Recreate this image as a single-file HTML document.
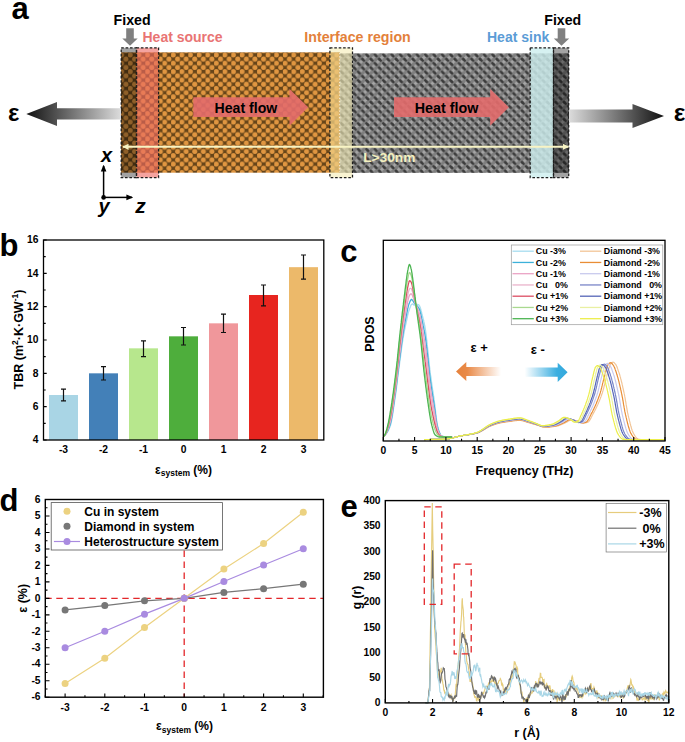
<!DOCTYPE html>
<html><head><meta charset="utf-8"><style>
html,body{margin:0;padding:0;background:#fff;}
svg{display:block;}
text{font-family:"Liberation Sans",sans-serif;}
</style></head><body>
<svg width="685" height="742" viewBox="0 0 685 742" font-family="Liberation Sans, sans-serif">
<rect width="685" height="742" fill="#fff"/>
<defs>
<pattern id="cu" x="119.5" y="52.3" width="8.6" height="8.4" patternUnits="userSpaceOnUse"><rect width="8.6" height="8.4" fill="#674519"/><g fill="#e09641"><circle cx="2.15" cy="2.6" r="2.5"/><circle cx="6.45" cy="6.8" r="2.5"/><circle cx="6.45" cy="-1.6" r="2.5"/><circle cx="-2.15" cy="6.8" r="2.5"/><circle cx="10.75" cy="6.8" r="2.5"/><circle cx="2.15" cy="11.0" r="2.5"/><circle cx="10.75" cy="-1.6" r="2.5"/><circle cx="-2.15" cy="-1.6" r="2.5"/></g></pattern>
<pattern id="dia" x="340" y="53.3" width="8.4" height="8.6" patternUnits="userSpaceOnUse"><rect width="8.4" height="8.6" fill="#7e7e7e"/><g fill="#3c3c3c"><ellipse cx="2.1" cy="2.15" rx="2.45" ry="1.45" transform="rotate(45 2.1 2.15)"/><ellipse cx="6.3" cy="6.45" rx="2.45" ry="1.45" transform="rotate(45 6.3 6.45)"/><ellipse cx="10.5" cy="2.15" rx="2.45" ry="1.45" transform="rotate(45 10.5 2.15)"/><ellipse cx="-2.1" cy="6.45" rx="2.45" ry="1.45" transform="rotate(45 -2.1 6.45)"/><ellipse cx="6.3" cy="-2.15" rx="2.45" ry="1.45" transform="rotate(45 6.3 -2.15)"/><ellipse cx="2.1" cy="10.75" rx="2.45" ry="1.45" transform="rotate(45 2.1 10.75)"/><ellipse cx="10.5" cy="10.75" rx="2.45" ry="1.45" transform="rotate(45 10.5 10.75)"/><ellipse cx="-2.1" cy="-2.15" rx="2.45" ry="1.45" transform="rotate(45 -2.1 -2.15)"/></g><g fill="#a8a8a8"><rect x="2.3000000000000003" y="-0.6" width="3.8" height="1.2"/><rect x="3.6" y="-1.9" width="1.2" height="3.8"/><circle cx="4.2" cy="0" r="1.1"/><rect x="2.3000000000000003" y="8.0" width="3.8" height="1.2"/><rect x="3.6" y="6.699999999999999" width="1.2" height="3.8"/><circle cx="4.2" cy="8.6" r="1.1"/><rect x="-1.9" y="3.6999999999999997" width="3.8" height="1.2"/><rect x="-0.6" y="2.4" width="1.2" height="3.8"/><circle cx="0" cy="4.3" r="1.1"/><rect x="6.5" y="3.6999999999999997" width="3.8" height="1.2"/><rect x="7.800000000000001" y="2.4" width="1.2" height="3.8"/><circle cx="8.4" cy="4.3" r="1.1"/></g></pattern>
<linearGradient id="gl" x1="0" x2="1" y1="0" y2="0"><stop offset="0" stop-color="#111"/><stop offset="1" stop-color="#dcdcdc"/></linearGradient>
<linearGradient id="gr" x1="0" x2="1" y1="0" y2="0"><stop offset="0" stop-color="#dcdcdc"/><stop offset="1" stop-color="#111"/></linearGradient>
<linearGradient id="go" x1="0" x2="1" y1="0" y2="0"><stop offset="0" stop-color="#e6823c"/><stop offset="0.25" stop-color="#e98a48"/><stop offset="1" stop-color="#e98a48" stop-opacity="0"/></linearGradient>
<linearGradient id="gb" x1="0" x2="1" y1="0" y2="0"><stop offset="0" stop-color="#3aaee0" stop-opacity="0"/><stop offset="0.75" stop-color="#3aaee0"/><stop offset="1" stop-color="#34a8dc"/></linearGradient>
<marker id="ya" viewBox="0 0 10 10" refX="9" refY="5" markerWidth="6.2" markerHeight="6.4" orient="auto-start-reverse" markerUnits="userSpaceOnUse"><path d="M0,0 L10,5 L0,10 z" fill="#f8f4c4"/></marker>
<marker id="ka" viewBox="0 0 10 10" refX="8" refY="5" markerWidth="7" markerHeight="7" orient="auto" markerUnits="userSpaceOnUse"><path d="M0,1 L10,5 L0,9 z" fill="#000"/></marker>
</defs>
<text x="11.5" y="18.6" font-size="31" font-weight="bold" fill="#000" text-anchor="start" >a</text>
<rect x="121" y="52.3" width="219" height="120.4" fill="url(#cu)"/>
<rect x="340" y="53.3" width="229" height="119.6" fill="url(#dia)"/>
<rect x="121.2" y="47.8" width="15.3" height="129.8" fill="#000" fill-opacity="0.36"/>
<rect x="136.5" y="47.8" width="22.1" height="129.8" fill="#ee6a64" fill-opacity="0.62"/>
<rect x="329.9" y="47.8" width="22.6" height="130" fill="#f6edb6" fill-opacity="0.62"/>
<rect x="329.9" y="52.3" width="9.8" height="120.2" fill="#e8b050" fill-opacity="0.4"/>
<line x1="339.7" y1="53" x2="339.7" y2="172" stroke="#fff" stroke-width="0.8" stroke-dasharray="1.2,2"/>
<rect x="530.2" y="47.8" width="23.3" height="129.8" fill="#cdeeee" fill-opacity="0.82"/>
<rect x="553.5" y="47.8" width="15.2" height="129.8" fill="#000" fill-opacity="0.36"/>
<rect x="121.2" y="47.8" width="15.3" height="129.8" fill="none" stroke="#1e1e1e" stroke-width="1.25" stroke-dasharray="2.6,1.8"/>
<rect x="136.5" y="47.8" width="22.1" height="129.8" fill="none" stroke="#1e1e1e" stroke-width="1.25" stroke-dasharray="2.6,1.8"/>
<rect x="329.9" y="47.8" width="22.6" height="129.8" fill="none" stroke="#1e1e1e" stroke-width="1.25" stroke-dasharray="2.6,1.8"/>
<rect x="530.2" y="47.8" width="23.3" height="129.8" fill="none" stroke="#1e1e1e" stroke-width="1.25" stroke-dasharray="2.6,1.8"/>
<rect x="553.5" y="47.8" width="15.2" height="129.8" fill="none" stroke="#1e1e1e" stroke-width="1.25" stroke-dasharray="2.6,1.8"/>
<path d="M193.3,97.3 L289.5,97.3 L289.5,88.9 L308.2,107.2 L289.5,125.7 L289.5,117 L193.3,117 Z" fill="#e36c6c" fill-opacity="0.9"/>
<path d="M394.0,97.3 L490.2,97.3 L490.2,88.9 L508.9,107.2 L490.2,125.7 L490.2,117 L394.0,117 Z" fill="#e36c6c" fill-opacity="0.9"/>
<text x="214.6" y="113.2" font-size="14.1" font-weight="bold" fill="#000" text-anchor="start" >Heat flow</text>
<text x="414.8" y="113.2" font-size="14.3" font-weight="bold" fill="#000" text-anchor="start" >Heat flow</text>
<line x1="123" y1="146.8" x2="568.5" y2="146.8" stroke="#f8f4c4" stroke-width="2.0" marker-start="url(#ya)" marker-end="url(#ya)"/>
<text x="363.2" y="162.4" font-size="13.7" font-weight="bold" fill="#f4f0bf" text-anchor="start" >L&gt;30nm</text>
<path d="M26.3,114 L57,102 L57,108.2 L121,108.2 L121,119.6 L57,119.6 L57,126 Z" fill="url(#gl)"/>
<path d="M569,109.6 L632.5,109.6 L632.5,104 L664,116 L632.5,128 L632.5,122.6 L569,122.6 Z" fill="url(#gr)"/>
<text x="8" y="121" font-size="24" font-weight="bold" fill="#000" text-anchor="start" >&#949;</text>
<text x="673.8" y="121.2" font-size="24.5" font-weight="bold" fill="#000" text-anchor="start" >&#949;</text>
<text x="113.6" y="24.8" font-size="14.2" font-weight="bold" fill="#000" text-anchor="start" >Fixed</text>
<text x="544.3" y="24.8" font-size="14.1" font-weight="bold" fill="#000" text-anchor="start" >Fixed</text>
<text x="142.5" y="41.8" font-size="14" font-weight="bold" fill="#e97474" text-anchor="start" >Heat source</text>
<text x="304.3" y="42.2" font-size="14.2" font-weight="bold" fill="#e3813b" text-anchor="start" >Interface region</text>
<text x="487" y="41.6" font-size="14" font-weight="bold" fill="#5b9cd6" text-anchor="start" >Heat sink</text>
<path d="M126.2,28.3 L133.8,28.3 L133.8,38.4 L137.7,38.4 L130.0,45.8 L122.3,38.4 L126.2,38.4 Z" fill="#808080"/>
<path d="M557.7,28.3 L565.3,28.3 L565.3,38.4 L569.2,38.4 L561.5,45.8 L553.8,38.4 L557.7,38.4 Z" fill="#808080"/>
<line x1="103.6" y1="197.4" x2="103.6" y2="166" stroke="#000" stroke-width="1.5" marker-end="url(#ka)"/>
<line x1="103.6" y1="197.4" x2="132" y2="197.4" stroke="#000" stroke-width="1.5" marker-end="url(#ka)"/>
<circle cx="103.6" cy="197.4" r="2.3" fill="#000"/>
<text x="101" y="161.8" font-size="20" font-weight="bold" fill="#000" text-anchor="start" font-style="italic">x</text>
<text x="98.5" y="213.3" font-size="20" font-weight="bold" fill="#000" text-anchor="start" font-style="italic">y</text>
<text x="135.3" y="212.8" font-size="21" font-weight="bold" fill="#000" text-anchor="start" font-style="italic">z</text>
<text x="-0.5" y="256" font-size="31" font-weight="bold" fill="#000" text-anchor="start" >b</text>
<rect x="49.00" y="395.00" width="29" height="45.00" fill="#a9d5e5"/>
<path d="M63.50,400.83 V389.17 M61.00,400.83 H66.00 M61.00,389.17 H66.00" stroke="#111" stroke-width="1.2" fill="none"/>
<text x="63.50" y="453.2" font-size="10.3" font-weight="bold" fill="#000" text-anchor="middle" >-3</text>
<rect x="89.00" y="373.33" width="29" height="66.67" fill="#4380b8"/>
<path d="M103.50,380.00 V366.67 M101.00,380.00 H106.00 M101.00,366.67 H106.00" stroke="#111" stroke-width="1.2" fill="none"/>
<text x="103.50" y="453.2" font-size="10.3" font-weight="bold" fill="#000" text-anchor="middle" >-2</text>
<rect x="129.00" y="348.33" width="29" height="91.67" fill="#b7e78d"/>
<path d="M143.50,356.67 V340.83 M141.00,356.67 H146.00 M141.00,340.83 H146.00" stroke="#111" stroke-width="1.2" fill="none"/>
<text x="143.50" y="453.2" font-size="10.3" font-weight="bold" fill="#000" text-anchor="middle" >-1</text>
<rect x="169.00" y="336.33" width="29" height="103.67" fill="#4eae3c"/>
<path d="M183.50,345.00 V327.50 M181.00,345.00 H186.00 M181.00,327.50 H186.00" stroke="#111" stroke-width="1.2" fill="none"/>
<text x="183.50" y="453.2" font-size="10.3" font-weight="bold" fill="#000" text-anchor="middle" >0</text>
<rect x="209.00" y="323.33" width="29" height="116.67" fill="#f0979b"/>
<path d="M223.50,332.50 V314.17 M221.00,332.50 H226.00 M221.00,314.17 H226.00" stroke="#111" stroke-width="1.2" fill="none"/>
<text x="223.50" y="453.2" font-size="10.3" font-weight="bold" fill="#000" text-anchor="middle" >1</text>
<rect x="249.00" y="295.00" width="29" height="145.00" fill="#e7251f"/>
<path d="M263.50,305.83 V285.00 M261.00,305.83 H266.00 M261.00,285.00 H266.00" stroke="#111" stroke-width="1.2" fill="none"/>
<text x="263.50" y="453.2" font-size="10.3" font-weight="bold" fill="#000" text-anchor="middle" >2</text>
<rect x="289.00" y="267.17" width="29" height="172.83" fill="#ecb96a"/>
<path d="M303.50,279.17 V255.00 M301.00,279.17 H306.00 M301.00,255.00 H306.00" stroke="#111" stroke-width="1.2" fill="none"/>
<text x="303.50" y="453.2" font-size="10.3" font-weight="bold" fill="#000" text-anchor="middle" >3</text>
<path d="M43.5,440.00 h3.2 M43.5,423.33 h2.2 M43.5,406.67 h3.2 M43.5,390.00 h2.2 M43.5,373.33 h3.2 M43.5,356.67 h2.2 M43.5,340.00 h3.2 M43.5,323.33 h2.2 M43.5,306.67 h3.2 M43.5,290.00 h2.2 M43.5,273.33 h3.2 M43.5,256.67 h2.2 M43.5,240.00 h3.2" stroke="#000" stroke-width="1.1"/>
<text x="38.5" y="443.30" font-size="10.3" font-weight="bold" fill="#000" text-anchor="end" >4</text>
<text x="38.5" y="409.97" font-size="10.3" font-weight="bold" fill="#000" text-anchor="end" >6</text>
<text x="38.5" y="376.63" font-size="10.3" font-weight="bold" fill="#000" text-anchor="end" >8</text>
<text x="38.5" y="343.30" font-size="10.3" font-weight="bold" fill="#000" text-anchor="end" >10</text>
<text x="38.5" y="309.97" font-size="10.3" font-weight="bold" fill="#000" text-anchor="end" >12</text>
<text x="38.5" y="276.63" font-size="10.3" font-weight="bold" fill="#000" text-anchor="end" >14</text>
<text x="38.5" y="243.30" font-size="10.3" font-weight="bold" fill="#000" text-anchor="end" >16</text>
<rect x="43.5" y="240.0" width="280.3" height="200.0" fill="none" stroke="#000" stroke-width="1.3"/>
<text x="22.6" y="339.5" font-size="12.5" font-weight="bold" text-anchor="middle" transform="rotate(-90 22.6 339.5)">TBR (m<tspan font-size="8.5" dy="-4.5">2</tspan><tspan dy="4.5">&#183;K&#183;GW</tspan><tspan font-size="8.5" dy="-4.5">-1</tspan><tspan dy="4.5">)</tspan></text>
<text x="155" y="473.5" font-size="12" font-weight="bold">&#949;<tspan font-size="8.5" dy="2.6">system</tspan><tspan dy="-2.6"> (%)</tspan></text>
<text x="340.3" y="261.6" font-size="31" font-weight="bold" fill="#000" text-anchor="start" >c</text>
<path d="M424.2,439.6 L424.4,439.6 L424.7,439.6 L424.9,439.6 L425.1,439.6 L425.4,439.5 L425.6,439.5 L425.8,439.5 L426.1,439.5 L426.3,439.5 L426.5,439.5 L426.8,439.5 L427.0,439.5 L427.2,439.5 L427.5,439.5 L427.7,439.5 L427.9,439.5 L428.2,439.5 L428.4,439.5 L428.6,439.5 L428.9,439.5 L429.1,439.5 L429.3,439.5 L429.6,439.5 L429.8,439.5 L430.1,439.5 L430.3,439.5 L430.5,439.5 L430.8,439.5 L431.0,439.4 L431.2,439.4 L431.5,439.4 L431.7,439.4 L431.9,439.4 L432.2,439.4 L432.4,439.4 L432.6,439.4 L432.9,439.4 L433.1,439.4 L433.3,439.4 L433.6,439.4 L433.8,439.4 L434.0,439.4 L434.3,439.4 L434.5,439.4 L434.8,439.4 L435.0,439.4 L435.2,439.4 L435.5,439.4 L435.7,439.4 L435.9,439.3 L436.2,439.3 L436.4,439.3 L436.6,439.3 L436.9,439.3 L437.1,439.3 L437.3,439.3 L437.6,439.3 L437.8,439.3 L438.0,439.3 L438.3,439.3 L438.5,439.3 L438.7,439.3 L439.0,439.3 L439.2,439.3 L439.5,439.3 L439.7,439.3 L439.9,439.2 L440.2,439.2 L440.4,439.2 L440.6,439.2 L440.9,439.2 L441.1,439.2 L441.3,439.2 L441.6,439.2 L441.8,439.2 L442.0,439.2 L442.3,439.2 L442.5,439.2 L442.7,439.1 L443.0,439.1 L443.2,439.1 L443.4,439.1 L443.7,439.1 L443.9,439.1 L444.2,439.1 L444.4,439.1 L444.6,439.1 L444.9,439.1 L445.1,439.0 L445.3,439.0 L445.6,439.0 L445.8,439.0 L446.0,439.0 L446.3,439.0 L446.5,439.0 L446.7,438.9 L447.0,438.9 L447.2,438.9 L447.4,438.9 L447.7,438.8 L447.9,438.8 L448.1,438.8 L448.4,438.7 L448.6,438.7 L448.8,438.7 L449.1,438.6 L449.3,438.6 L449.6,438.6 L449.8,438.5 L450.0,438.5 L450.3,438.4 L450.5,438.4 L450.7,438.3 L451.0,438.3 L451.2,438.2 L451.4,438.2 L451.7,438.1 L451.9,438.1 L452.1,438.0 L452.4,438.0 L452.6,437.9 L452.8,437.8 L453.1,437.8 L453.3,437.7 L453.5,437.7 L453.8,437.6 L454.0,437.5 L454.3,437.5 L454.5,437.4 L454.7,437.4 L455.0,437.3 L455.2,437.2 L455.4,437.2 L455.7,437.1 L455.9,437.1 L456.1,437.0 L456.4,436.9 L456.6,436.9 L456.8,436.8 L457.1,436.8 L457.3,436.7 L457.5,436.6 L457.8,436.6 L458.0,436.5 L458.2,436.5 L458.5,436.4 L458.7,436.4 L459.0,436.3 L459.2,436.3 L459.4,436.2 L459.7,436.2 L459.9,436.1 L460.1,436.1 L460.4,436.0 L460.6,436.0 L460.8,435.9 L461.1,435.9 L461.3,435.8 L461.5,435.8 L461.8,435.8 L462.0,435.7 L462.2,435.7 L462.5,435.7 L462.7,435.6 L462.9,435.6 L463.2,435.5 L463.4,435.5 L463.7,435.5 L463.9,435.4 L464.1,435.4 L464.4,435.4 L464.6,435.3 L464.8,435.3 L465.1,435.3 L465.3,435.2 L465.5,435.2 L465.8,435.1 L466.0,435.1 L466.2,435.1 L466.5,435.0 L466.7,435.0 L466.9,435.0 L467.2,434.9 L467.4,434.9 L467.6,434.9 L467.9,434.8 L468.1,434.8 L468.4,434.8 L468.6,434.7 L468.8,434.7 L469.1,434.7 L469.3,434.6 L469.5,434.6 L469.8,434.6 L470.0,434.5 L470.2,434.5 L470.5,434.4 L470.7,434.4 L470.9,434.4 L471.2,434.3 L471.4,434.3 L471.6,434.2 L471.9,434.2 L472.1,434.2 L472.3,434.1 L472.6,434.1 L472.8,434.0 L473.0,434.0 L473.3,433.9 L473.5,433.9 L473.8,433.8 L474.0,433.8 L474.2,433.8 L474.5,433.7 L474.7,433.7 L474.9,433.6 L475.2,433.5 L475.4,433.5 L475.6,433.4 L475.9,433.4 L476.1,433.3 L476.3,433.3 L476.6,433.2 L476.8,433.1 L477.0,433.1 L477.3,433.0 L477.5,432.9 L477.7,432.9 L478.0,432.8 L478.2,432.7 L478.5,432.6 L478.7,432.5 L478.9,432.4 L479.2,432.3 L479.4,432.2 L479.6,432.1 L479.9,432.0 L480.1,431.8 L480.3,431.7 L480.6,431.6 L480.8,431.5 L481.0,431.4 L481.3,431.2 L481.5,431.1 L481.7,431.0 L482.0,430.8 L482.2,430.7 L482.4,430.6 L482.7,430.4 L482.9,430.3 L483.2,430.2 L483.4,430.0 L483.6,429.9 L483.9,429.7 L484.1,429.6 L484.3,429.5 L484.6,429.3 L484.8,429.2 L485.0,429.0 L485.3,428.9 L485.5,428.7 L485.7,428.6 L486.0,428.4 L486.2,428.3 L486.4,428.1 L486.7,428.0 L486.9,427.9 L487.1,427.7 L487.4,427.6 L487.6,427.5 L487.9,427.3 L488.1,427.2 L488.3,427.1 L488.6,427.0 L488.8,426.8 L489.0,426.7 L489.3,426.6 L489.5,426.5 L489.7,426.4 L490.0,426.3 L490.2,426.2 L490.4,426.1 L490.7,426.0 L490.9,425.9 L491.1,425.8 L491.4,425.7 L491.6,425.6 L491.8,425.5 L492.1,425.5 L492.3,425.4 L492.5,425.3 L492.8,425.2 L493.0,425.1 L493.3,425.0 L493.5,424.9 L493.7,424.8 L494.0,424.8 L494.2,424.7 L494.4,424.6 L494.7,424.5 L494.9,424.4 L495.1,424.3 L495.4,424.3 L495.6,424.2 L495.8,424.1 L496.1,424.0 L496.3,424.0 L496.5,423.9 L496.8,423.8 L497.0,423.8 L497.2,423.7 L497.5,423.6 L497.7,423.6 L498.0,423.5 L498.2,423.4 L498.4,423.4 L498.7,423.3 L498.9,423.2 L499.1,423.2 L499.4,423.1 L499.6,423.1 L499.8,423.0 L500.1,423.0 L500.3,422.9 L500.5,422.9 L500.8,422.8 L501.0,422.8 L501.2,422.8 L501.5,422.7 L501.7,422.7 L501.9,422.6 L502.2,422.6 L502.4,422.5 L502.7,422.5 L502.9,422.5 L503.1,422.4 L503.4,422.4 L503.6,422.3 L503.8,422.3 L504.1,422.3 L504.3,422.2 L504.5,422.2 L504.8,422.2 L505.0,422.1 L505.2,422.1 L505.5,422.1 L505.7,422.0 L505.9,422.0 L506.2,422.0 L506.4,421.9 L506.6,421.9 L506.9,421.9 L507.1,421.8 L507.4,421.8 L507.6,421.8 L507.8,421.7 L508.1,421.7 L508.3,421.7 L508.5,421.6 L508.8,421.6 L509.0,421.6 L509.2,421.5 L509.5,421.5 L509.7,421.5 L509.9,421.5 L510.2,421.4 L510.4,421.4 L510.6,421.4 L510.9,421.3 L511.1,421.3 L511.3,421.3 L511.6,421.2 L511.8,421.2 L512.1,421.2 L512.3,421.1 L512.5,421.1 L512.8,421.0 L513.0,421.0 L513.2,421.0 L513.5,420.9 L513.7,420.9 L513.9,420.9 L514.2,420.9 L514.4,420.8 L514.6,420.8 L514.9,420.8 L515.1,420.7 L515.3,420.7 L515.6,420.7 L515.8,420.7 L516.0,420.6 L516.3,420.6 L516.5,420.6 L516.7,420.6 L517.0,420.5 L517.2,420.5 L517.5,420.5 L517.7,420.5 L517.9,420.5 L518.2,420.5 L518.4,420.4 L518.6,420.4 L518.9,420.4 L519.1,420.4 L519.3,420.4 L519.6,420.4 L519.8,420.4 L520.0,420.4 L520.3,420.4 L520.5,420.4 L520.7,420.5 L521.0,420.5 L521.2,420.5 L521.4,420.6 L521.7,420.6 L521.9,420.7 L522.2,420.7 L522.4,420.8 L522.6,420.8 L522.9,420.9 L523.1,420.9 L523.3,421.0 L523.6,421.1 L523.8,421.1 L524.0,421.2 L524.3,421.3 L524.5,421.4 L524.7,421.4 L525.0,421.5 L525.2,421.6 L525.4,421.7 L525.7,421.7 L525.9,421.8 L526.1,421.9 L526.4,422.0 L526.6,422.0 L526.9,422.1 L527.1,422.2 L527.3,422.3 L527.6,422.3 L527.8,422.4 L528.0,422.5 L528.3,422.5 L528.5,422.6 L528.7,422.7 L529.0,422.7 L529.2,422.8 L529.4,422.8 L529.7,422.9 L529.9,423.0 L530.1,423.0 L530.4,423.1 L530.6,423.2 L530.8,423.2 L531.1,423.3 L531.3,423.4 L531.6,423.4 L531.8,423.5 L532.0,423.6 L532.3,423.6 L532.5,423.7 L532.7,423.8 L533.0,423.8 L533.2,423.9 L533.4,424.0 L533.7,424.1 L533.9,424.1 L534.1,424.2 L534.4,424.3 L534.6,424.3 L534.8,424.4 L535.1,424.5 L535.3,424.5 L535.5,424.6 L535.8,424.7 L536.0,424.7 L536.2,424.8 L536.5,424.9 L536.7,424.9 L537.0,425.0 L537.2,425.1 L537.4,425.1 L537.7,425.2 L537.9,425.3 L538.1,425.4 L538.4,425.4 L538.6,425.5 L538.8,425.6 L539.1,425.7 L539.3,425.8 L539.5,425.9 L539.8,425.9 L540.0,426.0 L540.2,426.1 L540.5,426.2 L540.7,426.3 L540.9,426.4 L541.2,426.4 L541.4,426.5 L541.7,426.6 L541.9,426.7 L542.1,426.7 L542.4,426.8 L542.6,426.9 L542.8,426.9 L543.1,427.0 L543.3,427.1 L543.5,427.1 L543.8,427.1 L544.0,427.2 L544.2,427.2 L544.5,427.2 L544.7,427.3 L544.9,427.3 L545.2,427.3 L545.4,427.3 L545.6,427.3 L545.9,427.3 L546.1,427.3 L546.4,427.3 L546.6,427.3 L546.8,427.3 L547.1,427.2 L547.3,427.2 L547.5,427.2 L547.8,427.2 L548.0,427.2 L548.2,427.2 L548.5,427.2 L548.7,427.1 L548.9,427.1 L549.2,427.1 L549.4,427.1 L549.6,427.1 L549.9,427.0 L550.1,427.0 L550.3,427.0 L550.6,427.0 L550.8,426.9 L551.1,426.9 L551.3,426.9 L551.5,426.9 L551.8,426.8 L552.0,426.8 L552.2,426.8 L552.5,426.7 L552.7,426.7 L552.9,426.7 L553.2,426.6 L553.4,426.6 L553.6,426.6 L553.9,426.5 L554.1,426.5 L554.3,426.5 L554.6,426.4 L554.8,426.4 L555.0,426.4 L555.3,426.3 L555.5,426.3 L555.8,426.3 L556.0,426.2 L556.2,426.2 L556.5,426.1 L556.7,426.1 L556.9,426.1 L557.2,426.0 L557.4,425.9 L557.6,425.9 L557.9,425.8 L558.1,425.8 L558.3,425.7 L558.6,425.6 L558.8,425.5 L559.0,425.5 L559.3,425.4 L559.5,425.3 L559.7,425.2 L560.0,425.1 L560.2,425.0 L560.4,424.9 L560.7,424.8 L560.9,424.7 L561.2,424.6 L561.4,424.5 L561.6,424.4 L561.9,424.3 L562.1,424.2 L562.3,424.1 L562.6,424.0 L562.8,423.9 L563.0,423.8 L563.3,423.7 L563.5,423.6 L563.7,423.5 L564.0,423.4 L564.2,423.3 L564.4,423.2 L564.7,423.1 L564.9,423.0 L565.1,422.9 L565.4,422.8 L565.6,422.7 L565.9,422.6 L566.1,422.4 L566.3,422.3 L566.6,422.2 L566.8,422.0 L567.0,421.9 L567.3,421.7 L567.5,421.6 L567.7,421.5 L568.0,421.3 L568.2,421.2 L568.4,421.1 L568.7,420.9 L568.9,420.8 L569.1,420.7 L569.4,420.6 L569.6,420.5 L569.8,420.4 L570.1,420.3 L570.3,420.2 L570.6,420.1 L570.8,420.1 L571.0,420.0 L571.3,420.0 L571.5,420.0 L571.7,420.0 L572.0,420.0 L572.2,420.0 L572.4,420.0 L572.7,420.0 L572.9,420.1 L573.1,420.1 L573.4,420.1 L573.6,420.2 L573.8,420.2 L574.1,420.3 L574.3,420.3 L574.5,420.4 L574.8,420.4 L575.0,420.5 L575.3,420.6 L575.5,420.6 L575.7,420.7 L576.0,420.8 L576.2,420.9 L576.4,420.9 L576.7,421.0 L576.9,421.0 L577.1,421.1 L577.4,421.1 L577.6,421.2 L577.8,421.2 L578.1,421.3 L578.3,421.3 L578.5,421.3 L578.8,421.4 L579.0,421.4 L579.2,421.5 L579.5,421.5 L579.7,421.6 L579.9,421.7 L580.2,421.8 L580.4,421.9 L580.7,422.0 L580.9,422.1 L581.1,422.2 L581.4,422.4 L581.6,422.5 L581.8,422.6 L582.1,422.7 L582.3,422.8 L582.5,422.9 L582.8,423.0 L583.0,423.1 L583.2,423.1 L583.5,423.2 L583.7,423.2 L583.9,423.2 L584.2,423.1 L584.4,423.1 L584.6,423.0 L584.9,423.0 L585.1,423.0 L585.4,422.9 L585.6,422.8 L585.8,422.8 L586.1,422.7 L586.3,422.7 L586.5,422.6 L586.8,422.5 L587.0,422.4 L587.2,422.4 L587.5,422.3 L587.7,422.2 L587.9,422.1 L588.2,422.0 L588.4,421.8 L588.6,421.6 L588.9,421.4 L589.1,421.1 L589.3,420.8 L589.6,420.5 L589.8,420.1 L590.1,419.7 L590.3,419.3 L590.5,418.9 L590.8,418.4 L591.0,418.0 L591.2,417.5 L591.5,417.0 L591.7,416.5 L591.9,416.0 L592.2,415.6 L592.4,415.1 L592.6,414.7 L592.9,414.2 L593.1,413.8 L593.3,413.4 L593.6,412.9 L593.8,412.5 L594.0,412.1 L594.3,411.6 L594.5,411.2 L594.8,410.8 L595.0,410.3 L595.2,409.9 L595.5,409.4 L595.7,408.9 L595.9,408.5 L596.2,408.0 L596.4,407.5 L596.6,407.0 L596.9,406.5 L597.1,406.0 L597.3,405.5 L597.6,405.0 L597.8,404.5 L598.0,403.9 L598.3,403.4 L598.5,402.9 L598.7,402.3 L599.0,401.8 L599.2,401.2 L599.5,400.6 L599.7,400.0 L599.9,399.4 L600.2,398.8 L600.4,398.2 L600.6,397.6 L600.9,397.0 L601.1,396.4 L601.3,395.7 L601.6,395.1 L601.8,394.4 L602.0,393.7 L602.3,393.0 L602.5,392.3 L602.7,391.5 L603.0,390.7 L603.2,389.8 L603.4,389.0 L603.7,388.1 L603.9,387.2 L604.1,386.2 L604.4,385.3 L604.6,384.4 L604.9,383.4 L605.1,382.5 L605.3,381.5 L605.6,380.6 L605.8,379.6 L606.0,378.7 L606.3,377.8 L606.5,376.9 L606.7,376.1 L607.0,375.2 L607.2,374.4 L607.4,373.6 L607.7,372.8 L607.9,372.0 L608.1,371.1 L608.4,370.2 L608.6,369.4 L608.8,368.5 L609.1,367.7 L609.3,367.0 L609.6,366.3 L609.8,365.6 L610.0,365.0 L610.3,364.5 L610.5,364.1 L610.7,363.8 L611.0,363.5 L611.2,363.3 L611.4,363.0 L611.7,362.8 L611.9,362.6 L612.1,362.5 L612.4,362.4 L612.6,362.3 L612.8,362.2 L613.1,362.2 L613.3,362.2 L613.5,362.3 L613.8,362.4 L614.0,362.6 L614.3,362.8 L614.5,363.1 L614.7,363.3 L615.0,363.6 L615.2,363.9 L615.4,364.1 L615.7,364.4 L615.9,364.8 L616.1,365.2 L616.4,365.6 L616.6,366.1 L616.8,366.6 L617.1,367.2 L617.3,367.8 L617.5,368.4 L617.8,369.1 L618.0,369.8 L618.2,370.5 L618.5,371.2 L618.7,371.9 L619.0,372.6 L619.2,373.3 L619.4,374.1 L619.7,374.8 L619.9,375.6 L620.1,376.4 L620.4,377.2 L620.6,378.1 L620.8,379.0 L621.1,379.9 L621.3,380.8 L621.5,381.8 L621.8,382.7 L622.0,383.7 L622.2,384.7 L622.5,385.7 L622.7,386.8 L622.9,387.8 L623.2,388.9 L623.4,389.9 L623.6,391.0 L623.9,392.1 L624.1,393.2 L624.4,394.3 L624.6,395.5 L624.8,396.7 L625.1,398.0 L625.3,399.3 L625.5,400.7 L625.8,402.1 L626.0,403.5 L626.2,404.9 L626.5,406.3 L626.7,407.7 L626.9,409.0 L627.2,410.3 L627.4,411.6 L627.6,412.8 L627.9,413.9 L628.1,414.9 L628.3,415.9 L628.6,416.9 L628.8,417.9 L629.1,418.9 L629.3,419.9 L629.5,420.8 L629.8,421.8 L630.0,422.7 L630.2,423.7 L630.5,424.6 L630.7,425.5 L630.9,426.3 L631.2,427.1 L631.4,427.9 L631.6,428.7 L631.9,429.5 L632.1,430.2 L632.3,430.8 L632.6,431.5 L632.8,432.0 L633.0,432.6 L633.3,433.1 L633.5,433.5 L633.8,433.9 L634.0,434.3 L634.2,434.7 L634.5,435.1 L634.7,435.4 L634.9,435.8 L635.2,436.1 L635.4,436.5 L635.6,436.8 L635.9,437.1 L636.1,437.4 L636.3,437.7 L636.6,437.9 L636.8,438.2 L637.0,438.4 L637.3,438.6 L637.5,438.8 L637.7,438.9 L638.0,439.1 L638.2,439.2 L638.5,439.2 L638.7,439.3 L638.9,439.3 L639.2,439.3 L639.4,439.4 L639.6,439.4 L639.9,439.4 L640.1,439.4 L640.3,439.5 L640.6,439.5 L640.8,439.5 L641.0,439.5 L641.3,439.5 L641.5,439.6 L641.7,439.6 L642.0,439.6 L642.2,439.6 L642.4,439.6 L642.7,439.6 L642.9,439.6 L643.2,439.6 L643.4,439.6 L643.6,439.6 L643.9,439.6 L644.1,439.6 L644.3,439.6 L644.6,439.6 L644.8,439.6 L645.0,439.6 L645.3,439.6 L645.5,439.6 L645.7,439.6 L646.0,439.6 L646.2,439.6 L646.4,439.6 L646.7,439.6 L646.9,439.6 L647.1,439.6 L647.4,439.6 L647.6,439.6 L647.8,439.6 L648.1,439.6 L648.3,439.6 L648.6,439.6 L648.8,439.6 L649.0,439.6 L649.3,439.6 L649.5,439.6 L649.7,439.6 L650.0,439.6 L650.2,439.6 L650.4,439.6 L650.7,439.6 L650.9,439.6 L651.1,439.6 L651.4,439.6 L651.6,439.6 L651.8,439.6 L652.1,439.6 L652.3,439.6 L652.5,439.6 L652.8,439.6 L653.0,439.6 L653.3,439.6 L653.5,439.6 L653.7,439.6 L654.0,439.6 L654.2,439.6 L654.4,439.6 L654.7,439.6 L654.9,439.6 L655.1,439.6 L655.4,439.6 L655.6,439.6 L655.8,439.6 L656.1,439.6 L656.3,439.6 L656.5,439.6 L656.8,439.6 L657.0,439.6 L657.2,439.6 L657.5,439.6 L657.7,439.6 L658.0,439.6 L658.2,439.6 L658.4,439.6 L658.7,439.6 L658.9,439.6 L659.1,439.6 L659.4,439.6 L659.6,439.6 L659.8,439.6 L660.1,439.6 L660.3,439.6 L660.5,439.6 L660.8,439.6 L661.0,439.6 L661.2,439.6 L661.5,439.6 L661.7,439.6 L661.9,439.6 L662.2,439.6 L662.4,439.6 L662.7,439.6 L662.9,439.6 L663.1,439.6 L663.4,439.6 L663.6,439.6 L663.8,439.6 L664.1,439.6 L664.3,439.6 L664.5,439.6 L664.8,439.6 L665.0,439.6" fill="none" stroke="#f2c597" stroke-width="1.2"/>
<path d="M424.2,439.6 L424.4,439.6 L424.7,439.6 L424.9,439.6 L425.1,439.6 L425.4,439.5 L425.6,439.5 L425.8,439.5 L426.1,439.5 L426.3,439.5 L426.5,439.5 L426.8,439.5 L427.0,439.5 L427.2,439.5 L427.5,439.5 L427.7,439.5 L427.9,439.5 L428.2,439.5 L428.4,439.5 L428.6,439.5 L428.9,439.5 L429.1,439.5 L429.3,439.5 L429.6,439.5 L429.8,439.5 L430.1,439.5 L430.3,439.5 L430.5,439.5 L430.8,439.5 L431.0,439.4 L431.2,439.4 L431.5,439.4 L431.7,439.4 L431.9,439.4 L432.2,439.4 L432.4,439.4 L432.6,439.4 L432.9,439.4 L433.1,439.4 L433.3,439.4 L433.6,439.4 L433.8,439.4 L434.0,439.4 L434.3,439.4 L434.5,439.4 L434.8,439.4 L435.0,439.4 L435.2,439.4 L435.5,439.4 L435.7,439.4 L435.9,439.3 L436.2,439.3 L436.4,439.3 L436.6,439.3 L436.9,439.3 L437.1,439.3 L437.3,439.3 L437.6,439.3 L437.8,439.3 L438.0,439.3 L438.3,439.3 L438.5,439.3 L438.7,439.3 L439.0,439.3 L439.2,439.3 L439.5,439.3 L439.7,439.3 L439.9,439.2 L440.2,439.2 L440.4,439.2 L440.6,439.2 L440.9,439.2 L441.1,439.2 L441.3,439.2 L441.6,439.2 L441.8,439.2 L442.0,439.2 L442.3,439.2 L442.5,439.2 L442.7,439.1 L443.0,439.1 L443.2,439.1 L443.4,439.1 L443.7,439.1 L443.9,439.1 L444.2,439.1 L444.4,439.1 L444.6,439.1 L444.9,439.1 L445.1,439.0 L445.3,439.0 L445.6,439.0 L445.8,439.0 L446.0,439.0 L446.3,439.0 L446.5,439.0 L446.7,438.9 L447.0,438.9 L447.2,438.9 L447.4,438.9 L447.7,438.8 L447.9,438.8 L448.1,438.8 L448.4,438.7 L448.6,438.7 L448.8,438.7 L449.1,438.6 L449.3,438.6 L449.6,438.6 L449.8,438.5 L450.0,438.5 L450.3,438.4 L450.5,438.4 L450.7,438.3 L451.0,438.3 L451.2,438.2 L451.4,438.2 L451.7,438.1 L451.9,438.1 L452.1,438.0 L452.4,438.0 L452.6,437.9 L452.8,437.8 L453.1,437.8 L453.3,437.7 L453.5,437.7 L453.8,437.6 L454.0,437.5 L454.3,437.5 L454.5,437.4 L454.7,437.4 L455.0,437.3 L455.2,437.2 L455.4,437.2 L455.7,437.1 L455.9,437.1 L456.1,437.0 L456.4,436.9 L456.6,436.9 L456.8,436.8 L457.1,436.8 L457.3,436.7 L457.5,436.6 L457.8,436.6 L458.0,436.5 L458.2,436.5 L458.5,436.4 L458.7,436.4 L459.0,436.3 L459.2,436.3 L459.4,436.2 L459.7,436.2 L459.9,436.1 L460.1,436.1 L460.4,436.0 L460.6,436.0 L460.8,435.9 L461.1,435.9 L461.3,435.8 L461.5,435.8 L461.8,435.8 L462.0,435.7 L462.2,435.7 L462.5,435.6 L462.7,435.6 L462.9,435.6 L463.2,435.5 L463.4,435.5 L463.7,435.4 L463.9,435.4 L464.1,435.4 L464.4,435.3 L464.6,435.3 L464.8,435.3 L465.1,435.2 L465.3,435.2 L465.5,435.2 L465.8,435.1 L466.0,435.1 L466.2,435.1 L466.5,435.0 L466.7,435.0 L466.9,434.9 L467.2,434.9 L467.4,434.9 L467.6,434.8 L467.9,434.8 L468.1,434.8 L468.4,434.7 L468.6,434.7 L468.8,434.7 L469.1,434.6 L469.3,434.6 L469.5,434.5 L469.8,434.5 L470.0,434.5 L470.2,434.4 L470.5,434.4 L470.7,434.4 L470.9,434.3 L471.2,434.3 L471.4,434.2 L471.6,434.2 L471.9,434.1 L472.1,434.1 L472.3,434.1 L472.6,434.0 L472.8,434.0 L473.0,433.9 L473.3,433.9 L473.5,433.8 L473.8,433.8 L474.0,433.7 L474.2,433.7 L474.5,433.6 L474.7,433.6 L474.9,433.5 L475.2,433.5 L475.4,433.4 L475.6,433.3 L475.9,433.3 L476.1,433.2 L476.3,433.2 L476.6,433.1 L476.8,433.0 L477.0,433.0 L477.3,432.9 L477.5,432.8 L477.7,432.7 L478.0,432.7 L478.2,432.6 L478.5,432.5 L478.7,432.4 L478.9,432.3 L479.2,432.2 L479.4,432.0 L479.6,431.9 L479.9,431.8 L480.1,431.7 L480.3,431.6 L480.6,431.4 L480.8,431.3 L481.0,431.2 L481.3,431.1 L481.5,430.9 L481.7,430.8 L482.0,430.7 L482.2,430.5 L482.4,430.4 L482.7,430.3 L482.9,430.1 L483.2,430.0 L483.4,429.8 L483.6,429.7 L483.9,429.5 L484.1,429.4 L484.3,429.2 L484.6,429.1 L484.8,428.9 L485.0,428.8 L485.3,428.6 L485.5,428.5 L485.7,428.3 L486.0,428.2 L486.2,428.0 L486.4,427.9 L486.7,427.8 L486.9,427.6 L487.1,427.5 L487.4,427.3 L487.6,427.2 L487.9,427.1 L488.1,426.9 L488.3,426.8 L488.6,426.7 L488.8,426.6 L489.0,426.4 L489.3,426.3 L489.5,426.2 L489.7,426.1 L490.0,426.0 L490.2,425.9 L490.4,425.8 L490.7,425.7 L490.9,425.6 L491.1,425.5 L491.4,425.4 L491.6,425.3 L491.8,425.2 L492.1,425.1 L492.3,425.1 L492.5,425.0 L492.8,424.9 L493.0,424.8 L493.3,424.7 L493.5,424.6 L493.7,424.5 L494.0,424.4 L494.2,424.3 L494.4,424.3 L494.7,424.2 L494.9,424.1 L495.1,424.0 L495.4,423.9 L495.6,423.9 L495.8,423.8 L496.1,423.7 L496.3,423.6 L496.5,423.6 L496.8,423.5 L497.0,423.4 L497.2,423.3 L497.5,423.3 L497.7,423.2 L498.0,423.1 L498.2,423.1 L498.4,423.0 L498.7,423.0 L498.9,422.9 L499.1,422.8 L499.4,422.8 L499.6,422.7 L499.8,422.7 L500.1,422.6 L500.3,422.6 L500.5,422.5 L500.8,422.5 L501.0,422.4 L501.2,422.4 L501.5,422.3 L501.7,422.3 L501.9,422.2 L502.2,422.2 L502.4,422.2 L502.7,422.1 L502.9,422.1 L503.1,422.0 L503.4,422.0 L503.6,422.0 L503.8,421.9 L504.1,421.9 L504.3,421.8 L504.5,421.8 L504.8,421.8 L505.0,421.7 L505.2,421.7 L505.5,421.7 L505.7,421.6 L505.9,421.6 L506.2,421.6 L506.4,421.5 L506.6,421.5 L506.9,421.5 L507.1,421.4 L507.4,421.4 L507.6,421.4 L507.8,421.3 L508.1,421.3 L508.3,421.3 L508.5,421.2 L508.8,421.2 L509.0,421.2 L509.2,421.2 L509.5,421.1 L509.7,421.1 L509.9,421.1 L510.2,421.0 L510.4,421.0 L510.6,421.0 L510.9,420.9 L511.1,420.9 L511.3,420.9 L511.6,420.8 L511.8,420.8 L512.1,420.7 L512.3,420.7 L512.5,420.7 L512.8,420.6 L513.0,420.6 L513.2,420.6 L513.5,420.5 L513.7,420.5 L513.9,420.5 L514.2,420.4 L514.4,420.4 L514.6,420.4 L514.9,420.4 L515.1,420.3 L515.3,420.3 L515.6,420.3 L515.8,420.2 L516.0,420.2 L516.3,420.2 L516.5,420.2 L516.7,420.1 L517.0,420.1 L517.2,420.1 L517.5,420.1 L517.7,420.1 L517.9,420.1 L518.2,420.0 L518.4,420.0 L518.6,420.0 L518.9,420.0 L519.1,420.0 L519.3,420.0 L519.6,420.0 L519.8,420.0 L520.0,420.0 L520.3,420.0 L520.5,420.0 L520.7,420.1 L521.0,420.1 L521.2,420.1 L521.4,420.2 L521.7,420.2 L521.9,420.2 L522.2,420.3 L522.4,420.4 L522.6,420.4 L522.9,420.5 L523.1,420.5 L523.3,420.6 L523.6,420.7 L523.8,420.7 L524.0,420.8 L524.3,420.9 L524.5,421.0 L524.7,421.0 L525.0,421.1 L525.2,421.2 L525.4,421.3 L525.7,421.4 L525.9,421.4 L526.1,421.5 L526.4,421.6 L526.6,421.7 L526.9,421.8 L527.1,421.8 L527.3,421.9 L527.6,422.0 L527.8,422.0 L528.0,422.1 L528.3,422.2 L528.5,422.2 L528.7,422.3 L529.0,422.4 L529.2,422.4 L529.4,422.5 L529.7,422.6 L529.9,422.6 L530.1,422.7 L530.4,422.8 L530.6,422.9 L530.8,422.9 L531.1,423.0 L531.3,423.1 L531.6,423.1 L531.8,423.2 L532.0,423.3 L532.3,423.3 L532.5,423.4 L532.7,423.5 L533.0,423.6 L533.2,423.6 L533.4,423.7 L533.7,423.8 L533.9,423.9 L534.1,423.9 L534.4,424.0 L534.6,424.1 L534.8,424.1 L535.1,424.2 L535.3,424.3 L535.5,424.4 L535.8,424.4 L536.0,424.5 L536.2,424.6 L536.5,424.6 L536.7,424.7 L537.0,424.8 L537.2,424.8 L537.4,424.9 L537.7,425.0 L537.9,425.1 L538.1,425.2 L538.4,425.2 L538.6,425.3 L538.8,425.4 L539.1,425.5 L539.3,425.6 L539.5,425.7 L539.8,425.8 L540.0,425.9 L540.2,426.0 L540.5,426.0 L540.7,426.1 L540.9,426.2 L541.2,426.3 L541.4,426.4 L541.7,426.4 L541.9,426.5 L542.1,426.6 L542.4,426.7 L542.6,426.7 L542.8,426.8 L543.1,426.8 L543.3,426.9 L543.5,426.9 L543.8,426.9 L544.0,427.0 L544.2,427.0 L544.5,427.0 L544.7,427.0 L544.9,427.0 L545.2,427.0 L545.4,427.0 L545.6,427.0 L545.9,427.0 L546.1,427.0 L546.4,427.0 L546.6,427.0 L546.8,427.0 L547.1,426.9 L547.3,426.9 L547.5,426.9 L547.8,426.9 L548.0,426.9 L548.2,426.9 L548.5,426.8 L548.7,426.8 L548.9,426.8 L549.2,426.8 L549.4,426.8 L549.6,426.7 L549.9,426.7 L550.1,426.7 L550.3,426.7 L550.6,426.6 L550.8,426.6 L551.1,426.6 L551.3,426.5 L551.5,426.5 L551.8,426.5 L552.0,426.4 L552.2,426.4 L552.5,426.4 L552.7,426.3 L552.9,426.3 L553.2,426.3 L553.4,426.2 L553.6,426.2 L553.9,426.1 L554.1,426.1 L554.3,426.1 L554.6,426.0 L554.8,426.0 L555.0,426.0 L555.3,425.9 L555.5,425.9 L555.8,425.8 L556.0,425.8 L556.2,425.7 L556.5,425.7 L556.7,425.6 L556.9,425.6 L557.2,425.5 L557.4,425.4 L557.6,425.4 L557.9,425.3 L558.1,425.2 L558.3,425.1 L558.6,425.0 L558.8,424.9 L559.0,424.8 L559.3,424.7 L559.5,424.6 L559.7,424.5 L560.0,424.4 L560.2,424.3 L560.4,424.2 L560.7,424.1 L560.9,424.0 L561.2,423.9 L561.4,423.8 L561.6,423.7 L561.9,423.6 L562.1,423.5 L562.3,423.4 L562.6,423.2 L562.8,423.1 L563.0,423.0 L563.3,422.9 L563.5,422.8 L563.7,422.7 L564.0,422.6 L564.2,422.5 L564.4,422.4 L564.7,422.3 L564.9,422.1 L565.1,422.0 L565.4,421.9 L565.6,421.7 L565.9,421.6 L566.1,421.4 L566.3,421.3 L566.6,421.1 L566.8,421.0 L567.0,420.8 L567.3,420.7 L567.5,420.6 L567.7,420.4 L568.0,420.3 L568.2,420.2 L568.4,420.1 L568.7,420.0 L568.9,419.9 L569.1,419.8 L569.4,419.7 L569.6,419.7 L569.8,419.6 L570.1,419.6 L570.3,419.6 L570.6,419.5 L570.8,419.6 L571.0,419.6 L571.3,419.6 L571.5,419.6 L571.7,419.6 L572.0,419.7 L572.2,419.7 L572.4,419.8 L572.7,419.8 L572.9,419.9 L573.1,419.9 L573.4,420.0 L573.6,420.1 L573.8,420.1 L574.1,420.2 L574.3,420.3 L574.5,420.4 L574.8,420.4 L575.0,420.5 L575.3,420.6 L575.5,420.6 L575.7,420.7 L576.0,420.7 L576.2,420.8 L576.4,420.8 L576.7,420.9 L576.9,421.0 L577.1,421.0 L577.4,421.1 L577.6,421.1 L577.8,421.2 L578.1,421.2 L578.3,421.3 L578.5,421.4 L578.8,421.5 L579.0,421.6 L579.2,421.8 L579.5,421.9 L579.7,422.0 L579.9,422.2 L580.2,422.3 L580.4,422.4 L580.7,422.5 L580.9,422.7 L581.1,422.8 L581.4,422.8 L581.6,422.9 L581.8,423.0 L582.1,423.0 L582.3,423.0 L582.5,423.0 L582.8,422.9 L583.0,422.9 L583.2,422.9 L583.5,422.8 L583.7,422.8 L583.9,422.7 L584.2,422.7 L584.4,422.6 L584.6,422.5 L584.9,422.5 L585.1,422.4 L585.4,422.3 L585.6,422.3 L585.8,422.2 L586.1,422.1 L586.3,422.0 L586.5,421.9 L586.8,421.7 L587.0,421.5 L587.2,421.3 L587.5,421.0 L587.7,420.6 L587.9,420.3 L588.2,419.9 L588.4,419.5 L588.6,419.1 L588.9,418.6 L589.1,418.2 L589.3,417.7 L589.6,417.2 L589.8,416.7 L590.1,416.2 L590.3,415.7 L590.5,415.3 L590.8,414.8 L591.0,414.3 L591.2,413.9 L591.5,413.4 L591.7,413.0 L591.9,412.6 L592.2,412.1 L592.4,411.7 L592.6,411.2 L592.9,410.8 L593.1,410.3 L593.3,409.8 L593.6,409.4 L593.8,408.9 L594.0,408.4 L594.3,407.9 L594.5,407.4 L594.8,406.9 L595.0,406.4 L595.2,405.9 L595.5,405.4 L595.7,404.8 L595.9,404.3 L596.2,403.7 L596.4,403.2 L596.6,402.6 L596.9,402.1 L597.1,401.5 L597.3,400.9 L597.6,400.3 L597.8,399.7 L598.0,399.1 L598.3,398.5 L598.5,397.8 L598.7,397.2 L599.0,396.6 L599.2,395.9 L599.5,395.2 L599.7,394.5 L599.9,393.9 L600.2,393.1 L600.4,392.4 L600.6,391.5 L600.9,390.7 L601.1,389.8 L601.3,388.9 L601.6,388.0 L601.8,387.1 L602.0,386.1 L602.3,385.2 L602.5,384.2 L602.7,383.2 L603.0,382.2 L603.2,381.3 L603.4,380.3 L603.7,379.4 L603.9,378.4 L604.1,377.5 L604.4,376.6 L604.6,375.8 L604.9,374.9 L605.1,374.1 L605.3,373.3 L605.6,372.4 L605.8,371.6 L606.0,370.7 L606.3,369.8 L606.5,368.9 L606.7,368.1 L607.0,367.3 L607.2,366.6 L607.4,366.0 L607.7,365.4 L607.9,364.9 L608.1,364.5 L608.4,364.2 L608.6,364.0 L608.8,363.7 L609.1,363.5 L609.3,363.3 L609.6,363.1 L609.8,363.0 L610.0,362.8 L610.3,362.8 L610.5,362.7 L610.7,362.8 L611.0,362.8 L611.2,362.9 L611.4,363.1 L611.7,363.3 L611.9,363.5 L612.1,363.8 L612.4,364.0 L612.6,364.3 L612.8,364.6 L613.1,364.9 L613.3,365.2 L613.5,365.6 L613.8,366.0 L614.0,366.5 L614.3,367.0 L614.5,367.5 L614.7,368.1 L615.0,368.7 L615.2,369.4 L615.4,370.0 L615.7,370.7 L615.9,371.4 L616.1,372.1 L616.4,372.8 L616.6,373.6 L616.8,374.3 L617.1,375.0 L617.3,375.8 L617.5,376.6 L617.8,377.4 L618.0,378.2 L618.2,379.1 L618.5,380.0 L618.7,380.9 L619.0,381.8 L619.2,382.8 L619.4,383.8 L619.7,384.8 L619.9,385.8 L620.1,386.8 L620.4,387.8 L620.6,388.9 L620.8,389.9 L621.1,391.0 L621.3,392.1 L621.5,393.2 L621.8,394.3 L622.0,395.4 L622.2,396.6 L622.5,397.8 L622.7,399.1 L622.9,400.5 L623.2,401.9 L623.4,403.3 L623.6,404.7 L623.9,406.0 L624.1,407.4 L624.4,408.8 L624.6,410.1 L624.8,411.4 L625.1,412.6 L625.3,413.7 L625.5,414.7 L625.8,415.7 L626.0,416.7 L626.2,417.7 L626.5,418.7 L626.7,419.7 L626.9,420.6 L627.2,421.6 L627.4,422.5 L627.6,423.5 L627.9,424.4 L628.1,425.3 L628.3,426.1 L628.6,427.0 L628.8,427.8 L629.1,428.5 L629.3,429.3 L629.5,430.0 L629.8,430.7 L630.0,431.3 L630.2,431.9 L630.5,432.5 L630.7,433.0 L630.9,433.4 L631.2,433.8 L631.4,434.2 L631.6,434.6 L631.9,435.0 L632.1,435.3 L632.3,435.7 L632.6,436.0 L632.8,436.4 L633.0,436.7 L633.3,437.0 L633.5,437.3 L633.8,437.6 L634.0,437.8 L634.2,438.1 L634.5,438.3 L634.7,438.5 L634.9,438.7 L635.2,438.9 L635.4,439.0 L635.6,439.1 L635.9,439.2 L636.1,439.3 L636.3,439.3 L636.6,439.3 L636.8,439.4 L637.0,439.4 L637.3,439.4 L637.5,439.4 L637.7,439.5 L638.0,439.5 L638.2,439.5 L638.5,439.5 L638.7,439.5 L638.9,439.6 L639.2,439.6 L639.4,439.6 L639.6,439.6 L639.9,439.6 L640.1,439.6 L640.3,439.6 L640.6,439.6 L640.8,439.6 L641.0,439.6 L641.3,439.6 L641.5,439.6 L641.7,439.6 L642.0,439.6 L642.2,439.6 L642.4,439.6 L642.7,439.6 L642.9,439.6 L643.2,439.6 L643.4,439.6 L643.6,439.6 L643.9,439.6 L644.1,439.6 L644.3,439.6 L644.6,439.6 L644.8,439.6 L645.0,439.6 L645.3,439.6 L645.5,439.6 L645.7,439.6 L646.0,439.6 L646.2,439.6 L646.4,439.6 L646.7,439.6 L646.9,439.6 L647.1,439.6 L647.4,439.6 L647.6,439.6 L647.8,439.6 L648.1,439.6 L648.3,439.6 L648.6,439.6 L648.8,439.6 L649.0,439.6 L649.3,439.6 L649.5,439.6 L649.7,439.6 L650.0,439.6 L650.2,439.6 L650.4,439.6 L650.7,439.6 L650.9,439.6 L651.1,439.6 L651.4,439.6 L651.6,439.6 L651.8,439.6 L652.1,439.6 L652.3,439.6 L652.5,439.6 L652.8,439.6 L653.0,439.6 L653.3,439.6 L653.5,439.6 L653.7,439.6 L654.0,439.6 L654.2,439.6 L654.4,439.6 L654.7,439.6 L654.9,439.6 L655.1,439.6 L655.4,439.6 L655.6,439.6 L655.8,439.6 L656.1,439.6 L656.3,439.6 L656.5,439.6 L656.8,439.6 L657.0,439.6 L657.2,439.6 L657.5,439.6 L657.7,439.6 L658.0,439.6 L658.2,439.6 L658.4,439.6 L658.7,439.6 L658.9,439.6 L659.1,439.6 L659.4,439.6 L659.6,439.6 L659.8,439.6 L660.1,439.6 L660.3,439.6 L660.5,439.6 L660.8,439.6 L661.0,439.6 L661.2,439.6 L661.5,439.6 L661.7,439.6 L661.9,439.6 L662.2,439.6 L662.4,439.6 L662.7,439.6 L662.9,439.6 L663.1,439.6 L663.4,439.6 L663.6,439.6 L663.8,439.6 L664.1,439.6 L664.3,439.6 L664.5,439.6 L664.8,439.6 L665.0,439.6" fill="none" stroke="#e98d35" stroke-width="1.2"/>
<path d="M424.2,439.6 L424.4,439.6 L424.7,439.6 L424.9,439.6 L425.1,439.6 L425.4,439.5 L425.6,439.5 L425.8,439.5 L426.1,439.5 L426.3,439.5 L426.5,439.5 L426.8,439.5 L427.0,439.5 L427.2,439.5 L427.5,439.5 L427.7,439.5 L427.9,439.5 L428.2,439.5 L428.4,439.5 L428.6,439.5 L428.9,439.5 L429.1,439.5 L429.3,439.5 L429.6,439.5 L429.8,439.5 L430.1,439.5 L430.3,439.5 L430.5,439.5 L430.8,439.5 L431.0,439.4 L431.2,439.4 L431.5,439.4 L431.7,439.4 L431.9,439.4 L432.2,439.4 L432.4,439.4 L432.6,439.4 L432.9,439.4 L433.1,439.4 L433.3,439.4 L433.6,439.4 L433.8,439.4 L434.0,439.4 L434.3,439.4 L434.5,439.4 L434.8,439.4 L435.0,439.4 L435.2,439.4 L435.5,439.4 L435.7,439.4 L435.9,439.3 L436.2,439.3 L436.4,439.3 L436.6,439.3 L436.9,439.3 L437.1,439.3 L437.3,439.3 L437.6,439.3 L437.8,439.3 L438.0,439.3 L438.3,439.3 L438.5,439.3 L438.7,439.3 L439.0,439.3 L439.2,439.3 L439.5,439.3 L439.7,439.3 L439.9,439.2 L440.2,439.2 L440.4,439.2 L440.6,439.2 L440.9,439.2 L441.1,439.2 L441.3,439.2 L441.6,439.2 L441.8,439.2 L442.0,439.2 L442.3,439.2 L442.5,439.2 L442.7,439.1 L443.0,439.1 L443.2,439.1 L443.4,439.1 L443.7,439.1 L443.9,439.1 L444.2,439.1 L444.4,439.1 L444.6,439.1 L444.9,439.1 L445.1,439.0 L445.3,439.0 L445.6,439.0 L445.8,439.0 L446.0,439.0 L446.3,439.0 L446.5,439.0 L446.7,438.9 L447.0,438.9 L447.2,438.9 L447.4,438.9 L447.7,438.8 L447.9,438.8 L448.1,438.8 L448.4,438.7 L448.6,438.7 L448.8,438.7 L449.1,438.6 L449.3,438.6 L449.6,438.6 L449.8,438.5 L450.0,438.5 L450.3,438.4 L450.5,438.4 L450.7,438.3 L451.0,438.3 L451.2,438.2 L451.4,438.2 L451.7,438.1 L451.9,438.1 L452.1,438.0 L452.4,438.0 L452.6,437.9 L452.8,437.8 L453.1,437.8 L453.3,437.7 L453.5,437.7 L453.8,437.6 L454.0,437.5 L454.3,437.5 L454.5,437.4 L454.7,437.4 L455.0,437.3 L455.2,437.2 L455.4,437.2 L455.7,437.1 L455.9,437.1 L456.1,437.0 L456.4,436.9 L456.6,436.9 L456.8,436.8 L457.1,436.8 L457.3,436.7 L457.5,436.6 L457.8,436.6 L458.0,436.5 L458.2,436.5 L458.5,436.4 L458.7,436.4 L459.0,436.3 L459.2,436.3 L459.4,436.2 L459.7,436.2 L459.9,436.1 L460.1,436.1 L460.4,436.0 L460.6,436.0 L460.8,435.9 L461.1,435.9 L461.3,435.8 L461.5,435.8 L461.8,435.7 L462.0,435.7 L462.2,435.7 L462.5,435.6 L462.7,435.6 L462.9,435.5 L463.2,435.5 L463.4,435.5 L463.7,435.4 L463.9,435.4 L464.1,435.4 L464.4,435.3 L464.6,435.3 L464.8,435.2 L465.1,435.2 L465.3,435.2 L465.5,435.1 L465.8,435.1 L466.0,435.1 L466.2,435.0 L466.5,435.0 L466.7,434.9 L466.9,434.9 L467.2,434.9 L467.4,434.8 L467.6,434.8 L467.9,434.8 L468.1,434.7 L468.4,434.7 L468.6,434.6 L468.8,434.6 L469.1,434.6 L469.3,434.5 L469.5,434.5 L469.8,434.5 L470.0,434.4 L470.2,434.4 L470.5,434.3 L470.7,434.3 L470.9,434.2 L471.2,434.2 L471.4,434.2 L471.6,434.1 L471.9,434.1 L472.1,434.0 L472.3,434.0 L472.6,433.9 L472.8,433.9 L473.0,433.8 L473.3,433.8 L473.5,433.7 L473.8,433.7 L474.0,433.6 L474.2,433.6 L474.5,433.5 L474.7,433.5 L474.9,433.4 L475.2,433.4 L475.4,433.3 L475.6,433.2 L475.9,433.2 L476.1,433.1 L476.3,433.1 L476.6,433.0 L476.8,432.9 L477.0,432.8 L477.3,432.8 L477.5,432.7 L477.7,432.6 L478.0,432.5 L478.2,432.4 L478.5,432.3 L478.7,432.2 L478.9,432.1 L479.2,432.0 L479.4,431.9 L479.6,431.8 L479.9,431.6 L480.1,431.5 L480.3,431.4 L480.6,431.3 L480.8,431.1 L481.0,431.0 L481.3,430.9 L481.5,430.7 L481.7,430.6 L482.0,430.4 L482.2,430.3 L482.4,430.2 L482.7,430.0 L482.9,429.9 L483.2,429.7 L483.4,429.6 L483.6,429.4 L483.9,429.3 L484.1,429.1 L484.3,429.0 L484.6,428.8 L484.8,428.6 L485.0,428.5 L485.3,428.3 L485.5,428.2 L485.7,428.0 L486.0,427.9 L486.2,427.7 L486.4,427.6 L486.7,427.4 L486.9,427.3 L487.1,427.1 L487.4,427.0 L487.6,426.9 L487.9,426.7 L488.1,426.6 L488.3,426.5 L488.6,426.3 L488.8,426.2 L489.0,426.1 L489.3,426.0 L489.5,425.9 L489.7,425.7 L490.0,425.6 L490.2,425.5 L490.4,425.4 L490.7,425.3 L490.9,425.2 L491.1,425.1 L491.4,425.0 L491.6,425.0 L491.8,424.9 L492.1,424.8 L492.3,424.7 L492.5,424.6 L492.8,424.5 L493.0,424.4 L493.3,424.3 L493.5,424.2 L493.7,424.1 L494.0,424.0 L494.2,423.9 L494.4,423.9 L494.7,423.8 L494.9,423.7 L495.1,423.6 L495.4,423.5 L495.6,423.4 L495.8,423.4 L496.1,423.3 L496.3,423.2 L496.5,423.1 L496.8,423.0 L497.0,423.0 L497.2,422.9 L497.5,422.8 L497.7,422.8 L498.0,422.7 L498.2,422.6 L498.4,422.6 L498.7,422.5 L498.9,422.4 L499.1,422.4 L499.4,422.3 L499.6,422.3 L499.8,422.2 L500.1,422.2 L500.3,422.1 L500.5,422.1 L500.8,422.0 L501.0,422.0 L501.2,421.9 L501.5,421.9 L501.7,421.8 L501.9,421.8 L502.2,421.7 L502.4,421.7 L502.7,421.7 L502.9,421.6 L503.1,421.6 L503.4,421.5 L503.6,421.5 L503.8,421.5 L504.1,421.4 L504.3,421.4 L504.5,421.3 L504.8,421.3 L505.0,421.3 L505.2,421.2 L505.5,421.2 L505.7,421.2 L505.9,421.1 L506.2,421.1 L506.4,421.1 L506.6,421.0 L506.9,421.0 L507.1,421.0 L507.4,420.9 L507.6,420.9 L507.8,420.9 L508.1,420.8 L508.3,420.8 L508.5,420.8 L508.8,420.7 L509.0,420.7 L509.2,420.7 L509.5,420.6 L509.7,420.6 L509.9,420.6 L510.2,420.5 L510.4,420.5 L510.6,420.5 L510.9,420.4 L511.1,420.4 L511.3,420.4 L511.6,420.3 L511.8,420.3 L512.1,420.2 L512.3,420.2 L512.5,420.2 L512.8,420.1 L513.0,420.1 L513.2,420.1 L513.5,420.0 L513.7,420.0 L513.9,420.0 L514.2,419.9 L514.4,419.9 L514.6,419.9 L514.9,419.8 L515.1,419.8 L515.3,419.8 L515.6,419.8 L515.8,419.7 L516.0,419.7 L516.3,419.7 L516.5,419.6 L516.7,419.6 L517.0,419.6 L517.2,419.6 L517.5,419.6 L517.7,419.5 L517.9,419.5 L518.2,419.5 L518.4,419.5 L518.6,419.5 L518.9,419.5 L519.1,419.5 L519.3,419.5 L519.6,419.5 L519.8,419.5 L520.0,419.5 L520.3,419.5 L520.5,419.5 L520.7,419.5 L521.0,419.6 L521.2,419.6 L521.4,419.6 L521.7,419.7 L521.9,419.7 L522.2,419.8 L522.4,419.8 L522.6,419.9 L522.9,420.0 L523.1,420.0 L523.3,420.1 L523.6,420.2 L523.8,420.3 L524.0,420.3 L524.3,420.4 L524.5,420.5 L524.7,420.6 L525.0,420.7 L525.2,420.7 L525.4,420.8 L525.7,420.9 L525.9,421.0 L526.1,421.1 L526.4,421.1 L526.6,421.2 L526.9,421.3 L527.1,421.4 L527.3,421.5 L527.6,421.5 L527.8,421.6 L528.0,421.7 L528.3,421.8 L528.5,421.8 L528.7,421.9 L529.0,422.0 L529.2,422.0 L529.4,422.1 L529.7,422.2 L529.9,422.2 L530.1,422.3 L530.4,422.4 L530.6,422.5 L530.8,422.5 L531.1,422.6 L531.3,422.7 L531.6,422.8 L531.8,422.8 L532.0,422.9 L532.3,423.0 L532.5,423.1 L532.7,423.1 L533.0,423.2 L533.2,423.3 L533.4,423.4 L533.7,423.4 L533.9,423.5 L534.1,423.6 L534.4,423.7 L534.6,423.7 L534.8,423.8 L535.1,423.9 L535.3,424.0 L535.5,424.0 L535.8,424.1 L536.0,424.2 L536.2,424.3 L536.5,424.3 L536.7,424.4 L537.0,424.5 L537.2,424.6 L537.4,424.7 L537.7,424.7 L537.9,424.8 L538.1,424.9 L538.4,425.0 L538.6,425.1 L538.8,425.2 L539.1,425.3 L539.3,425.4 L539.5,425.5 L539.8,425.6 L540.0,425.7 L540.2,425.8 L540.5,425.9 L540.7,425.9 L540.9,426.0 L541.2,426.1 L541.4,426.2 L541.7,426.3 L541.9,426.3 L542.1,426.4 L542.4,426.4 L542.6,426.5 L542.8,426.5 L543.1,426.6 L543.3,426.6 L543.5,426.6 L543.8,426.7 L544.0,426.7 L544.2,426.7 L544.5,426.7 L544.7,426.7 L544.9,426.7 L545.2,426.7 L545.4,426.7 L545.6,426.6 L545.9,426.6 L546.1,426.6 L546.4,426.6 L546.6,426.6 L546.8,426.6 L547.1,426.6 L547.3,426.5 L547.5,426.5 L547.8,426.5 L548.0,426.5 L548.2,426.5 L548.5,426.4 L548.7,426.4 L548.9,426.4 L549.2,426.4 L549.4,426.3 L549.6,426.3 L549.9,426.3 L550.1,426.2 L550.3,426.2 L550.6,426.2 L550.8,426.1 L551.1,426.1 L551.3,426.1 L551.5,426.0 L551.8,426.0 L552.0,426.0 L552.2,425.9 L552.5,425.9 L552.7,425.8 L552.9,425.8 L553.2,425.8 L553.4,425.7 L553.6,425.7 L553.9,425.6 L554.1,425.6 L554.3,425.6 L554.6,425.5 L554.8,425.5 L555.0,425.4 L555.3,425.4 L555.5,425.3 L555.8,425.2 L556.0,425.2 L556.2,425.1 L556.5,425.0 L556.7,424.9 L556.9,424.9 L557.2,424.8 L557.4,424.7 L557.6,424.6 L557.9,424.5 L558.1,424.4 L558.3,424.3 L558.6,424.2 L558.8,424.1 L559.0,423.9 L559.3,423.8 L559.5,423.7 L559.7,423.6 L560.0,423.5 L560.2,423.4 L560.4,423.3 L560.7,423.1 L560.9,423.0 L561.2,422.9 L561.4,422.8 L561.6,422.7 L561.9,422.6 L562.1,422.5 L562.3,422.4 L562.6,422.2 L562.8,422.1 L563.0,422.0 L563.3,421.9 L563.5,421.7 L563.7,421.6 L564.0,421.5 L564.2,421.3 L564.4,421.1 L564.7,421.0 L564.9,420.8 L565.1,420.7 L565.4,420.5 L565.6,420.4 L565.9,420.2 L566.1,420.1 L566.3,419.9 L566.6,419.8 L566.8,419.7 L567.0,419.5 L567.3,419.4 L567.5,419.3 L567.7,419.2 L568.0,419.2 L568.2,419.1 L568.4,419.1 L568.7,419.0 L568.9,419.0 L569.1,419.0 L569.4,419.0 L569.6,419.0 L569.8,419.1 L570.1,419.1 L570.3,419.1 L570.6,419.2 L570.8,419.2 L571.0,419.3 L571.3,419.3 L571.5,419.4 L571.7,419.5 L572.0,419.5 L572.2,419.6 L572.4,419.7 L572.7,419.8 L572.9,419.8 L573.1,419.9 L573.4,420.0 L573.6,420.1 L573.8,420.1 L574.1,420.2 L574.3,420.3 L574.5,420.3 L574.8,420.4 L575.0,420.5 L575.3,420.6 L575.5,420.6 L575.7,420.7 L576.0,420.8 L576.2,420.8 L576.4,420.9 L576.7,421.0 L576.9,421.1 L577.1,421.3 L577.4,421.4 L577.6,421.5 L577.8,421.7 L578.1,421.8 L578.3,422.0 L578.5,422.1 L578.8,422.3 L579.0,422.4 L579.2,422.5 L579.5,422.6 L579.7,422.7 L579.9,422.7 L580.2,422.8 L580.4,422.8 L580.7,422.8 L580.9,422.7 L581.1,422.7 L581.4,422.7 L581.6,422.6 L581.8,422.6 L582.1,422.5 L582.3,422.5 L582.5,422.4 L582.8,422.3 L583.0,422.3 L583.2,422.2 L583.5,422.1 L583.7,422.1 L583.9,422.0 L584.2,421.9 L584.4,421.8 L584.6,421.6 L584.9,421.4 L585.1,421.1 L585.4,420.8 L585.6,420.5 L585.8,420.1 L586.1,419.8 L586.3,419.3 L586.5,418.9 L586.8,418.4 L587.0,417.9 L587.2,417.4 L587.5,416.9 L587.7,416.4 L587.9,415.9 L588.2,415.4 L588.4,415.0 L588.6,414.5 L588.9,414.0 L589.1,413.5 L589.3,413.1 L589.6,412.6 L589.8,412.2 L590.1,411.7 L590.3,411.3 L590.5,410.8 L590.8,410.3 L591.0,409.8 L591.2,409.3 L591.5,408.8 L591.7,408.3 L591.9,407.8 L592.2,407.3 L592.4,406.8 L592.6,406.3 L592.9,405.7 L593.1,405.2 L593.3,404.6 L593.6,404.1 L593.8,403.5 L594.0,402.9 L594.3,402.3 L594.5,401.7 L594.8,401.1 L595.0,400.5 L595.2,399.9 L595.5,399.3 L595.7,398.6 L595.9,398.0 L596.2,397.3 L596.4,396.6 L596.6,395.9 L596.9,395.2 L597.1,394.5 L597.3,393.8 L597.6,393.0 L597.8,392.2 L598.0,391.4 L598.3,390.5 L598.5,389.6 L598.7,388.6 L599.0,387.7 L599.2,386.7 L599.5,385.7 L599.7,384.7 L599.9,383.7 L600.2,382.7 L600.4,381.7 L600.6,380.7 L600.9,379.7 L601.1,378.8 L601.3,377.8 L601.6,376.9 L601.8,376.0 L602.0,375.2 L602.3,374.3 L602.5,373.5 L602.7,372.6 L603.0,371.7 L603.2,370.8 L603.4,369.9 L603.7,369.0 L603.9,368.2 L604.1,367.4 L604.4,366.7 L604.6,366.1 L604.9,365.6 L605.1,365.2 L605.3,364.9 L605.6,364.6 L605.8,364.4 L606.0,364.1 L606.3,363.9 L606.5,363.8 L606.7,363.6 L607.0,363.5 L607.2,363.4 L607.4,363.4 L607.7,363.5 L607.9,363.5 L608.1,363.7 L608.4,363.8 L608.6,364.0 L608.8,364.3 L609.1,364.5 L609.3,364.8 L609.6,365.1 L609.8,365.3 L610.0,365.6 L610.3,366.0 L610.5,366.3 L610.7,366.8 L611.0,367.3 L611.2,367.8 L611.4,368.3 L611.7,368.9 L611.9,369.6 L612.1,370.2 L612.4,370.9 L612.6,371.6 L612.8,372.2 L613.1,373.0 L613.3,373.7 L613.5,374.4 L613.8,375.1 L614.0,375.8 L614.3,376.6 L614.5,377.4 L614.7,378.2 L615.0,379.1 L615.2,379.9 L615.4,380.8 L615.7,381.7 L615.9,382.7 L616.1,383.6 L616.4,384.6 L616.6,385.6 L616.8,386.6 L617.1,387.6 L617.3,388.6 L617.5,389.6 L617.8,390.7 L618.0,391.8 L618.2,392.8 L618.5,393.9 L618.7,395.0 L619.0,396.1 L619.2,397.4 L619.4,398.6 L619.7,399.9 L619.9,401.3 L620.1,402.6 L620.4,404.0 L620.6,405.4 L620.8,406.8 L621.1,408.1 L621.3,409.5 L621.5,410.8 L621.8,412.0 L622.0,413.2 L622.2,414.3 L622.5,415.3 L622.7,416.3 L622.9,417.2 L623.2,418.2 L623.4,419.2 L623.6,420.2 L623.9,421.1 L624.1,422.1 L624.4,423.0 L624.6,423.9 L624.8,424.8 L625.1,425.7 L625.3,426.5 L625.5,427.3 L625.8,428.1 L626.0,428.9 L626.2,429.6 L626.5,430.3 L626.7,431.0 L626.9,431.6 L627.2,432.2 L627.4,432.7 L627.6,433.2 L627.9,433.6 L628.1,434.0 L628.3,434.4 L628.6,434.8 L628.8,435.1 L629.1,435.5 L629.3,435.8 L629.5,436.2 L629.8,436.5 L630.0,436.8 L630.2,437.1 L630.5,437.4 L630.7,437.7 L630.9,437.9 L631.2,438.2 L631.4,438.4 L631.6,438.6 L631.9,438.8 L632.1,438.9 L632.3,439.1 L632.6,439.2 L632.8,439.2 L633.0,439.3 L633.3,439.3 L633.5,439.3 L633.8,439.4 L634.0,439.4 L634.2,439.4 L634.5,439.4 L634.7,439.5 L634.9,439.5 L635.2,439.5 L635.4,439.5 L635.6,439.5 L635.9,439.6 L636.1,439.6 L636.3,439.6 L636.6,439.6 L636.8,439.6 L637.0,439.6 L637.3,439.6 L637.5,439.6 L637.7,439.6 L638.0,439.6 L638.2,439.6 L638.5,439.6 L638.7,439.6 L638.9,439.6 L639.2,439.6 L639.4,439.6 L639.6,439.6 L639.9,439.6 L640.1,439.6 L640.3,439.6 L640.6,439.6 L640.8,439.6 L641.0,439.6 L641.3,439.6 L641.5,439.6 L641.7,439.6 L642.0,439.6 L642.2,439.6 L642.4,439.6 L642.7,439.6 L642.9,439.6 L643.2,439.6 L643.4,439.6 L643.6,439.6 L643.9,439.6 L644.1,439.6 L644.3,439.6 L644.6,439.6 L644.8,439.6 L645.0,439.6 L645.3,439.6 L645.5,439.6 L645.7,439.6 L646.0,439.6 L646.2,439.6 L646.4,439.6 L646.7,439.6 L646.9,439.6 L647.1,439.6 L647.4,439.6 L647.6,439.6 L647.8,439.6 L648.1,439.6 L648.3,439.6 L648.6,439.6 L648.8,439.6 L649.0,439.6 L649.3,439.6 L649.5,439.6 L649.7,439.6 L650.0,439.6 L650.2,439.6 L650.4,439.6 L650.7,439.6 L650.9,439.6 L651.1,439.6 L651.4,439.6 L651.6,439.6 L651.8,439.6 L652.1,439.6 L652.3,439.6 L652.5,439.6 L652.8,439.6 L653.0,439.6 L653.3,439.6 L653.5,439.6 L653.7,439.6 L654.0,439.6 L654.2,439.6 L654.4,439.6 L654.7,439.6 L654.9,439.6 L655.1,439.6 L655.4,439.6 L655.6,439.6 L655.8,439.6 L656.1,439.6 L656.3,439.6 L656.5,439.6 L656.8,439.6 L657.0,439.6 L657.2,439.6 L657.5,439.6 L657.7,439.6 L658.0,439.6 L658.2,439.6 L658.4,439.6 L658.7,439.6 L658.9,439.6 L659.1,439.6 L659.4,439.6 L659.6,439.6 L659.8,439.6 L660.1,439.6 L660.3,439.6 L660.5,439.6 L660.8,439.6 L661.0,439.6 L661.2,439.6 L661.5,439.6 L661.7,439.6 L661.9,439.6 L662.2,439.6 L662.4,439.6 L662.7,439.6 L662.9,439.6 L663.1,439.6 L663.4,439.6 L663.6,439.6 L663.8,439.6 L664.1,439.6 L664.3,439.6 L664.5,439.6 L664.8,439.6 L665.0,439.6" fill="none" stroke="#c9caee" stroke-width="1.2"/>
<path d="M424.2,439.6 L424.4,439.6 L424.7,439.6 L424.9,439.6 L425.1,439.6 L425.4,439.5 L425.6,439.5 L425.8,439.5 L426.1,439.5 L426.3,439.5 L426.5,439.5 L426.8,439.5 L427.0,439.5 L427.2,439.5 L427.5,439.5 L427.7,439.5 L427.9,439.5 L428.2,439.5 L428.4,439.5 L428.6,439.5 L428.9,439.5 L429.1,439.5 L429.3,439.5 L429.6,439.5 L429.8,439.5 L430.1,439.5 L430.3,439.5 L430.5,439.5 L430.8,439.5 L431.0,439.4 L431.2,439.4 L431.5,439.4 L431.7,439.4 L431.9,439.4 L432.2,439.4 L432.4,439.4 L432.6,439.4 L432.9,439.4 L433.1,439.4 L433.3,439.4 L433.6,439.4 L433.8,439.4 L434.0,439.4 L434.3,439.4 L434.5,439.4 L434.8,439.4 L435.0,439.4 L435.2,439.4 L435.5,439.4 L435.7,439.4 L435.9,439.3 L436.2,439.3 L436.4,439.3 L436.6,439.3 L436.9,439.3 L437.1,439.3 L437.3,439.3 L437.6,439.3 L437.8,439.3 L438.0,439.3 L438.3,439.3 L438.5,439.3 L438.7,439.3 L439.0,439.3 L439.2,439.3 L439.5,439.3 L439.7,439.3 L439.9,439.2 L440.2,439.2 L440.4,439.2 L440.6,439.2 L440.9,439.2 L441.1,439.2 L441.3,439.2 L441.6,439.2 L441.8,439.2 L442.0,439.2 L442.3,439.2 L442.5,439.2 L442.7,439.1 L443.0,439.1 L443.2,439.1 L443.4,439.1 L443.7,439.1 L443.9,439.1 L444.2,439.1 L444.4,439.1 L444.6,439.1 L444.9,439.1 L445.1,439.0 L445.3,439.0 L445.6,439.0 L445.8,439.0 L446.0,439.0 L446.3,439.0 L446.5,439.0 L446.7,438.9 L447.0,438.9 L447.2,438.9 L447.4,438.9 L447.7,438.8 L447.9,438.8 L448.1,438.8 L448.4,438.7 L448.6,438.7 L448.8,438.7 L449.1,438.6 L449.3,438.6 L449.6,438.6 L449.8,438.5 L450.0,438.5 L450.3,438.4 L450.5,438.4 L450.7,438.3 L451.0,438.3 L451.2,438.2 L451.4,438.2 L451.7,438.1 L451.9,438.1 L452.1,438.0 L452.4,438.0 L452.6,437.9 L452.8,437.8 L453.1,437.8 L453.3,437.7 L453.5,437.7 L453.8,437.6 L454.0,437.5 L454.3,437.5 L454.5,437.4 L454.7,437.4 L455.0,437.3 L455.2,437.2 L455.4,437.2 L455.7,437.1 L455.9,437.1 L456.1,437.0 L456.4,436.9 L456.6,436.9 L456.8,436.8 L457.1,436.8 L457.3,436.7 L457.5,436.6 L457.8,436.6 L458.0,436.5 L458.2,436.5 L458.5,436.4 L458.7,436.4 L459.0,436.3 L459.2,436.2 L459.4,436.2 L459.7,436.1 L459.9,436.1 L460.1,436.0 L460.4,436.0 L460.6,436.0 L460.8,435.9 L461.1,435.9 L461.3,435.8 L461.5,435.8 L461.8,435.7 L462.0,435.7 L462.2,435.6 L462.5,435.6 L462.7,435.6 L462.9,435.5 L463.2,435.5 L463.4,435.4 L463.7,435.4 L463.9,435.4 L464.1,435.3 L464.4,435.3 L464.6,435.2 L464.8,435.2 L465.1,435.2 L465.3,435.1 L465.5,435.1 L465.8,435.1 L466.0,435.0 L466.2,435.0 L466.5,434.9 L466.7,434.9 L466.9,434.9 L467.2,434.8 L467.4,434.8 L467.6,434.8 L467.9,434.7 L468.1,434.7 L468.4,434.6 L468.6,434.6 L468.8,434.6 L469.1,434.5 L469.3,434.5 L469.5,434.4 L469.8,434.4 L470.0,434.4 L470.2,434.3 L470.5,434.3 L470.7,434.2 L470.9,434.2 L471.2,434.1 L471.4,434.1 L471.6,434.0 L471.9,434.0 L472.1,433.9 L472.3,433.9 L472.6,433.9 L472.8,433.8 L473.0,433.8 L473.3,433.7 L473.5,433.6 L473.8,433.6 L474.0,433.5 L474.2,433.5 L474.5,433.4 L474.7,433.4 L474.9,433.3 L475.2,433.3 L475.4,433.2 L475.6,433.1 L475.9,433.1 L476.1,433.0 L476.3,432.9 L476.6,432.9 L476.8,432.8 L477.0,432.7 L477.3,432.6 L477.5,432.6 L477.7,432.5 L478.0,432.4 L478.2,432.3 L478.5,432.2 L478.7,432.1 L478.9,431.9 L479.2,431.8 L479.4,431.7 L479.6,431.6 L479.9,431.5 L480.1,431.3 L480.3,431.2 L480.6,431.1 L480.8,430.9 L481.0,430.8 L481.3,430.7 L481.5,430.5 L481.7,430.4 L482.0,430.2 L482.2,430.1 L482.4,429.9 L482.7,429.8 L482.9,429.6 L483.2,429.5 L483.4,429.3 L483.6,429.2 L483.9,429.0 L484.1,428.8 L484.3,428.7 L484.6,428.5 L484.8,428.4 L485.0,428.2 L485.3,428.0 L485.5,427.9 L485.7,427.7 L486.0,427.6 L486.2,427.4 L486.4,427.3 L486.7,427.1 L486.9,427.0 L487.1,426.8 L487.4,426.7 L487.6,426.5 L487.9,426.4 L488.1,426.3 L488.3,426.1 L488.6,426.0 L488.8,425.9 L489.0,425.7 L489.3,425.6 L489.5,425.5 L489.7,425.4 L490.0,425.3 L490.2,425.2 L490.4,425.1 L490.7,425.0 L490.9,424.9 L491.1,424.8 L491.4,424.7 L491.6,424.6 L491.8,424.5 L492.1,424.4 L492.3,424.3 L492.5,424.2 L492.8,424.1 L493.0,424.0 L493.3,423.9 L493.5,423.8 L493.7,423.7 L494.0,423.6 L494.2,423.5 L494.4,423.4 L494.7,423.4 L494.9,423.3 L495.1,423.2 L495.4,423.1 L495.6,423.0 L495.8,422.9 L496.1,422.9 L496.3,422.8 L496.5,422.7 L496.8,422.6 L497.0,422.5 L497.2,422.5 L497.5,422.4 L497.7,422.3 L498.0,422.3 L498.2,422.2 L498.4,422.1 L498.7,422.1 L498.9,422.0 L499.1,421.9 L499.4,421.9 L499.6,421.8 L499.8,421.8 L500.1,421.7 L500.3,421.7 L500.5,421.6 L500.8,421.6 L501.0,421.5 L501.2,421.5 L501.5,421.4 L501.7,421.4 L501.9,421.3 L502.2,421.3 L502.4,421.2 L502.7,421.2 L502.9,421.1 L503.1,421.1 L503.4,421.1 L503.6,421.0 L503.8,421.0 L504.1,420.9 L504.3,420.9 L504.5,420.9 L504.8,420.8 L505.0,420.8 L505.2,420.7 L505.5,420.7 L505.7,420.7 L505.9,420.6 L506.2,420.6 L506.4,420.6 L506.6,420.5 L506.9,420.5 L507.1,420.5 L507.4,420.4 L507.6,420.4 L507.8,420.4 L508.1,420.3 L508.3,420.3 L508.5,420.3 L508.8,420.2 L509.0,420.2 L509.2,420.2 L509.5,420.1 L509.7,420.1 L509.9,420.1 L510.2,420.0 L510.4,420.0 L510.6,420.0 L510.9,419.9 L511.1,419.9 L511.3,419.9 L511.6,419.8 L511.8,419.8 L512.1,419.7 L512.3,419.7 L512.5,419.7 L512.8,419.6 L513.0,419.6 L513.2,419.6 L513.5,419.5 L513.7,419.5 L513.9,419.5 L514.2,419.4 L514.4,419.4 L514.6,419.4 L514.9,419.3 L515.1,419.3 L515.3,419.3 L515.6,419.2 L515.8,419.2 L516.0,419.2 L516.3,419.2 L516.5,419.1 L516.7,419.1 L517.0,419.1 L517.2,419.1 L517.5,419.0 L517.7,419.0 L517.9,419.0 L518.2,419.0 L518.4,419.0 L518.6,419.0 L518.9,419.0 L519.1,419.0 L519.3,419.0 L519.6,419.0 L519.8,419.0 L520.0,419.0 L520.3,419.0 L520.5,419.0 L520.7,419.0 L521.0,419.0 L521.2,419.1 L521.4,419.1 L521.7,419.2 L521.9,419.2 L522.2,419.3 L522.4,419.3 L522.6,419.4 L522.9,419.5 L523.1,419.5 L523.3,419.6 L523.6,419.7 L523.8,419.8 L524.0,419.8 L524.3,419.9 L524.5,420.0 L524.7,420.1 L525.0,420.2 L525.2,420.3 L525.4,420.4 L525.7,420.4 L525.9,420.5 L526.1,420.6 L526.4,420.7 L526.6,420.8 L526.9,420.9 L527.1,421.0 L527.3,421.0 L527.6,421.1 L527.8,421.2 L528.0,421.3 L528.3,421.3 L528.5,421.4 L528.7,421.5 L529.0,421.6 L529.2,421.6 L529.4,421.7 L529.7,421.8 L529.9,421.9 L530.1,421.9 L530.4,422.0 L530.6,422.1 L530.8,422.2 L531.1,422.2 L531.3,422.3 L531.6,422.4 L531.8,422.5 L532.0,422.6 L532.3,422.6 L532.5,422.7 L532.7,422.8 L533.0,422.9 L533.2,423.0 L533.4,423.0 L533.7,423.1 L533.9,423.2 L534.1,423.3 L534.4,423.4 L534.6,423.4 L534.8,423.5 L535.1,423.6 L535.3,423.7 L535.5,423.8 L535.8,423.8 L536.0,423.9 L536.2,424.0 L536.5,424.1 L536.7,424.1 L537.0,424.2 L537.2,424.3 L537.4,424.4 L537.7,424.5 L537.9,424.6 L538.1,424.7 L538.4,424.8 L538.6,424.9 L538.8,425.0 L539.1,425.1 L539.3,425.2 L539.5,425.3 L539.8,425.4 L540.0,425.5 L540.2,425.6 L540.5,425.7 L540.7,425.8 L540.9,425.8 L541.2,425.9 L541.4,426.0 L541.7,426.1 L541.9,426.1 L542.1,426.2 L542.4,426.2 L542.6,426.3 L542.8,426.3 L543.1,426.3 L543.3,426.3 L543.5,426.3 L543.8,426.3 L544.0,426.3 L544.2,426.3 L544.5,426.3 L544.7,426.3 L544.9,426.3 L545.2,426.3 L545.4,426.3 L545.6,426.3 L545.9,426.3 L546.1,426.2 L546.4,426.2 L546.6,426.2 L546.8,426.2 L547.1,426.2 L547.3,426.1 L547.5,426.1 L547.8,426.1 L548.0,426.1 L548.2,426.0 L548.5,426.0 L548.7,426.0 L548.9,425.9 L549.2,425.9 L549.4,425.9 L549.6,425.8 L549.9,425.8 L550.1,425.8 L550.3,425.7 L550.6,425.7 L550.8,425.7 L551.1,425.6 L551.3,425.6 L551.5,425.5 L551.8,425.5 L552.0,425.4 L552.2,425.4 L552.5,425.4 L552.7,425.3 L552.9,425.3 L553.2,425.2 L553.4,425.2 L553.6,425.1 L553.9,425.1 L554.1,425.0 L554.3,425.0 L554.6,424.9 L554.8,424.9 L555.0,424.8 L555.3,424.7 L555.5,424.6 L555.8,424.5 L556.0,424.4 L556.2,424.3 L556.5,424.2 L556.7,424.1 L556.9,424.0 L557.2,423.9 L557.4,423.8 L557.6,423.7 L557.9,423.6 L558.1,423.5 L558.3,423.3 L558.6,423.2 L558.8,423.1 L559.0,423.0 L559.3,422.8 L559.5,422.7 L559.7,422.6 L560.0,422.5 L560.2,422.3 L560.4,422.2 L560.7,422.1 L560.9,422.0 L561.2,421.9 L561.4,421.8 L561.6,421.6 L561.9,421.5 L562.1,421.4 L562.3,421.2 L562.6,421.1 L562.8,420.9 L563.0,420.7 L563.3,420.6 L563.5,420.4 L563.7,420.2 L564.0,420.1 L564.2,419.9 L564.4,419.7 L564.7,419.6 L564.9,419.4 L565.1,419.3 L565.4,419.1 L565.6,419.0 L565.9,418.9 L566.1,418.8 L566.3,418.7 L566.6,418.6 L566.8,418.6 L567.0,418.5 L567.3,418.5 L567.5,418.5 L567.7,418.5 L568.0,418.5 L568.2,418.5 L568.4,418.5 L568.7,418.6 L568.9,418.6 L569.1,418.7 L569.4,418.7 L569.6,418.8 L569.8,418.8 L570.1,418.9 L570.3,419.0 L570.6,419.1 L570.8,419.2 L571.0,419.2 L571.3,419.3 L571.5,419.4 L571.7,419.5 L572.0,419.6 L572.2,419.7 L572.4,419.7 L572.7,419.8 L572.9,419.9 L573.1,420.0 L573.4,420.1 L573.6,420.2 L573.8,420.3 L574.1,420.3 L574.3,420.4 L574.5,420.5 L574.8,420.6 L575.0,420.7 L575.3,420.9 L575.5,421.0 L575.7,421.2 L576.0,421.4 L576.2,421.5 L576.4,421.7 L576.7,421.9 L576.9,422.0 L577.1,422.1 L577.4,422.3 L577.6,422.4 L577.8,422.5 L578.1,422.5 L578.3,422.6 L578.5,422.6 L578.8,422.5 L579.0,422.5 L579.2,422.5 L579.5,422.5 L579.7,422.4 L579.9,422.4 L580.2,422.3 L580.4,422.3 L580.7,422.2 L580.9,422.2 L581.1,422.1 L581.4,422.0 L581.6,422.0 L581.8,421.9 L582.1,421.8 L582.3,421.7 L582.5,421.5 L582.8,421.3 L583.0,421.0 L583.2,420.7 L583.5,420.4 L583.7,420.0 L583.9,419.6 L584.2,419.1 L584.4,418.7 L584.6,418.2 L584.9,417.7 L585.1,417.2 L585.4,416.7 L585.6,416.1 L585.8,415.6 L586.1,415.1 L586.3,414.6 L586.5,414.1 L586.8,413.7 L587.0,413.2 L587.2,412.7 L587.5,412.3 L587.7,411.8 L587.9,411.3 L588.2,410.8 L588.4,410.3 L588.6,409.8 L588.9,409.3 L589.1,408.8 L589.3,408.2 L589.6,407.7 L589.8,407.2 L590.1,406.6 L590.3,406.1 L590.5,405.5 L590.8,405.0 L591.0,404.4 L591.2,403.8 L591.5,403.2 L591.7,402.6 L591.9,402.0 L592.2,401.3 L592.4,400.7 L592.6,400.1 L592.9,399.4 L593.1,398.7 L593.3,398.1 L593.6,397.4 L593.8,396.7 L594.0,396.0 L594.3,395.3 L594.5,394.5 L594.8,393.8 L595.0,392.9 L595.2,392.1 L595.5,391.2 L595.7,390.2 L595.9,389.3 L596.2,388.3 L596.4,387.3 L596.6,386.3 L596.9,385.2 L597.1,384.2 L597.3,383.1 L597.6,382.1 L597.8,381.1 L598.0,380.1 L598.3,379.1 L598.5,378.1 L598.7,377.2 L599.0,376.3 L599.2,375.4 L599.5,374.5 L599.7,373.6 L599.9,372.7 L600.2,371.8 L600.4,370.8 L600.6,369.9 L600.9,369.1 L601.1,368.3 L601.3,367.5 L601.6,366.9 L601.8,366.3 L602.0,365.9 L602.3,365.6 L602.5,365.3 L602.7,365.0 L603.0,364.8 L603.2,364.6 L603.4,364.4 L603.7,364.3 L603.9,364.2 L604.1,364.1 L604.4,364.1 L604.6,364.2 L604.9,364.3 L605.1,364.4 L605.3,364.6 L605.6,364.8 L605.8,365.0 L606.0,365.3 L606.3,365.5 L606.5,365.8 L606.7,366.1 L607.0,366.4 L607.2,366.7 L607.4,367.1 L607.7,367.6 L607.9,368.1 L608.1,368.6 L608.4,369.2 L608.6,369.8 L608.8,370.4 L609.1,371.0 L609.3,371.7 L609.6,372.4 L609.8,373.1 L610.0,373.8 L610.3,374.5 L610.5,375.2 L610.7,375.9 L611.0,376.6 L611.2,377.4 L611.4,378.2 L611.7,379.0 L611.9,379.9 L612.1,380.7 L612.4,381.6 L612.6,382.5 L612.8,383.5 L613.1,384.4 L613.3,385.4 L613.5,386.4 L613.8,387.4 L614.0,388.4 L614.3,389.4 L614.5,390.4 L614.7,391.5 L615.0,392.5 L615.2,393.6 L615.4,394.7 L615.7,395.8 L615.9,396.9 L616.1,398.1 L616.4,399.4 L616.6,400.7 L616.8,402.0 L617.1,403.4 L617.3,404.8 L617.5,406.2 L617.8,407.5 L618.0,408.9 L618.2,410.2 L618.5,411.4 L618.7,412.6 L619.0,413.8 L619.2,414.8 L619.4,415.8 L619.7,416.8 L619.9,417.8 L620.1,418.7 L620.4,419.7 L620.6,420.6 L620.8,421.6 L621.1,422.5 L621.3,423.4 L621.5,424.3 L621.8,425.2 L622.0,426.1 L622.2,426.9 L622.5,427.7 L622.7,428.5 L622.9,429.2 L623.2,429.9 L623.4,430.6 L623.6,431.2 L623.9,431.8 L624.1,432.4 L624.4,432.9 L624.6,433.4 L624.8,433.8 L625.1,434.2 L625.3,434.6 L625.5,434.9 L625.8,435.3 L626.0,435.6 L626.2,436.0 L626.5,436.3 L626.7,436.6 L626.9,436.9 L627.2,437.2 L627.4,437.5 L627.6,437.8 L627.9,438.0 L628.1,438.3 L628.3,438.5 L628.6,438.7 L628.8,438.8 L629.1,439.0 L629.3,439.1 L629.5,439.2 L629.8,439.3 L630.0,439.3 L630.2,439.3 L630.5,439.4 L630.7,439.4 L630.9,439.4 L631.2,439.4 L631.4,439.5 L631.6,439.5 L631.9,439.5 L632.1,439.5 L632.3,439.5 L632.6,439.5 L632.8,439.6 L633.0,439.6 L633.3,439.6 L633.5,439.6 L633.8,439.6 L634.0,439.6 L634.2,439.6 L634.5,439.6 L634.7,439.6 L634.9,439.6 L635.2,439.6 L635.4,439.6 L635.6,439.6 L635.9,439.6 L636.1,439.6 L636.3,439.6 L636.6,439.6 L636.8,439.6 L637.0,439.6 L637.3,439.6 L637.5,439.6 L637.7,439.6 L638.0,439.6 L638.2,439.6 L638.5,439.6 L638.7,439.6 L638.9,439.6 L639.2,439.6 L639.4,439.6 L639.6,439.6 L639.9,439.6 L640.1,439.6 L640.3,439.6 L640.6,439.6 L640.8,439.6 L641.0,439.6 L641.3,439.6 L641.5,439.6 L641.7,439.6 L642.0,439.6 L642.2,439.6 L642.4,439.6 L642.7,439.6 L642.9,439.6 L643.2,439.6 L643.4,439.6 L643.6,439.6 L643.9,439.6 L644.1,439.6 L644.3,439.6 L644.6,439.6 L644.8,439.6 L645.0,439.6 L645.3,439.6 L645.5,439.6 L645.7,439.6 L646.0,439.6 L646.2,439.6 L646.4,439.6 L646.7,439.6 L646.9,439.6 L647.1,439.6 L647.4,439.6 L647.6,439.6 L647.8,439.6 L648.1,439.6 L648.3,439.6 L648.6,439.6 L648.8,439.6 L649.0,439.6 L649.3,439.6 L649.5,439.6 L649.7,439.6 L650.0,439.6 L650.2,439.6 L650.4,439.6 L650.7,439.6 L650.9,439.6 L651.1,439.6 L651.4,439.6 L651.6,439.6 L651.8,439.6 L652.1,439.6 L652.3,439.6 L652.5,439.6 L652.8,439.6 L653.0,439.6 L653.3,439.6 L653.5,439.6 L653.7,439.6 L654.0,439.6 L654.2,439.6 L654.4,439.6 L654.7,439.6 L654.9,439.6 L655.1,439.6 L655.4,439.6 L655.6,439.6 L655.8,439.6 L656.1,439.6 L656.3,439.6 L656.5,439.6 L656.8,439.6 L657.0,439.6 L657.2,439.6 L657.5,439.6 L657.7,439.6 L658.0,439.6 L658.2,439.6 L658.4,439.6 L658.7,439.6 L658.9,439.6 L659.1,439.6 L659.4,439.6 L659.6,439.6 L659.8,439.6 L660.1,439.6 L660.3,439.6 L660.5,439.6 L660.8,439.6 L661.0,439.6 L661.2,439.6 L661.5,439.6 L661.7,439.6 L661.9,439.6 L662.2,439.6 L662.4,439.6 L662.7,439.6 L662.9,439.6 L663.1,439.6 L663.4,439.6 L663.6,439.6 L663.8,439.6 L664.1,439.6 L664.3,439.6 L664.5,439.6 L664.8,439.6 L665.0,439.6" fill="none" stroke="#7a86c8" stroke-width="1.2"/>
<path d="M424.2,439.6 L424.4,439.6 L424.7,439.6 L424.9,439.6 L425.1,439.6 L425.4,439.5 L425.6,439.5 L425.8,439.5 L426.1,439.5 L426.3,439.5 L426.5,439.5 L426.8,439.5 L427.0,439.5 L427.2,439.5 L427.5,439.5 L427.7,439.5 L427.9,439.5 L428.2,439.5 L428.4,439.5 L428.6,439.5 L428.9,439.5 L429.1,439.5 L429.3,439.5 L429.6,439.5 L429.8,439.5 L430.1,439.5 L430.3,439.5 L430.5,439.5 L430.8,439.5 L431.0,439.4 L431.2,439.4 L431.5,439.4 L431.7,439.4 L431.9,439.4 L432.2,439.4 L432.4,439.4 L432.6,439.4 L432.9,439.4 L433.1,439.4 L433.3,439.4 L433.6,439.4 L433.8,439.4 L434.0,439.4 L434.3,439.4 L434.5,439.4 L434.8,439.4 L435.0,439.4 L435.2,439.4 L435.5,439.4 L435.7,439.4 L435.9,439.3 L436.2,439.3 L436.4,439.3 L436.6,439.3 L436.9,439.3 L437.1,439.3 L437.3,439.3 L437.6,439.3 L437.8,439.3 L438.0,439.3 L438.3,439.3 L438.5,439.3 L438.7,439.3 L439.0,439.3 L439.2,439.3 L439.5,439.3 L439.7,439.3 L439.9,439.2 L440.2,439.2 L440.4,439.2 L440.6,439.2 L440.9,439.2 L441.1,439.2 L441.3,439.2 L441.6,439.2 L441.8,439.2 L442.0,439.2 L442.3,439.2 L442.5,439.2 L442.7,439.1 L443.0,439.1 L443.2,439.1 L443.4,439.1 L443.7,439.1 L443.9,439.1 L444.2,439.1 L444.4,439.1 L444.6,439.1 L444.9,439.1 L445.1,439.0 L445.3,439.0 L445.6,439.0 L445.8,439.0 L446.0,439.0 L446.3,439.0 L446.5,439.0 L446.7,438.9 L447.0,438.9 L447.2,438.9 L447.4,438.9 L447.7,438.8 L447.9,438.8 L448.1,438.8 L448.4,438.7 L448.6,438.7 L448.8,438.7 L449.1,438.6 L449.3,438.6 L449.6,438.6 L449.8,438.5 L450.0,438.5 L450.3,438.4 L450.5,438.4 L450.7,438.3 L451.0,438.3 L451.2,438.2 L451.4,438.2 L451.7,438.1 L451.9,438.1 L452.1,438.0 L452.4,438.0 L452.6,437.9 L452.8,437.8 L453.1,437.8 L453.3,437.7 L453.5,437.7 L453.8,437.6 L454.0,437.5 L454.3,437.5 L454.5,437.4 L454.7,437.4 L455.0,437.3 L455.2,437.2 L455.4,437.2 L455.7,437.1 L455.9,437.1 L456.1,437.0 L456.4,436.9 L456.6,436.9 L456.8,436.8 L457.1,436.8 L457.3,436.7 L457.5,436.6 L457.8,436.6 L458.0,436.5 L458.2,436.5 L458.5,436.4 L458.7,436.4 L459.0,436.3 L459.2,436.2 L459.4,436.2 L459.7,436.1 L459.9,436.1 L460.1,436.0 L460.4,436.0 L460.6,436.0 L460.8,435.9 L461.1,435.9 L461.3,435.8 L461.5,435.8 L461.8,435.7 L462.0,435.7 L462.2,435.6 L462.5,435.6 L462.7,435.6 L462.9,435.5 L463.2,435.5 L463.4,435.4 L463.7,435.4 L463.9,435.4 L464.1,435.3 L464.4,435.3 L464.6,435.2 L464.8,435.2 L465.1,435.2 L465.3,435.1 L465.5,435.1 L465.8,435.0 L466.0,435.0 L466.2,435.0 L466.5,434.9 L466.7,434.9 L466.9,434.8 L467.2,434.8 L467.4,434.8 L467.6,434.7 L467.9,434.7 L468.1,434.6 L468.4,434.6 L468.6,434.6 L468.8,434.5 L469.1,434.5 L469.3,434.4 L469.5,434.4 L469.8,434.4 L470.0,434.3 L470.2,434.3 L470.5,434.2 L470.7,434.2 L470.9,434.1 L471.2,434.1 L471.4,434.0 L471.6,434.0 L471.9,434.0 L472.1,433.9 L472.3,433.9 L472.6,433.8 L472.8,433.8 L473.0,433.7 L473.3,433.6 L473.5,433.6 L473.8,433.5 L474.0,433.5 L474.2,433.4 L474.5,433.4 L474.7,433.3 L474.9,433.2 L475.2,433.2 L475.4,433.1 L475.6,433.1 L475.9,433.0 L476.1,432.9 L476.3,432.9 L476.6,432.8 L476.8,432.7 L477.0,432.6 L477.3,432.6 L477.5,432.5 L477.7,432.4 L478.0,432.3 L478.2,432.2 L478.5,432.1 L478.7,432.0 L478.9,431.9 L479.2,431.7 L479.4,431.6 L479.6,431.5 L479.9,431.4 L480.1,431.2 L480.3,431.1 L480.6,431.0 L480.8,430.8 L481.0,430.7 L481.3,430.5 L481.5,430.4 L481.7,430.2 L482.0,430.1 L482.2,429.9 L482.4,429.8 L482.7,429.6 L482.9,429.5 L483.2,429.3 L483.4,429.2 L483.6,429.0 L483.9,428.8 L484.1,428.7 L484.3,428.5 L484.6,428.4 L484.8,428.2 L485.0,428.0 L485.3,427.9 L485.5,427.7 L485.7,427.6 L486.0,427.4 L486.2,427.2 L486.4,427.1 L486.7,426.9 L486.9,426.8 L487.1,426.6 L487.4,426.5 L487.6,426.3 L487.9,426.2 L488.1,426.1 L488.3,425.9 L488.6,425.8 L488.8,425.7 L489.0,425.5 L489.3,425.4 L489.5,425.3 L489.7,425.2 L490.0,425.1 L490.2,425.0 L490.4,424.8 L490.7,424.7 L490.9,424.6 L491.1,424.5 L491.4,424.4 L491.6,424.3 L491.8,424.2 L492.1,424.1 L492.3,424.0 L492.5,423.9 L492.8,423.9 L493.0,423.8 L493.3,423.7 L493.5,423.6 L493.7,423.5 L494.0,423.4 L494.2,423.3 L494.4,423.2 L494.7,423.1 L494.9,423.0 L495.1,422.9 L495.4,422.8 L495.6,422.8 L495.8,422.7 L496.1,422.6 L496.3,422.5 L496.5,422.4 L496.8,422.4 L497.0,422.3 L497.2,422.2 L497.5,422.1 L497.7,422.1 L498.0,422.0 L498.2,421.9 L498.4,421.9 L498.7,421.8 L498.9,421.7 L499.1,421.7 L499.4,421.6 L499.6,421.6 L499.8,421.5 L500.1,421.4 L500.3,421.4 L500.5,421.3 L500.8,421.3 L501.0,421.2 L501.2,421.2 L501.5,421.1 L501.7,421.1 L501.9,421.0 L502.2,421.0 L502.4,421.0 L502.7,420.9 L502.9,420.9 L503.1,420.8 L503.4,420.8 L503.6,420.7 L503.8,420.7 L504.1,420.7 L504.3,420.6 L504.5,420.6 L504.8,420.5 L505.0,420.5 L505.2,420.5 L505.5,420.4 L505.7,420.4 L505.9,420.4 L506.2,420.3 L506.4,420.3 L506.6,420.2 L506.9,420.2 L507.1,420.2 L507.4,420.1 L507.6,420.1 L507.8,420.1 L508.1,420.0 L508.3,420.0 L508.5,420.0 L508.8,419.9 L509.0,419.9 L509.2,419.9 L509.5,419.8 L509.7,419.8 L509.9,419.8 L510.2,419.7 L510.4,419.7 L510.6,419.7 L510.9,419.6 L511.1,419.6 L511.3,419.6 L511.6,419.5 L511.8,419.5 L512.1,419.4 L512.3,419.4 L512.5,419.4 L512.8,419.3 L513.0,419.3 L513.2,419.3 L513.5,419.2 L513.7,419.2 L513.9,419.1 L514.2,419.1 L514.4,419.1 L514.6,419.0 L514.9,419.0 L515.1,419.0 L515.3,419.0 L515.6,418.9 L515.8,418.9 L516.0,418.9 L516.3,418.8 L516.5,418.8 L516.7,418.8 L517.0,418.8 L517.2,418.8 L517.5,418.7 L517.7,418.7 L517.9,418.7 L518.2,418.7 L518.4,418.7 L518.6,418.7 L518.9,418.7 L519.1,418.6 L519.3,418.6 L519.6,418.6 L519.8,418.6 L520.0,418.6 L520.3,418.7 L520.5,418.7 L520.7,418.7 L521.0,418.7 L521.2,418.8 L521.4,418.8 L521.7,418.9 L521.9,418.9 L522.2,419.0 L522.4,419.0 L522.6,419.1 L522.9,419.2 L523.1,419.2 L523.3,419.3 L523.6,419.4 L523.8,419.5 L524.0,419.6 L524.3,419.6 L524.5,419.7 L524.7,419.8 L525.0,419.9 L525.2,420.0 L525.4,420.1 L525.7,420.2 L525.9,420.3 L526.1,420.3 L526.4,420.4 L526.6,420.5 L526.9,420.6 L527.1,420.7 L527.3,420.8 L527.6,420.9 L527.8,420.9 L528.0,421.0 L528.3,421.1 L528.5,421.2 L528.7,421.2 L529.0,421.3 L529.2,421.4 L529.4,421.5 L529.7,421.5 L529.9,421.6 L530.1,421.7 L530.4,421.8 L530.6,421.9 L530.8,421.9 L531.1,422.0 L531.3,422.1 L531.6,422.2 L531.8,422.3 L532.0,422.4 L532.3,422.4 L532.5,422.5 L532.7,422.6 L533.0,422.7 L533.2,422.8 L533.4,422.8 L533.7,422.9 L533.9,423.0 L534.1,423.1 L534.4,423.2 L534.6,423.3 L534.8,423.3 L535.1,423.4 L535.3,423.5 L535.5,423.6 L535.8,423.7 L536.0,423.7 L536.2,423.8 L536.5,423.9 L536.7,424.0 L537.0,424.1 L537.2,424.2 L537.4,424.3 L537.7,424.4 L537.9,424.5 L538.1,424.6 L538.4,424.7 L538.6,424.8 L538.8,424.9 L539.1,425.0 L539.3,425.1 L539.5,425.2 L539.8,425.3 L540.0,425.4 L540.2,425.5 L540.5,425.6 L540.7,425.7 L540.9,425.7 L541.2,425.8 L541.4,425.9 L541.7,425.9 L541.9,426.0 L542.1,426.0 L542.4,426.1 L542.6,426.1 L542.8,426.1 L543.1,426.1 L543.3,426.1 L543.5,426.1 L543.8,426.1 L544.0,426.1 L544.2,426.1 L544.5,426.1 L544.7,426.1 L544.9,426.1 L545.2,426.1 L545.4,426.1 L545.6,426.0 L545.9,426.0 L546.1,426.0 L546.4,426.0 L546.6,426.0 L546.8,425.9 L547.1,425.9 L547.3,425.9 L547.5,425.9 L547.8,425.8 L548.0,425.8 L548.2,425.8 L548.5,425.7 L548.7,425.7 L548.9,425.7 L549.2,425.6 L549.4,425.6 L549.6,425.6 L549.9,425.5 L550.1,425.5 L550.3,425.4 L550.6,425.4 L550.8,425.4 L551.1,425.3 L551.3,425.3 L551.5,425.2 L551.8,425.2 L552.0,425.1 L552.2,425.1 L552.5,425.0 L552.7,425.0 L552.9,424.9 L553.2,424.9 L553.4,424.8 L553.6,424.8 L553.9,424.7 L554.1,424.7 L554.3,424.6 L554.6,424.5 L554.8,424.4 L555.0,424.3 L555.3,424.2 L555.5,424.1 L555.8,424.0 L556.0,423.9 L556.2,423.8 L556.5,423.7 L556.7,423.6 L556.9,423.5 L557.2,423.3 L557.4,423.2 L557.6,423.1 L557.9,423.0 L558.1,422.8 L558.3,422.7 L558.6,422.6 L558.8,422.5 L559.0,422.3 L559.3,422.2 L559.5,422.1 L559.7,422.0 L560.0,421.8 L560.2,421.7 L560.4,421.6 L560.7,421.5 L560.9,421.3 L561.2,421.2 L561.4,421.0 L561.6,420.9 L561.9,420.7 L562.1,420.6 L562.3,420.4 L562.6,420.2 L562.8,420.0 L563.0,419.9 L563.3,419.7 L563.5,419.5 L563.7,419.4 L564.0,419.2 L564.2,419.0 L564.4,418.9 L564.7,418.8 L564.9,418.6 L565.1,418.5 L565.4,418.4 L565.6,418.3 L565.9,418.3 L566.1,418.2 L566.3,418.2 L566.6,418.2 L566.8,418.2 L567.0,418.2 L567.3,418.2 L567.5,418.2 L567.7,418.3 L568.0,418.3 L568.2,418.3 L568.4,418.4 L568.7,418.5 L568.9,418.5 L569.1,418.6 L569.4,418.7 L569.6,418.8 L569.8,418.9 L570.1,418.9 L570.3,419.0 L570.6,419.1 L570.8,419.2 L571.0,419.3 L571.3,419.4 L571.5,419.5 L571.7,419.6 L572.0,419.7 L572.2,419.8 L572.4,419.9 L572.7,420.0 L572.9,420.1 L573.1,420.1 L573.4,420.2 L573.6,420.3 L573.8,420.5 L574.1,420.6 L574.3,420.8 L574.5,420.9 L574.8,421.1 L575.0,421.3 L575.3,421.5 L575.5,421.6 L575.7,421.8 L576.0,422.0 L576.2,422.1 L576.4,422.2 L576.7,422.3 L576.9,422.4 L577.1,422.4 L577.4,422.4 L577.6,422.4 L577.8,422.4 L578.1,422.4 L578.3,422.3 L578.5,422.3 L578.8,422.3 L579.0,422.2 L579.2,422.2 L579.5,422.1 L579.7,422.1 L579.9,422.0 L580.2,421.9 L580.4,421.9 L580.7,421.8 L580.9,421.7 L581.1,421.6 L581.4,421.4 L581.6,421.1 L581.8,420.8 L582.1,420.5 L582.3,420.1 L582.5,419.7 L582.8,419.3 L583.0,418.8 L583.2,418.3 L583.5,417.8 L583.7,417.3 L583.9,416.8 L584.2,416.3 L584.4,415.7 L584.6,415.2 L584.9,414.7 L585.1,414.2 L585.4,413.7 L585.6,413.2 L585.8,412.8 L586.1,412.3 L586.3,411.8 L586.5,411.3 L586.8,410.8 L587.0,410.3 L587.2,409.8 L587.5,409.3 L587.7,408.7 L587.9,408.2 L588.2,407.6 L588.4,407.1 L588.6,406.5 L588.9,406.0 L589.1,405.4 L589.3,404.8 L589.6,404.2 L589.8,403.6 L590.1,403.0 L590.3,402.4 L590.5,401.7 L590.8,401.1 L591.0,400.4 L591.2,399.8 L591.5,399.1 L591.7,398.4 L591.9,397.7 L592.2,397.0 L592.4,396.3 L592.6,395.6 L592.9,394.8 L593.1,394.0 L593.3,393.2 L593.6,392.3 L593.8,391.4 L594.0,390.5 L594.3,389.5 L594.5,388.5 L594.8,387.4 L595.0,386.4 L595.2,385.3 L595.5,384.3 L595.7,383.2 L595.9,382.1 L596.2,381.1 L596.4,380.1 L596.6,379.1 L596.9,378.1 L597.1,377.1 L597.3,376.2 L597.6,375.4 L597.8,374.5 L598.0,373.5 L598.3,372.6 L598.5,371.6 L598.7,370.7 L599.0,369.8 L599.2,368.9 L599.5,368.1 L599.7,367.4 L599.9,366.9 L600.2,366.4 L600.4,366.0 L600.6,365.8 L600.9,365.5 L601.1,365.2 L601.3,365.0 L601.6,364.8 L601.8,364.7 L602.0,364.6 L602.3,364.5 L602.5,364.5 L602.7,364.6 L603.0,364.7 L603.2,364.8 L603.4,365.0 L603.7,365.2 L603.9,365.4 L604.1,365.7 L604.4,365.9 L604.6,366.2 L604.9,366.5 L605.1,366.8 L605.3,367.1 L605.6,367.5 L605.8,368.0 L606.0,368.5 L606.3,369.0 L606.5,369.5 L606.7,370.1 L607.0,370.8 L607.2,371.4 L607.4,372.1 L607.7,372.7 L607.9,373.4 L608.1,374.1 L608.4,374.8 L608.6,375.5 L608.8,376.2 L609.1,377.0 L609.3,377.7 L609.6,378.5 L609.8,379.3 L610.0,380.2 L610.3,381.0 L610.5,381.9 L610.7,382.8 L611.0,383.8 L611.2,384.7 L611.4,385.7 L611.7,386.6 L611.9,387.6 L612.1,388.6 L612.4,389.7 L612.6,390.7 L612.8,391.7 L613.1,392.8 L613.3,393.8 L613.5,394.9 L613.8,396.0 L614.0,397.1 L614.3,398.3 L614.5,399.6 L614.7,400.9 L615.0,402.2 L615.2,403.6 L615.4,405.0 L615.7,406.3 L615.9,407.7 L616.1,409.0 L616.4,410.3 L616.6,411.6 L616.8,412.8 L617.1,413.9 L617.3,415.0 L617.5,415.9 L617.8,416.9 L618.0,417.9 L618.2,418.8 L618.5,419.8 L618.7,420.7 L619.0,421.7 L619.2,422.6 L619.4,423.5 L619.7,424.4 L619.9,425.3 L620.1,426.1 L620.4,426.9 L620.6,427.7 L620.8,428.5 L621.1,429.3 L621.3,430.0 L621.5,430.6 L621.8,431.3 L622.0,431.9 L622.2,432.4 L622.5,432.9 L622.7,433.4 L622.9,433.8 L623.2,434.2 L623.4,434.6 L623.6,434.9 L623.9,435.3 L624.1,435.6 L624.4,436.0 L624.6,436.3 L624.8,436.6 L625.1,437.0 L625.3,437.2 L625.5,437.5 L625.8,437.8 L626.0,438.0 L626.2,438.3 L626.5,438.5 L626.7,438.7 L626.9,438.8 L627.2,439.0 L627.4,439.1 L627.6,439.2 L627.9,439.3 L628.1,439.3 L628.3,439.3 L628.6,439.4 L628.8,439.4 L629.1,439.4 L629.3,439.4 L629.5,439.5 L629.8,439.5 L630.0,439.5 L630.2,439.5 L630.5,439.5 L630.7,439.5 L630.9,439.6 L631.2,439.6 L631.4,439.6 L631.6,439.6 L631.9,439.6 L632.1,439.6 L632.3,439.6 L632.6,439.6 L632.8,439.6 L633.0,439.6 L633.3,439.6 L633.5,439.6 L633.8,439.6 L634.0,439.6 L634.2,439.6 L634.5,439.6 L634.7,439.6 L634.9,439.6 L635.2,439.6 L635.4,439.6 L635.6,439.6 L635.9,439.6 L636.1,439.6 L636.3,439.6 L636.6,439.6 L636.8,439.6 L637.0,439.6 L637.3,439.6 L637.5,439.6 L637.7,439.6 L638.0,439.6 L638.2,439.6 L638.5,439.6 L638.7,439.6 L638.9,439.6 L639.2,439.6 L639.4,439.6 L639.6,439.6 L639.9,439.6 L640.1,439.6 L640.3,439.6 L640.6,439.6 L640.8,439.6 L641.0,439.6 L641.3,439.6 L641.5,439.6 L641.7,439.6 L642.0,439.6 L642.2,439.6 L642.4,439.6 L642.7,439.6 L642.9,439.6 L643.2,439.6 L643.4,439.6 L643.6,439.6 L643.9,439.6 L644.1,439.6 L644.3,439.6 L644.6,439.6 L644.8,439.6 L645.0,439.6 L645.3,439.6 L645.5,439.6 L645.7,439.6 L646.0,439.6 L646.2,439.6 L646.4,439.6 L646.7,439.6 L646.9,439.6 L647.1,439.6 L647.4,439.6 L647.6,439.6 L647.8,439.6 L648.1,439.6 L648.3,439.6 L648.6,439.6 L648.8,439.6 L649.0,439.6 L649.3,439.6 L649.5,439.6 L649.7,439.6 L650.0,439.6 L650.2,439.6 L650.4,439.6 L650.7,439.6 L650.9,439.6 L651.1,439.6 L651.4,439.6 L651.6,439.6 L651.8,439.6 L652.1,439.6 L652.3,439.6 L652.5,439.6 L652.8,439.6 L653.0,439.6 L653.3,439.6 L653.5,439.6 L653.7,439.6 L654.0,439.6 L654.2,439.6 L654.4,439.6 L654.7,439.6 L654.9,439.6 L655.1,439.6 L655.4,439.6 L655.6,439.6 L655.8,439.6 L656.1,439.6 L656.3,439.6 L656.5,439.6 L656.8,439.6 L657.0,439.6 L657.2,439.6 L657.5,439.6 L657.7,439.6 L658.0,439.6 L658.2,439.6 L658.4,439.6 L658.7,439.6 L658.9,439.6 L659.1,439.6 L659.4,439.6 L659.6,439.6 L659.8,439.6 L660.1,439.6 L660.3,439.6 L660.5,439.6 L660.8,439.6 L661.0,439.6 L661.2,439.6 L661.5,439.6 L661.7,439.6 L661.9,439.6 L662.2,439.6 L662.4,439.6 L662.7,439.6 L662.9,439.6 L663.1,439.6 L663.4,439.6 L663.6,439.6 L663.8,439.6 L664.1,439.6 L664.3,439.6 L664.5,439.6 L664.8,439.6 L665.0,439.6" fill="none" stroke="#5565b8" stroke-width="1.2"/>
<path d="M424.2,439.6 L424.4,439.6 L424.7,439.6 L424.9,439.6 L425.1,439.6 L425.4,439.5 L425.6,439.5 L425.8,439.5 L426.1,439.5 L426.3,439.5 L426.5,439.5 L426.8,439.5 L427.0,439.5 L427.2,439.5 L427.5,439.5 L427.7,439.5 L427.9,439.5 L428.2,439.5 L428.4,439.5 L428.6,439.5 L428.9,439.5 L429.1,439.5 L429.3,439.5 L429.6,439.5 L429.8,439.5 L430.1,439.5 L430.3,439.5 L430.5,439.5 L430.8,439.5 L431.0,439.4 L431.2,439.4 L431.5,439.4 L431.7,439.4 L431.9,439.4 L432.2,439.4 L432.4,439.4 L432.6,439.4 L432.9,439.4 L433.1,439.4 L433.3,439.4 L433.6,439.4 L433.8,439.4 L434.0,439.4 L434.3,439.4 L434.5,439.4 L434.8,439.4 L435.0,439.4 L435.2,439.4 L435.5,439.4 L435.7,439.4 L435.9,439.3 L436.2,439.3 L436.4,439.3 L436.6,439.3 L436.9,439.3 L437.1,439.3 L437.3,439.3 L437.6,439.3 L437.8,439.3 L438.0,439.3 L438.3,439.3 L438.5,439.3 L438.7,439.3 L439.0,439.3 L439.2,439.3 L439.5,439.3 L439.7,439.3 L439.9,439.2 L440.2,439.2 L440.4,439.2 L440.6,439.2 L440.9,439.2 L441.1,439.2 L441.3,439.2 L441.6,439.2 L441.8,439.2 L442.0,439.2 L442.3,439.2 L442.5,439.2 L442.7,439.1 L443.0,439.1 L443.2,439.1 L443.4,439.1 L443.7,439.1 L443.9,439.1 L444.2,439.1 L444.4,439.1 L444.6,439.1 L444.9,439.1 L445.1,439.0 L445.3,439.0 L445.6,439.0 L445.8,439.0 L446.0,439.0 L446.3,439.0 L446.5,439.0 L446.7,438.9 L447.0,438.9 L447.2,438.9 L447.4,438.9 L447.7,438.8 L447.9,438.8 L448.1,438.8 L448.4,438.7 L448.6,438.7 L448.8,438.7 L449.1,438.6 L449.3,438.6 L449.6,438.6 L449.8,438.5 L450.0,438.5 L450.3,438.4 L450.5,438.4 L450.7,438.3 L451.0,438.3 L451.2,438.2 L451.4,438.2 L451.7,438.1 L451.9,438.1 L452.1,438.0 L452.4,438.0 L452.6,437.9 L452.8,437.8 L453.1,437.8 L453.3,437.7 L453.5,437.7 L453.8,437.6 L454.0,437.5 L454.3,437.5 L454.5,437.4 L454.7,437.4 L455.0,437.3 L455.2,437.2 L455.4,437.2 L455.7,437.1 L455.9,437.1 L456.1,437.0 L456.4,436.9 L456.6,436.9 L456.8,436.8 L457.1,436.8 L457.3,436.7 L457.5,436.6 L457.8,436.6 L458.0,436.5 L458.2,436.5 L458.5,436.4 L458.7,436.4 L459.0,436.3 L459.2,436.2 L459.4,436.2 L459.7,436.1 L459.9,436.1 L460.1,436.0 L460.4,436.0 L460.6,435.9 L460.8,435.9 L461.1,435.9 L461.3,435.8 L461.5,435.8 L461.8,435.7 L462.0,435.7 L462.2,435.6 L462.5,435.6 L462.7,435.5 L462.9,435.5 L463.2,435.5 L463.4,435.4 L463.7,435.4 L463.9,435.3 L464.1,435.3 L464.4,435.3 L464.6,435.2 L464.8,435.2 L465.1,435.1 L465.3,435.1 L465.5,435.1 L465.8,435.0 L466.0,435.0 L466.2,434.9 L466.5,434.9 L466.7,434.9 L466.9,434.8 L467.2,434.8 L467.4,434.7 L467.6,434.7 L467.9,434.7 L468.1,434.6 L468.4,434.6 L468.6,434.5 L468.8,434.5 L469.1,434.4 L469.3,434.4 L469.5,434.4 L469.8,434.3 L470.0,434.3 L470.2,434.2 L470.5,434.2 L470.7,434.1 L470.9,434.1 L471.2,434.0 L471.4,434.0 L471.6,433.9 L471.9,433.9 L472.1,433.8 L472.3,433.8 L472.6,433.7 L472.8,433.7 L473.0,433.6 L473.3,433.6 L473.5,433.5 L473.8,433.5 L474.0,433.4 L474.2,433.3 L474.5,433.3 L474.7,433.2 L474.9,433.2 L475.2,433.1 L475.4,433.0 L475.6,433.0 L475.9,432.9 L476.1,432.8 L476.3,432.8 L476.6,432.7 L476.8,432.6 L477.0,432.5 L477.3,432.5 L477.5,432.4 L477.7,432.3 L478.0,432.2 L478.2,432.1 L478.5,432.0 L478.7,431.8 L478.9,431.7 L479.2,431.6 L479.4,431.5 L479.6,431.4 L479.9,431.2 L480.1,431.1 L480.3,430.9 L480.6,430.8 L480.8,430.7 L481.0,430.5 L481.3,430.4 L481.5,430.2 L481.7,430.1 L482.0,429.9 L482.2,429.7 L482.4,429.6 L482.7,429.4 L482.9,429.3 L483.2,429.1 L483.4,428.9 L483.6,428.8 L483.9,428.6 L484.1,428.5 L484.3,428.3 L484.6,428.1 L484.8,428.0 L485.0,427.8 L485.3,427.6 L485.5,427.5 L485.7,427.3 L486.0,427.2 L486.2,427.0 L486.4,426.8 L486.7,426.7 L486.9,426.5 L487.1,426.4 L487.4,426.2 L487.6,426.1 L487.9,425.9 L488.1,425.8 L488.3,425.6 L488.6,425.5 L488.8,425.4 L489.0,425.2 L489.3,425.1 L489.5,425.0 L489.7,424.9 L490.0,424.8 L490.2,424.7 L490.4,424.6 L490.7,424.4 L490.9,424.3 L491.1,424.2 L491.4,424.1 L491.6,424.0 L491.8,423.9 L492.1,423.8 L492.3,423.7 L492.5,423.6 L492.8,423.5 L493.0,423.4 L493.3,423.3 L493.5,423.2 L493.7,423.1 L494.0,423.1 L494.2,423.0 L494.4,422.9 L494.7,422.8 L494.9,422.7 L495.1,422.6 L495.4,422.5 L495.6,422.4 L495.8,422.3 L496.1,422.3 L496.3,422.2 L496.5,422.1 L496.8,422.0 L497.0,421.9 L497.2,421.9 L497.5,421.8 L497.7,421.7 L498.0,421.6 L498.2,421.6 L498.4,421.5 L498.7,421.4 L498.9,421.4 L499.1,421.3 L499.4,421.3 L499.6,421.2 L499.8,421.1 L500.1,421.1 L500.3,421.0 L500.5,421.0 L500.8,420.9 L501.0,420.9 L501.2,420.8 L501.5,420.8 L501.7,420.7 L501.9,420.7 L502.2,420.6 L502.4,420.6 L502.7,420.5 L502.9,420.5 L503.1,420.4 L503.4,420.4 L503.6,420.4 L503.8,420.3 L504.1,420.3 L504.3,420.2 L504.5,420.2 L504.8,420.2 L505.0,420.1 L505.2,420.1 L505.5,420.0 L505.7,420.0 L505.9,420.0 L506.2,419.9 L506.4,419.9 L506.6,419.9 L506.9,419.8 L507.1,419.8 L507.4,419.8 L507.6,419.7 L507.8,419.7 L508.1,419.6 L508.3,419.6 L508.5,419.6 L508.8,419.5 L509.0,419.5 L509.2,419.5 L509.5,419.4 L509.7,419.4 L509.9,419.4 L510.2,419.3 L510.4,419.3 L510.6,419.3 L510.9,419.2 L511.1,419.2 L511.3,419.2 L511.6,419.1 L511.8,419.1 L512.1,419.0 L512.3,419.0 L512.5,419.0 L512.8,418.9 L513.0,418.9 L513.2,418.8 L513.5,418.8 L513.7,418.8 L513.9,418.7 L514.2,418.7 L514.4,418.7 L514.6,418.6 L514.9,418.6 L515.1,418.6 L515.3,418.5 L515.6,418.5 L515.8,418.5 L516.0,418.5 L516.3,418.4 L516.5,418.4 L516.7,418.4 L517.0,418.4 L517.2,418.3 L517.5,418.3 L517.7,418.3 L517.9,418.3 L518.2,418.3 L518.4,418.3 L518.6,418.2 L518.9,418.2 L519.1,418.2 L519.3,418.2 L519.6,418.2 L519.8,418.2 L520.0,418.2 L520.3,418.2 L520.5,418.3 L520.7,418.3 L521.0,418.3 L521.2,418.4 L521.4,418.4 L521.7,418.4 L521.9,418.5 L522.2,418.6 L522.4,418.6 L522.6,418.7 L522.9,418.8 L523.1,418.8 L523.3,418.9 L523.6,419.0 L523.8,419.1 L524.0,419.2 L524.3,419.3 L524.5,419.3 L524.7,419.4 L525.0,419.5 L525.2,419.6 L525.4,419.7 L525.7,419.8 L525.9,419.9 L526.1,420.0 L526.4,420.1 L526.6,420.2 L526.9,420.3 L527.1,420.3 L527.3,420.4 L527.6,420.5 L527.8,420.6 L528.0,420.7 L528.3,420.8 L528.5,420.8 L528.7,420.9 L529.0,421.0 L529.2,421.1 L529.4,421.1 L529.7,421.2 L529.9,421.3 L530.1,421.4 L530.4,421.5 L530.6,421.6 L530.8,421.6 L531.1,421.7 L531.3,421.8 L531.6,421.9 L531.8,422.0 L532.0,422.1 L532.3,422.2 L532.5,422.2 L532.7,422.3 L533.0,422.4 L533.2,422.5 L533.4,422.6 L533.7,422.7 L533.9,422.8 L534.1,422.9 L534.4,422.9 L534.6,423.0 L534.8,423.1 L535.1,423.2 L535.3,423.3 L535.5,423.4 L535.8,423.4 L536.0,423.5 L536.2,423.6 L536.5,423.7 L536.7,423.8 L537.0,423.9 L537.2,424.0 L537.4,424.1 L537.7,424.2 L537.9,424.3 L538.1,424.5 L538.4,424.6 L538.6,424.7 L538.8,424.8 L539.1,424.9 L539.3,425.0 L539.5,425.1 L539.8,425.2 L540.0,425.3 L540.2,425.4 L540.5,425.4 L540.7,425.5 L540.9,425.6 L541.2,425.6 L541.4,425.7 L541.7,425.8 L541.9,425.8 L542.1,425.8 L542.4,425.9 L542.6,425.9 L542.8,425.9 L543.1,425.9 L543.3,425.9 L543.5,425.9 L543.8,425.9 L544.0,425.8 L544.2,425.8 L544.5,425.8 L544.7,425.8 L544.9,425.8 L545.2,425.8 L545.4,425.7 L545.6,425.7 L545.9,425.7 L546.1,425.7 L546.4,425.7 L546.6,425.6 L546.8,425.6 L547.1,425.6 L547.3,425.5 L547.5,425.5 L547.8,425.5 L548.0,425.4 L548.2,425.4 L548.5,425.4 L548.7,425.3 L548.9,425.3 L549.2,425.2 L549.4,425.2 L549.6,425.2 L549.9,425.1 L550.1,425.1 L550.3,425.0 L550.6,425.0 L550.8,424.9 L551.1,424.9 L551.3,424.8 L551.5,424.8 L551.8,424.7 L552.0,424.7 L552.2,424.6 L552.5,424.6 L552.7,424.5 L552.9,424.5 L553.2,424.4 L553.4,424.3 L553.6,424.3 L553.9,424.2 L554.1,424.1 L554.3,424.0 L554.6,423.9 L554.8,423.8 L555.0,423.7 L555.3,423.5 L555.5,423.4 L555.8,423.3 L556.0,423.2 L556.2,423.1 L556.5,422.9 L556.7,422.8 L556.9,422.7 L557.2,422.5 L557.4,422.4 L557.6,422.3 L557.9,422.1 L558.1,422.0 L558.3,421.8 L558.6,421.7 L558.8,421.6 L559.0,421.5 L559.3,421.3 L559.5,421.2 L559.7,421.1 L560.0,420.9 L560.2,420.8 L560.4,420.6 L560.7,420.4 L560.9,420.3 L561.2,420.1 L561.4,419.9 L561.6,419.7 L561.9,419.5 L562.1,419.4 L562.3,419.2 L562.6,419.0 L562.8,418.8 L563.0,418.7 L563.3,418.5 L563.5,418.4 L563.7,418.2 L564.0,418.1 L564.2,418.0 L564.4,417.9 L564.7,417.8 L564.9,417.8 L565.1,417.7 L565.4,417.7 L565.6,417.7 L565.9,417.7 L566.1,417.8 L566.3,417.8 L566.6,417.8 L566.8,417.9 L567.0,417.9 L567.3,418.0 L567.5,418.1 L567.7,418.1 L568.0,418.2 L568.2,418.3 L568.4,418.4 L568.7,418.5 L568.9,418.6 L569.1,418.7 L569.4,418.8 L569.6,418.9 L569.8,419.0 L570.1,419.1 L570.3,419.2 L570.6,419.3 L570.8,419.4 L571.0,419.5 L571.3,419.6 L571.5,419.7 L571.7,419.8 L572.0,419.9 L572.2,420.1 L572.4,420.2 L572.7,420.4 L572.9,420.5 L573.1,420.7 L573.4,420.9 L573.6,421.1 L573.8,421.3 L574.1,421.5 L574.3,421.7 L574.5,421.8 L574.8,422.0 L575.0,422.1 L575.3,422.2 L575.5,422.2 L575.7,422.3 L576.0,422.3 L576.2,422.2 L576.4,422.2 L576.7,422.2 L576.9,422.2 L577.1,422.1 L577.4,422.1 L577.6,422.1 L577.8,422.0 L578.1,421.9 L578.3,421.9 L578.5,421.8 L578.8,421.8 L579.0,421.7 L579.2,421.6 L579.5,421.5 L579.7,421.2 L579.9,421.0 L580.2,420.7 L580.4,420.3 L580.7,419.9 L580.9,419.5 L581.1,419.0 L581.4,418.6 L581.6,418.1 L581.8,417.5 L582.1,417.0 L582.3,416.5 L582.5,415.9 L582.8,415.4 L583.0,414.8 L583.2,414.3 L583.5,413.8 L583.7,413.3 L583.9,412.8 L584.2,412.3 L584.4,411.8 L584.6,411.3 L584.9,410.8 L585.1,410.3 L585.4,409.7 L585.6,409.2 L585.8,408.7 L586.1,408.1 L586.3,407.5 L586.5,407.0 L586.8,406.4 L587.0,405.8 L587.2,405.2 L587.5,404.6 L587.7,404.0 L587.9,403.3 L588.2,402.7 L588.4,402.1 L588.6,401.4 L588.9,400.7 L589.1,400.0 L589.3,399.4 L589.6,398.6 L589.8,397.9 L590.1,397.2 L590.3,396.5 L590.5,395.7 L590.8,394.9 L591.0,394.1 L591.2,393.3 L591.5,392.4 L591.7,391.4 L591.9,390.4 L592.2,389.4 L592.4,388.3 L592.6,387.3 L592.9,386.2 L593.1,385.1 L593.3,384.0 L593.6,382.9 L593.8,381.8 L594.0,380.8 L594.3,379.7 L594.5,378.7 L594.8,377.7 L595.0,376.8 L595.2,375.9 L595.5,374.9 L595.7,374.0 L595.9,373.0 L596.2,372.0 L596.4,371.1 L596.6,370.1 L596.9,369.3 L597.1,368.5 L597.3,367.8 L597.6,367.2 L597.8,366.8 L598.0,366.5 L598.3,366.2 L598.5,365.9 L598.7,365.7 L599.0,365.5 L599.2,365.3 L599.5,365.2 L599.7,365.1 L599.9,365.1 L600.2,365.1 L600.4,365.2 L600.6,365.3 L600.9,365.5 L601.1,365.6 L601.3,365.9 L601.6,366.1 L601.8,366.4 L602.0,366.6 L602.3,366.9 L602.5,367.2 L602.7,367.5 L603.0,367.9 L603.2,368.3 L603.4,368.8 L603.7,369.3 L603.9,369.9 L604.1,370.4 L604.4,371.0 L604.6,371.7 L604.9,372.3 L605.1,373.0 L605.3,373.7 L605.6,374.4 L605.8,375.1 L606.0,375.8 L606.3,376.5 L606.5,377.2 L606.7,377.9 L607.0,378.7 L607.2,379.5 L607.4,380.3 L607.7,381.2 L607.9,382.0 L608.1,382.9 L608.4,383.9 L608.6,384.8 L608.8,385.7 L609.1,386.7 L609.3,387.7 L609.6,388.7 L609.8,389.7 L610.0,390.7 L610.3,391.7 L610.5,392.8 L610.7,393.8 L611.0,394.9 L611.2,395.9 L611.4,397.0 L611.7,398.2 L611.9,399.5 L612.1,400.7 L612.4,402.1 L612.6,403.4 L612.8,404.7 L613.1,406.1 L613.3,407.5 L613.5,408.8 L613.8,410.1 L614.0,411.3 L614.3,412.6 L614.5,413.7 L614.7,414.8 L615.0,415.8 L615.2,416.7 L615.4,417.7 L615.7,418.7 L615.9,419.6 L616.1,420.6 L616.4,421.5 L616.6,422.4 L616.8,423.3 L617.1,424.2 L617.3,425.1 L617.5,425.9 L617.8,426.8 L618.0,427.6 L618.2,428.3 L618.5,429.1 L618.7,429.8 L619.0,430.5 L619.2,431.1 L619.4,431.7 L619.7,432.3 L619.9,432.8 L620.1,433.3 L620.4,433.7 L620.6,434.1 L620.8,434.5 L621.1,434.9 L621.3,435.2 L621.5,435.6 L621.8,435.9 L622.0,436.2 L622.2,436.6 L622.5,436.9 L622.7,437.2 L622.9,437.5 L623.2,437.7 L623.4,438.0 L623.6,438.2 L623.9,438.4 L624.1,438.6 L624.4,438.8 L624.6,438.9 L624.8,439.1 L625.1,439.2 L625.3,439.2 L625.5,439.3 L625.8,439.3 L626.0,439.4 L626.2,439.4 L626.5,439.4 L626.7,439.4 L626.9,439.5 L627.2,439.5 L627.4,439.5 L627.6,439.5 L627.9,439.5 L628.1,439.5 L628.3,439.6 L628.6,439.6 L628.8,439.6 L629.1,439.6 L629.3,439.6 L629.5,439.6 L629.8,439.6 L630.0,439.6 L630.2,439.6 L630.5,439.6 L630.7,439.6 L630.9,439.6 L631.2,439.6 L631.4,439.6 L631.6,439.6 L631.9,439.6 L632.1,439.6 L632.3,439.6 L632.6,439.6 L632.8,439.6 L633.0,439.6 L633.3,439.6 L633.5,439.6 L633.8,439.6 L634.0,439.6 L634.2,439.6 L634.5,439.6 L634.7,439.6 L634.9,439.6 L635.2,439.6 L635.4,439.6 L635.6,439.6 L635.9,439.6 L636.1,439.6 L636.3,439.6 L636.6,439.6 L636.8,439.6 L637.0,439.6 L637.3,439.6 L637.5,439.6 L637.7,439.6 L638.0,439.6 L638.2,439.6 L638.5,439.6 L638.7,439.6 L638.9,439.6 L639.2,439.6 L639.4,439.6 L639.6,439.6 L639.9,439.6 L640.1,439.6 L640.3,439.6 L640.6,439.6 L640.8,439.6 L641.0,439.6 L641.3,439.6 L641.5,439.6 L641.7,439.6 L642.0,439.6 L642.2,439.6 L642.4,439.6 L642.7,439.6 L642.9,439.6 L643.2,439.6 L643.4,439.6 L643.6,439.6 L643.9,439.6 L644.1,439.6 L644.3,439.6 L644.6,439.6 L644.8,439.6 L645.0,439.6 L645.3,439.6 L645.5,439.6 L645.7,439.6 L646.0,439.6 L646.2,439.6 L646.4,439.6 L646.7,439.6 L646.9,439.6 L647.1,439.6 L647.4,439.6 L647.6,439.6 L647.8,439.6 L648.1,439.6 L648.3,439.6 L648.6,439.6 L648.8,439.6 L649.0,439.6 L649.3,439.6 L649.5,439.6 L649.7,439.6 L650.0,439.6 L650.2,439.6 L650.4,439.6 L650.7,439.6 L650.9,439.6 L651.1,439.6 L651.4,439.6 L651.6,439.6 L651.8,439.6 L652.1,439.6 L652.3,439.6 L652.5,439.6 L652.8,439.6 L653.0,439.6 L653.3,439.6 L653.5,439.6 L653.7,439.6 L654.0,439.6 L654.2,439.6 L654.4,439.6 L654.7,439.6 L654.9,439.6 L655.1,439.6 L655.4,439.6 L655.6,439.6 L655.8,439.6 L656.1,439.6 L656.3,439.6 L656.5,439.6 L656.8,439.6 L657.0,439.6 L657.2,439.6 L657.5,439.6 L657.7,439.6 L658.0,439.6 L658.2,439.6 L658.4,439.6 L658.7,439.6 L658.9,439.6 L659.1,439.6 L659.4,439.6 L659.6,439.6 L659.8,439.6 L660.1,439.6 L660.3,439.6 L660.5,439.6 L660.8,439.6 L661.0,439.6 L661.2,439.6 L661.5,439.6 L661.7,439.6 L661.9,439.6 L662.2,439.6 L662.4,439.6 L662.7,439.6 L662.9,439.6 L663.1,439.6 L663.4,439.6 L663.6,439.6 L663.8,439.6 L664.1,439.6 L664.3,439.6 L664.5,439.6 L664.8,439.6 L665.0,439.6" fill="none" stroke="#e9f0a2" stroke-width="1.2"/>
<path d="M424.2,439.6 L424.4,439.6 L424.7,439.6 L424.9,439.6 L425.1,439.6 L425.4,439.5 L425.6,439.5 L425.8,439.5 L426.1,439.5 L426.3,439.5 L426.5,439.5 L426.8,439.5 L427.0,439.5 L427.2,439.5 L427.5,439.5 L427.7,439.5 L427.9,439.5 L428.2,439.5 L428.4,439.5 L428.6,439.5 L428.9,439.5 L429.1,439.5 L429.3,439.5 L429.6,439.5 L429.8,439.5 L430.1,439.5 L430.3,439.5 L430.5,439.5 L430.8,439.5 L431.0,439.4 L431.2,439.4 L431.5,439.4 L431.7,439.4 L431.9,439.4 L432.2,439.4 L432.4,439.4 L432.6,439.4 L432.9,439.4 L433.1,439.4 L433.3,439.4 L433.6,439.4 L433.8,439.4 L434.0,439.4 L434.3,439.4 L434.5,439.4 L434.8,439.4 L435.0,439.4 L435.2,439.4 L435.5,439.4 L435.7,439.4 L435.9,439.3 L436.2,439.3 L436.4,439.3 L436.6,439.3 L436.9,439.3 L437.1,439.3 L437.3,439.3 L437.6,439.3 L437.8,439.3 L438.0,439.3 L438.3,439.3 L438.5,439.3 L438.7,439.3 L439.0,439.3 L439.2,439.3 L439.5,439.3 L439.7,439.3 L439.9,439.2 L440.2,439.2 L440.4,439.2 L440.6,439.2 L440.9,439.2 L441.1,439.2 L441.3,439.2 L441.6,439.2 L441.8,439.2 L442.0,439.2 L442.3,439.2 L442.5,439.2 L442.7,439.1 L443.0,439.1 L443.2,439.1 L443.4,439.1 L443.7,439.1 L443.9,439.1 L444.2,439.1 L444.4,439.1 L444.6,439.1 L444.9,439.1 L445.1,439.0 L445.3,439.0 L445.6,439.0 L445.8,439.0 L446.0,439.0 L446.3,439.0 L446.5,439.0 L446.7,438.9 L447.0,438.9 L447.2,438.9 L447.4,438.9 L447.7,438.8 L447.9,438.8 L448.1,438.8 L448.4,438.7 L448.6,438.7 L448.8,438.7 L449.1,438.6 L449.3,438.6 L449.6,438.6 L449.8,438.5 L450.0,438.5 L450.3,438.4 L450.5,438.4 L450.7,438.3 L451.0,438.3 L451.2,438.2 L451.4,438.2 L451.7,438.1 L451.9,438.1 L452.1,438.0 L452.4,438.0 L452.6,437.9 L452.8,437.8 L453.1,437.8 L453.3,437.7 L453.5,437.7 L453.8,437.6 L454.0,437.5 L454.3,437.5 L454.5,437.4 L454.7,437.4 L455.0,437.3 L455.2,437.2 L455.4,437.2 L455.7,437.1 L455.9,437.1 L456.1,437.0 L456.4,436.9 L456.6,436.9 L456.8,436.8 L457.1,436.8 L457.3,436.7 L457.5,436.6 L457.8,436.6 L458.0,436.5 L458.2,436.5 L458.5,436.4 L458.7,436.4 L459.0,436.3 L459.2,436.2 L459.4,436.2 L459.7,436.1 L459.9,436.1 L460.1,436.0 L460.4,436.0 L460.6,435.9 L460.8,435.9 L461.1,435.8 L461.3,435.8 L461.5,435.8 L461.8,435.7 L462.0,435.7 L462.2,435.6 L462.5,435.6 L462.7,435.5 L462.9,435.5 L463.2,435.4 L463.4,435.4 L463.7,435.4 L463.9,435.3 L464.1,435.3 L464.4,435.2 L464.6,435.2 L464.8,435.2 L465.1,435.1 L465.3,435.1 L465.5,435.0 L465.8,435.0 L466.0,434.9 L466.2,434.9 L466.5,434.9 L466.7,434.8 L466.9,434.8 L467.2,434.7 L467.4,434.7 L467.6,434.7 L467.9,434.6 L468.1,434.6 L468.4,434.5 L468.6,434.5 L468.8,434.4 L469.1,434.4 L469.3,434.4 L469.5,434.3 L469.8,434.3 L470.0,434.2 L470.2,434.2 L470.5,434.1 L470.7,434.1 L470.9,434.0 L471.2,434.0 L471.4,433.9 L471.6,433.9 L471.9,433.8 L472.1,433.8 L472.3,433.7 L472.6,433.7 L472.8,433.6 L473.0,433.6 L473.3,433.5 L473.5,433.5 L473.8,433.4 L474.0,433.3 L474.2,433.3 L474.5,433.2 L474.7,433.1 L474.9,433.1 L475.2,433.0 L475.4,433.0 L475.6,432.9 L475.9,432.8 L476.1,432.7 L476.3,432.7 L476.6,432.6 L476.8,432.5 L477.0,432.4 L477.3,432.4 L477.5,432.3 L477.7,432.2 L478.0,432.1 L478.2,432.0 L478.5,431.8 L478.7,431.7 L478.9,431.6 L479.2,431.5 L479.4,431.3 L479.6,431.2 L479.9,431.1 L480.1,430.9 L480.3,430.8 L480.6,430.7 L480.8,430.5 L481.0,430.4 L481.3,430.2 L481.5,430.0 L481.7,429.9 L482.0,429.7 L482.2,429.6 L482.4,429.4 L482.7,429.2 L482.9,429.1 L483.2,428.9 L483.4,428.7 L483.6,428.6 L483.9,428.4 L484.1,428.2 L484.3,428.1 L484.6,427.9 L484.8,427.7 L485.0,427.6 L485.3,427.4 L485.5,427.2 L485.7,427.1 L486.0,426.9 L486.2,426.7 L486.4,426.6 L486.7,426.4 L486.9,426.3 L487.1,426.1 L487.4,426.0 L487.6,425.8 L487.9,425.7 L488.1,425.5 L488.3,425.4 L488.6,425.2 L488.8,425.1 L489.0,425.0 L489.3,424.8 L489.5,424.7 L489.7,424.6 L490.0,424.5 L490.2,424.4 L490.4,424.3 L490.7,424.2 L490.9,424.0 L491.1,423.9 L491.4,423.8 L491.6,423.7 L491.8,423.6 L492.1,423.5 L492.3,423.4 L492.5,423.3 L492.8,423.2 L493.0,423.1 L493.3,423.0 L493.5,422.9 L493.7,422.8 L494.0,422.7 L494.2,422.6 L494.4,422.5 L494.7,422.4 L494.9,422.4 L495.1,422.3 L495.4,422.2 L495.6,422.1 L495.8,422.0 L496.1,421.9 L496.3,421.8 L496.5,421.8 L496.8,421.7 L497.0,421.6 L497.2,421.5 L497.5,421.4 L497.7,421.4 L498.0,421.3 L498.2,421.2 L498.4,421.2 L498.7,421.1 L498.9,421.0 L499.1,421.0 L499.4,420.9 L499.6,420.8 L499.8,420.8 L500.1,420.7 L500.3,420.7 L500.5,420.6 L500.8,420.6 L501.0,420.5 L501.2,420.5 L501.5,420.4 L501.7,420.4 L501.9,420.3 L502.2,420.3 L502.4,420.2 L502.7,420.2 L502.9,420.1 L503.1,420.1 L503.4,420.0 L503.6,420.0 L503.8,419.9 L504.1,419.9 L504.3,419.9 L504.5,419.8 L504.8,419.8 L505.0,419.7 L505.2,419.7 L505.5,419.7 L505.7,419.6 L505.9,419.6 L506.2,419.5 L506.4,419.5 L506.6,419.5 L506.9,419.4 L507.1,419.4 L507.4,419.4 L507.6,419.3 L507.8,419.3 L508.1,419.3 L508.3,419.2 L508.5,419.2 L508.8,419.2 L509.0,419.1 L509.2,419.1 L509.5,419.0 L509.7,419.0 L509.9,419.0 L510.2,418.9 L510.4,418.9 L510.6,418.9 L510.9,418.8 L511.1,418.8 L511.3,418.8 L511.6,418.7 L511.8,418.7 L512.1,418.6 L512.3,418.6 L512.5,418.6 L512.8,418.5 L513.0,418.5 L513.2,418.4 L513.5,418.4 L513.7,418.4 L513.9,418.3 L514.2,418.3 L514.4,418.3 L514.6,418.2 L514.9,418.2 L515.1,418.2 L515.3,418.1 L515.6,418.1 L515.8,418.1 L516.0,418.0 L516.3,418.0 L516.5,418.0 L516.7,418.0 L517.0,417.9 L517.2,417.9 L517.5,417.9 L517.7,417.9 L517.9,417.9 L518.2,417.8 L518.4,417.8 L518.6,417.8 L518.9,417.8 L519.1,417.8 L519.3,417.8 L519.6,417.8 L519.8,417.8 L520.0,417.8 L520.3,417.8 L520.5,417.8 L520.7,417.9 L521.0,417.9 L521.2,417.9 L521.4,418.0 L521.7,418.0 L521.9,418.1 L522.2,418.2 L522.4,418.2 L522.6,418.3 L522.9,418.4 L523.1,418.4 L523.3,418.5 L523.6,418.6 L523.8,418.7 L524.0,418.8 L524.3,418.9 L524.5,419.0 L524.7,419.1 L525.0,419.2 L525.2,419.3 L525.4,419.3 L525.7,419.4 L525.9,419.5 L526.1,419.6 L526.4,419.7 L526.6,419.8 L526.9,419.9 L527.1,420.0 L527.3,420.1 L527.6,420.2 L527.8,420.3 L528.0,420.3 L528.3,420.4 L528.5,420.5 L528.7,420.6 L529.0,420.7 L529.2,420.8 L529.4,420.8 L529.7,420.9 L529.9,421.0 L530.1,421.1 L530.4,421.2 L530.6,421.3 L530.8,421.4 L531.1,421.4 L531.3,421.5 L531.6,421.6 L531.8,421.7 L532.0,421.8 L532.3,421.9 L532.5,422.0 L532.7,422.1 L533.0,422.2 L533.2,422.3 L533.4,422.4 L533.7,422.4 L533.9,422.5 L534.1,422.6 L534.4,422.7 L534.6,422.8 L534.8,422.9 L535.1,423.0 L535.3,423.1 L535.5,423.1 L535.8,423.2 L536.0,423.3 L536.2,423.4 L536.5,423.5 L536.7,423.6 L537.0,423.8 L537.2,423.9 L537.4,424.0 L537.7,424.1 L537.9,424.2 L538.1,424.3 L538.4,424.4 L538.6,424.5 L538.8,424.7 L539.1,424.8 L539.3,424.9 L539.5,425.0 L539.8,425.1 L540.0,425.1 L540.2,425.2 L540.5,425.3 L540.7,425.4 L540.9,425.4 L541.2,425.5 L541.4,425.5 L541.7,425.6 L541.9,425.6 L542.1,425.6 L542.4,425.6 L542.6,425.6 L542.8,425.6 L543.1,425.6 L543.3,425.6 L543.5,425.6 L543.8,425.6 L544.0,425.5 L544.2,425.5 L544.5,425.5 L544.7,425.5 L544.9,425.5 L545.2,425.4 L545.4,425.4 L545.6,425.4 L545.9,425.4 L546.1,425.3 L546.4,425.3 L546.6,425.3 L546.8,425.2 L547.1,425.2 L547.3,425.2 L547.5,425.1 L547.8,425.1 L548.0,425.1 L548.2,425.0 L548.5,425.0 L548.7,424.9 L548.9,424.9 L549.2,424.8 L549.4,424.8 L549.6,424.7 L549.9,424.7 L550.1,424.6 L550.3,424.6 L550.6,424.5 L550.8,424.5 L551.1,424.4 L551.3,424.4 L551.5,424.3 L551.8,424.3 L552.0,424.2 L552.2,424.2 L552.5,424.1 L552.7,424.0 L552.9,423.9 L553.2,423.8 L553.4,423.7 L553.6,423.6 L553.9,423.5 L554.1,423.4 L554.3,423.3 L554.6,423.1 L554.8,423.0 L555.0,422.9 L555.3,422.8 L555.5,422.6 L555.8,422.5 L556.0,422.3 L556.2,422.2 L556.5,422.1 L556.7,421.9 L556.9,421.8 L557.2,421.6 L557.4,421.5 L557.6,421.4 L557.9,421.2 L558.1,421.1 L558.3,420.9 L558.6,420.8 L558.8,420.7 L559.0,420.5 L559.3,420.4 L559.5,420.2 L559.7,420.0 L560.0,419.8 L560.2,419.6 L560.4,419.4 L560.7,419.2 L560.9,419.0 L561.2,418.8 L561.4,418.7 L561.6,418.5 L561.9,418.3 L562.1,418.1 L562.3,418.0 L562.6,417.8 L562.8,417.7 L563.0,417.6 L563.3,417.5 L563.5,417.4 L563.7,417.3 L564.0,417.3 L564.2,417.3 L564.4,417.3 L564.7,417.3 L564.9,417.3 L565.1,417.4 L565.4,417.4 L565.6,417.5 L565.9,417.5 L566.1,417.6 L566.3,417.7 L566.6,417.8 L566.8,417.8 L567.0,417.9 L567.3,418.0 L567.5,418.1 L567.7,418.2 L568.0,418.4 L568.2,418.5 L568.4,418.6 L568.7,418.7 L568.9,418.8 L569.1,418.9 L569.4,419.1 L569.6,419.2 L569.8,419.3 L570.1,419.4 L570.3,419.5 L570.6,419.6 L570.8,419.8 L571.0,419.9 L571.3,420.1 L571.5,420.3 L571.7,420.5 L572.0,420.7 L572.2,420.9 L572.4,421.1 L572.7,421.3 L572.9,421.5 L573.1,421.7 L573.4,421.8 L573.6,422.0 L573.8,422.0 L574.1,422.1 L574.3,422.1 L574.5,422.1 L574.8,422.1 L575.0,422.1 L575.3,422.0 L575.5,422.0 L575.7,422.0 L576.0,421.9 L576.2,421.9 L576.4,421.8 L576.7,421.8 L576.9,421.7 L577.1,421.7 L577.4,421.6 L577.6,421.5 L577.8,421.3 L578.1,421.1 L578.3,420.8 L578.5,420.5 L578.8,420.1 L579.0,419.7 L579.2,419.3 L579.5,418.8 L579.7,418.3 L579.9,417.7 L580.2,417.2 L580.4,416.6 L580.7,416.1 L580.9,415.5 L581.1,415.0 L581.4,414.4 L581.6,413.9 L581.8,413.4 L582.1,412.9 L582.3,412.4 L582.5,411.9 L582.8,411.3 L583.0,410.8 L583.2,410.3 L583.5,409.7 L583.7,409.1 L583.9,408.6 L584.2,408.0 L584.4,407.4 L584.6,406.8 L584.9,406.2 L585.1,405.6 L585.4,405.0 L585.6,404.4 L585.8,403.7 L586.1,403.1 L586.3,402.4 L586.5,401.7 L586.8,401.0 L587.0,400.3 L587.2,399.6 L587.5,398.9 L587.7,398.1 L587.9,397.4 L588.2,396.6 L588.4,395.8 L588.6,395.1 L588.9,394.2 L589.1,393.3 L589.3,392.4 L589.6,391.4 L589.8,390.3 L590.1,389.3 L590.3,388.2 L590.5,387.1 L590.8,385.9 L591.0,384.8 L591.2,383.7 L591.5,382.6 L591.7,381.5 L591.9,380.4 L592.2,379.3 L592.4,378.3 L592.6,377.3 L592.9,376.4 L593.1,375.5 L593.3,374.5 L593.6,373.5 L593.8,372.4 L594.0,371.5 L594.3,370.5 L594.5,369.6 L594.8,368.8 L595.0,368.2 L595.2,367.6 L595.5,367.2 L595.7,366.9 L595.9,366.6 L596.2,366.3 L596.4,366.1 L596.6,365.9 L596.9,365.8 L597.1,365.6 L597.3,365.6 L597.6,365.6 L597.8,365.7 L598.0,365.8 L598.3,365.9 L598.5,366.1 L598.7,366.3 L599.0,366.6 L599.2,366.8 L599.5,367.1 L599.7,367.4 L599.9,367.6 L600.2,367.9 L600.4,368.3 L600.6,368.7 L600.9,369.2 L601.1,369.6 L601.3,370.2 L601.6,370.7 L601.8,371.3 L602.0,372.0 L602.3,372.6 L602.5,373.3 L602.7,373.9 L603.0,374.6 L603.2,375.3 L603.4,376.0 L603.7,376.7 L603.9,377.4 L604.1,378.1 L604.4,378.9 L604.6,379.7 L604.9,380.5 L605.1,381.3 L605.3,382.2 L605.6,383.0 L605.8,383.9 L606.0,384.9 L606.3,385.8 L606.5,386.8 L606.7,387.7 L607.0,388.7 L607.2,389.7 L607.4,390.7 L607.7,391.7 L607.9,392.8 L608.1,393.8 L608.4,394.8 L608.6,395.9 L608.8,397.0 L609.1,398.1 L609.3,399.3 L609.6,400.6 L609.8,401.9 L610.0,403.2 L610.3,404.5 L610.5,405.9 L610.7,407.2 L611.0,408.6 L611.2,409.9 L611.4,411.1 L611.7,412.3 L611.9,413.5 L612.1,414.6 L612.4,415.6 L612.6,416.6 L612.8,417.5 L613.1,418.5 L613.3,419.4 L613.5,420.4 L613.8,421.3 L614.0,422.2 L614.3,423.1 L614.5,424.0 L614.7,424.9 L615.0,425.7 L615.2,426.6 L615.4,427.4 L615.7,428.2 L615.9,428.9 L616.1,429.6 L616.4,430.3 L616.6,431.0 L616.8,431.6 L617.1,432.2 L617.3,432.7 L617.5,433.2 L617.8,433.6 L618.0,434.0 L618.2,434.4 L618.5,434.8 L618.7,435.1 L619.0,435.5 L619.2,435.8 L619.4,436.1 L619.7,436.5 L619.9,436.8 L620.1,437.1 L620.4,437.4 L620.6,437.6 L620.8,437.9 L621.1,438.1 L621.3,438.4 L621.5,438.6 L621.8,438.7 L622.0,438.9 L622.2,439.0 L622.5,439.1 L622.7,439.2 L622.9,439.3 L623.2,439.3 L623.4,439.3 L623.6,439.4 L623.9,439.4 L624.1,439.4 L624.4,439.4 L624.6,439.5 L624.8,439.5 L625.1,439.5 L625.3,439.5 L625.5,439.5 L625.8,439.6 L626.0,439.6 L626.2,439.6 L626.5,439.6 L626.7,439.6 L626.9,439.6 L627.2,439.6 L627.4,439.6 L627.6,439.6 L627.9,439.6 L628.1,439.6 L628.3,439.6 L628.6,439.6 L628.8,439.6 L629.1,439.6 L629.3,439.6 L629.5,439.6 L629.8,439.6 L630.0,439.6 L630.2,439.6 L630.5,439.6 L630.7,439.6 L630.9,439.6 L631.2,439.6 L631.4,439.6 L631.6,439.6 L631.9,439.6 L632.1,439.6 L632.3,439.6 L632.6,439.6 L632.8,439.6 L633.0,439.6 L633.3,439.6 L633.5,439.6 L633.8,439.6 L634.0,439.6 L634.2,439.6 L634.5,439.6 L634.7,439.6 L634.9,439.6 L635.2,439.6 L635.4,439.6 L635.6,439.6 L635.9,439.6 L636.1,439.6 L636.3,439.6 L636.6,439.6 L636.8,439.6 L637.0,439.6 L637.3,439.6 L637.5,439.6 L637.7,439.6 L638.0,439.6 L638.2,439.6 L638.5,439.6 L638.7,439.6 L638.9,439.6 L639.2,439.6 L639.4,439.6 L639.6,439.6 L639.9,439.6 L640.1,439.6 L640.3,439.6 L640.6,439.6 L640.8,439.6 L641.0,439.6 L641.3,439.6 L641.5,439.6 L641.7,439.6 L642.0,439.6 L642.2,439.6 L642.4,439.6 L642.7,439.6 L642.9,439.6 L643.2,439.6 L643.4,439.6 L643.6,439.6 L643.9,439.6 L644.1,439.6 L644.3,439.6 L644.6,439.6 L644.8,439.6 L645.0,439.6 L645.3,439.6 L645.5,439.6 L645.7,439.6 L646.0,439.6 L646.2,439.6 L646.4,439.6 L646.7,439.6 L646.9,439.6 L647.1,439.6 L647.4,439.6 L647.6,439.6 L647.8,439.6 L648.1,439.6 L648.3,439.6 L648.6,439.6 L648.8,439.6 L649.0,439.6 L649.3,439.6 L649.5,439.6 L649.7,439.6 L650.0,439.6 L650.2,439.6 L650.4,439.6 L650.7,439.6 L650.9,439.6 L651.1,439.6 L651.4,439.6 L651.6,439.6 L651.8,439.6 L652.1,439.6 L652.3,439.6 L652.5,439.6 L652.8,439.6 L653.0,439.6 L653.3,439.6 L653.5,439.6 L653.7,439.6 L654.0,439.6 L654.2,439.6 L654.4,439.6 L654.7,439.6 L654.9,439.6 L655.1,439.6 L655.4,439.6 L655.6,439.6 L655.8,439.6 L656.1,439.6 L656.3,439.6 L656.5,439.6 L656.8,439.6 L657.0,439.6 L657.2,439.6 L657.5,439.6 L657.7,439.6 L658.0,439.6 L658.2,439.6 L658.4,439.6 L658.7,439.6 L658.9,439.6 L659.1,439.6 L659.4,439.6 L659.6,439.6 L659.8,439.6 L660.1,439.6 L660.3,439.6 L660.5,439.6 L660.8,439.6 L661.0,439.6 L661.2,439.6 L661.5,439.6 L661.7,439.6 L661.9,439.6 L662.2,439.6 L662.4,439.6 L662.7,439.6 L662.9,439.6 L663.1,439.6 L663.4,439.6 L663.6,439.6 L663.8,439.6 L664.1,439.6 L664.3,439.6 L664.5,439.6 L664.8,439.6 L665.0,439.6" fill="none" stroke="#ecee4a" stroke-width="1.2"/>
<path d="M383.3,436.7 L383.5,436.5 L383.8,436.4 L384.0,436.2 L384.2,436.0 L384.5,435.7 L384.7,435.5 L384.9,435.2 L385.2,435.0 L385.4,434.7 L385.6,434.4 L385.9,434.2 L386.1,433.9 L386.4,433.6 L386.6,433.3 L386.8,433.0 L387.1,432.6 L387.3,432.3 L387.5,431.9 L387.8,431.5 L388.0,431.1 L388.2,430.7 L388.5,430.2 L388.7,429.8 L388.9,429.3 L389.2,428.7 L389.4,428.2 L389.6,427.6 L389.9,427.1 L390.1,426.4 L390.3,425.8 L390.6,425.0 L390.8,424.1 L391.1,423.2 L391.3,422.1 L391.5,420.9 L391.8,419.7 L392.0,418.4 L392.2,417.1 L392.5,415.6 L392.7,414.2 L392.9,412.6 L393.2,411.1 L393.4,409.5 L393.6,407.9 L393.9,406.3 L394.1,404.7 L394.3,403.0 L394.6,401.4 L394.8,399.8 L395.0,398.2 L395.3,396.6 L395.5,395.0 L395.8,393.3 L396.0,391.6 L396.2,389.8 L396.5,387.9 L396.7,386.0 L396.9,384.1 L397.2,382.2 L397.4,380.3 L397.6,378.4 L397.9,376.5 L398.1,374.6 L398.3,372.7 L398.6,370.9 L398.8,369.1 L399.0,367.4 L399.3,365.7 L399.5,363.9 L399.7,362.1 L400.0,360.3 L400.2,358.5 L400.5,356.7 L400.7,354.9 L400.9,353.1 L401.2,351.4 L401.4,349.6 L401.6,347.9 L401.9,346.2 L402.1,344.6 L402.3,343.0 L402.6,341.4 L402.8,339.9 L403.0,338.5 L403.3,337.1 L403.5,335.8 L403.7,334.4 L404.0,333.1 L404.2,331.9 L404.4,330.6 L404.7,329.4 L404.9,328.3 L405.1,327.1 L405.4,326.0 L405.6,324.9 L405.9,323.8 L406.1,322.8 L406.3,321.7 L406.6,320.7 L406.8,319.6 L407.0,318.5 L407.3,317.3 L407.5,316.2 L407.7,315.1 L408.0,314.0 L408.2,313.0 L408.4,312.2 L408.7,311.4 L408.9,310.7 L409.1,310.2 L409.4,309.5 L409.6,308.8 L409.8,308.1 L410.1,307.4 L410.3,306.8 L410.6,306.2 L410.8,305.6 L411.0,305.1 L411.3,304.7 L411.5,304.4 L411.7,304.2 L412.0,304.1 L412.2,304.0 L412.4,304.0 L412.7,304.1 L412.9,304.3 L413.1,304.4 L413.4,304.6 L413.6,304.8 L413.8,305.0 L414.1,305.1 L414.3,305.2 L414.5,305.2 L414.8,305.2 L415.0,305.2 L415.3,305.1 L415.5,305.0 L415.7,305.0 L416.0,304.9 L416.2,304.8 L416.4,304.7 L416.7,304.7 L416.9,304.6 L417.1,304.6 L417.4,304.5 L417.6,304.5 L417.8,304.6 L418.1,304.6 L418.3,304.7 L418.5,304.8 L418.8,305.0 L419.0,305.1 L419.2,305.4 L419.5,305.8 L419.7,306.3 L420.0,306.8 L420.2,307.5 L420.4,308.2 L420.7,309.0 L420.9,309.8 L421.1,310.7 L421.4,311.6 L421.6,312.5 L421.8,313.5 L422.1,314.4 L422.3,315.4 L422.5,316.3 L422.8,317.3 L423.0,318.2 L423.2,319.1 L423.5,320.0 L423.7,321.0 L423.9,322.0 L424.2,323.1 L424.4,324.3 L424.7,325.5 L424.9,326.8 L425.1,328.1 L425.4,329.6 L425.6,331.1 L425.8,332.8 L426.1,334.7 L426.3,336.6 L426.5,338.6 L426.8,340.7 L427.0,342.8 L427.2,344.9 L427.5,347.0 L427.7,349.2 L427.9,351.3 L428.2,353.5 L428.4,355.9 L428.6,358.2 L428.9,360.6 L429.1,362.9 L429.3,365.2 L429.6,367.4 L429.8,369.4 L430.1,371.3 L430.3,373.2 L430.5,375.0 L430.8,376.7 L431.0,378.4 L431.2,380.1 L431.5,381.8 L431.7,383.4 L431.9,385.0 L432.2,386.6 L432.4,388.2 L432.6,389.7 L432.9,391.3 L433.1,392.9 L433.3,394.5 L433.6,396.1 L433.8,397.7 L434.0,399.4 L434.3,401.2 L434.5,403.0 L434.8,404.9 L435.0,406.9 L435.2,408.9 L435.5,410.9 L435.7,412.9 L435.9,414.9 L436.2,416.8 L436.4,418.6 L436.6,420.3 L436.9,421.9 L437.1,423.4 L437.3,424.7 L437.6,425.8 L437.8,426.7 L438.0,427.6 L438.3,428.4 L438.5,429.2 L438.7,430.0 L439.0,430.7 L439.2,431.5 L439.5,432.2 L439.7,432.8 L439.9,433.4 L440.2,433.9 L440.4,434.4 L440.6,434.8 L440.9,435.2 L441.1,435.5 L441.3,435.7 L441.6,435.9 L441.8,436.0 L442.0,436.1 L442.3,436.2 L442.5,436.3 L442.7,436.4 L443.0,436.5 L443.2,436.5 L443.4,436.6 L443.7,436.7 L443.9,436.7 L444.2,436.8 L444.4,436.8 L444.6,436.9 L444.9,436.9 L445.1,437.0 L445.3,437.0 L445.6,437.0 L445.8,437.0 L446.0,437.0 L446.3,437.0 L446.5,437.0 L446.7,437.0 L447.0,437.0 L447.2,437.0 L447.4,437.0 L447.7,437.0 L447.9,437.0 L448.1,437.0 L448.4,437.0 L448.6,437.0 L448.8,437.0 L449.1,437.0 L449.3,437.0 L449.6,437.0 L449.8,437.0 L450.0,437.0 L450.3,437.0 L450.5,437.0 L450.7,437.0 L451.0,437.0 L451.2,437.0 L451.4,437.0 L451.7,437.0 L451.9,437.0 L452.1,437.0" fill="none" stroke="#a6dcef" stroke-width="1.3"/>
<path d="M383.3,436.7 L383.5,436.5 L383.8,436.3 L384.0,436.1 L384.2,435.9 L384.5,435.7 L384.7,435.4 L384.9,435.1 L385.2,434.8 L385.4,434.5 L385.6,434.2 L385.9,433.9 L386.1,433.5 L386.4,433.2 L386.6,432.8 L386.8,432.4 L387.1,432.0 L387.3,431.6 L387.5,431.1 L387.8,430.6 L388.0,430.1 L388.2,429.6 L388.5,429.1 L388.7,428.5 L388.9,427.9 L389.2,427.3 L389.4,426.6 L389.6,426.0 L389.9,425.3 L390.1,424.5 L390.3,423.8 L390.6,422.9 L390.8,421.9 L391.1,420.9 L391.3,419.7 L391.5,418.5 L391.8,417.3 L392.0,415.9 L392.2,414.5 L392.5,413.1 L392.7,411.6 L392.9,410.1 L393.2,408.5 L393.4,406.9 L393.6,405.3 L393.9,403.6 L394.1,402.0 L394.3,400.3 L394.6,398.7 L394.8,397.0 L395.0,395.4 L395.3,393.8 L395.5,392.1 L395.8,390.4 L396.0,388.6 L396.2,386.8 L396.5,384.9 L396.7,383.0 L396.9,381.1 L397.2,379.1 L397.4,377.1 L397.6,375.2 L397.9,373.2 L398.1,371.3 L398.3,369.4 L398.6,367.5 L398.8,365.6 L399.0,363.8 L399.3,362.0 L399.5,360.1 L399.7,358.3 L400.0,356.4 L400.2,354.6 L400.5,352.7 L400.7,350.9 L400.9,349.0 L401.2,347.2 L401.4,345.4 L401.6,343.7 L401.9,341.9 L402.1,340.2 L402.3,338.6 L402.6,337.0 L402.8,335.4 L403.0,333.9 L403.3,332.4 L403.5,331.0 L403.7,329.6 L404.0,328.2 L404.2,326.8 L404.4,325.5 L404.7,324.2 L404.9,322.9 L405.1,321.7 L405.4,320.4 L405.6,319.2 L405.9,318.0 L406.1,316.8 L406.3,315.7 L406.6,314.5 L406.8,313.3 L407.0,312.2 L407.3,311.0 L407.5,309.8 L407.7,308.7 L408.0,307.6 L408.2,306.6 L408.4,305.6 L408.7,304.8 L408.9,304.1 L409.1,303.6 L409.4,303.0 L409.6,302.4 L409.8,301.9 L410.1,301.3 L410.3,300.9 L410.6,300.4 L410.8,300.1 L411.0,299.8 L411.3,299.6 L411.5,299.5 L411.7,299.5 L412.0,299.6 L412.2,299.8 L412.4,300.1 L412.7,300.4 L412.9,300.7 L413.1,301.1 L413.4,301.5 L413.6,301.9 L413.8,302.4 L414.1,302.7 L414.3,303.1 L414.5,303.4 L414.8,303.7 L415.0,304.0 L415.3,304.2 L415.5,304.4 L415.7,304.7 L416.0,304.9 L416.2,305.1 L416.4,305.3 L416.7,305.5 L416.9,305.7 L417.1,305.9 L417.4,306.2 L417.6,306.4 L417.8,306.7 L418.1,307.0 L418.3,307.3 L418.5,307.6 L418.8,308.0 L419.0,308.4 L419.2,308.8 L419.5,309.4 L419.7,310.1 L420.0,310.8 L420.2,311.7 L420.4,312.5 L420.7,313.5 L420.9,314.5 L421.1,315.6 L421.4,316.6 L421.6,317.8 L421.8,318.9 L422.1,320.0 L422.3,321.2 L422.5,322.3 L422.8,323.5 L423.0,324.6 L423.2,325.7 L423.5,326.8 L423.7,328.0 L423.9,329.2 L424.2,330.4 L424.4,331.7 L424.7,333.0 L424.9,334.4 L425.1,335.8 L425.4,337.3 L425.6,338.9 L425.8,340.7 L426.1,342.5 L426.3,344.4 L426.5,346.4 L426.8,348.4 L427.0,350.5 L427.2,352.5 L427.5,354.6 L427.7,356.6 L427.9,358.7 L428.2,360.9 L428.4,363.1 L428.6,365.3 L428.9,367.6 L429.1,369.8 L429.3,372.0 L429.6,374.1 L429.8,376.1 L430.1,377.9 L430.3,379.7 L430.5,381.4 L430.8,383.1 L431.0,384.7 L431.2,386.3 L431.5,387.9 L431.7,389.4 L431.9,390.9 L432.2,392.4 L432.4,393.9 L432.6,395.4 L432.9,396.8 L433.1,398.3 L433.3,399.8 L433.6,401.3 L433.8,402.8 L434.0,404.3 L434.3,405.9 L434.5,407.5 L434.8,409.2 L435.0,410.9 L435.2,412.7 L435.5,414.4 L435.7,416.2 L435.9,417.9 L436.2,419.5 L436.4,421.1 L436.6,422.6 L436.9,424.0 L437.1,425.2 L437.3,426.4 L437.6,427.3 L437.8,428.1 L438.0,428.9 L438.3,429.6 L438.5,430.3 L438.7,431.0 L439.0,431.6 L439.2,432.3 L439.5,432.9 L439.7,433.4 L439.9,433.9 L440.2,434.4 L440.4,434.8 L440.6,435.2 L440.9,435.5 L441.1,435.7 L441.3,435.9 L441.6,436.0 L441.8,436.1 L442.0,436.2 L442.3,436.3 L442.5,436.4 L442.7,436.5 L443.0,436.5 L443.2,436.6 L443.4,436.7 L443.7,436.7 L443.9,436.8 L444.2,436.8 L444.4,436.9 L444.6,436.9 L444.9,436.9 L445.1,437.0 L445.3,437.0 L445.6,437.0 L445.8,437.0 L446.0,437.0 L446.3,437.0 L446.5,437.0 L446.7,437.0 L447.0,437.0 L447.2,437.0 L447.4,437.0 L447.7,437.0 L447.9,437.0 L448.1,437.0 L448.4,437.0 L448.6,437.0 L448.8,437.0 L449.1,437.0 L449.3,437.0 L449.6,437.0 L449.8,437.0 L450.0,437.0 L450.3,437.0 L450.5,437.0 L450.7,437.0 L451.0,437.0 L451.2,437.0 L451.4,437.0 L451.7,437.0 L451.9,437.0 L452.1,437.0" fill="none" stroke="#3cb1da" stroke-width="1.3"/>
<path d="M383.3,436.7 L383.5,436.5 L383.8,436.3 L384.0,436.1 L384.2,435.9 L384.5,435.6 L384.7,435.3 L384.9,435.0 L385.2,434.7 L385.4,434.3 L385.6,434.0 L385.9,433.6 L386.1,433.2 L386.4,432.7 L386.6,432.3 L386.8,431.8 L387.1,431.3 L387.3,430.7 L387.5,430.2 L387.8,429.6 L388.0,429.0 L388.2,428.4 L388.5,427.7 L388.7,427.1 L388.9,426.4 L389.2,425.6 L389.4,424.9 L389.6,424.1 L389.9,423.3 L390.1,422.4 L390.3,421.5 L390.6,420.5 L390.8,419.5 L391.1,418.3 L391.3,417.1 L391.5,415.9 L391.8,414.5 L392.0,413.2 L392.2,411.7 L392.5,410.2 L392.7,408.7 L392.9,407.2 L393.2,405.6 L393.4,404.0 L393.6,402.4 L393.9,400.7 L394.1,399.0 L394.3,397.3 L394.6,395.7 L394.8,394.0 L395.0,392.3 L395.3,390.6 L395.5,388.9 L395.8,387.1 L396.0,385.3 L396.2,383.4 L396.5,381.5 L396.7,379.6 L396.9,377.6 L397.2,375.6 L397.4,373.6 L397.6,371.6 L397.9,369.6 L398.1,367.6 L398.3,365.6 L398.6,363.6 L398.8,361.7 L399.0,359.8 L399.3,357.8 L399.5,355.9 L399.7,354.0 L400.0,352.1 L400.2,350.1 L400.5,348.2 L400.7,346.3 L400.9,344.5 L401.2,342.6 L401.4,340.8 L401.6,338.9 L401.9,337.1 L402.1,335.4 L402.3,333.7 L402.6,332.0 L402.8,330.3 L403.0,328.7 L403.3,327.2 L403.5,325.7 L403.7,324.2 L404.0,322.7 L404.2,321.2 L404.4,319.8 L404.7,318.4 L404.9,317.0 L405.1,315.6 L405.4,314.2 L405.6,312.8 L405.9,311.5 L406.1,310.2 L406.3,308.9 L406.6,307.6 L406.8,306.4 L407.0,305.1 L407.3,303.8 L407.5,302.6 L407.7,301.5 L408.0,300.4 L408.2,299.3 L408.4,298.4 L408.7,297.5 L408.9,296.8 L409.1,296.2 L409.4,295.7 L409.6,295.2 L409.8,294.8 L410.1,294.5 L410.3,294.3 L410.6,294.1 L410.8,293.9 L411.0,293.9 L411.3,293.9 L411.5,294.0 L411.7,294.3 L412.0,294.6 L412.2,295.1 L412.4,295.6 L412.7,296.2 L412.9,296.8 L413.1,297.4 L413.4,298.1 L413.6,298.8 L413.8,299.4 L414.1,300.1 L414.3,300.8 L414.5,301.4 L414.8,302.0 L415.0,302.6 L415.3,303.2 L415.5,303.8 L415.7,304.3 L416.0,304.9 L416.2,305.4 L416.4,305.9 L416.7,306.4 L416.9,306.9 L417.1,307.5 L417.4,308.0 L417.6,308.5 L417.8,309.0 L418.1,309.6 L418.3,310.1 L418.5,310.7 L418.8,311.3 L419.0,311.9 L419.2,312.7 L419.5,313.4 L419.7,314.3 L420.0,315.3 L420.2,316.3 L420.4,317.4 L420.7,318.5 L420.9,319.7 L421.1,321.0 L421.4,322.3 L421.6,323.6 L421.8,325.0 L422.1,326.3 L422.3,327.7 L422.5,329.1 L422.8,330.4 L423.0,331.7 L423.2,333.1 L423.5,334.4 L423.7,335.8 L423.9,337.1 L424.2,338.5 L424.4,340.0 L424.7,341.4 L424.9,342.9 L425.1,344.4 L425.4,346.0 L425.6,347.7 L425.8,349.4 L426.1,351.3 L426.3,353.2 L426.5,355.1 L426.8,357.1 L427.0,359.1 L427.2,361.1 L427.5,363.0 L427.7,365.0 L427.9,367.0 L428.2,369.1 L428.4,371.2 L428.6,373.3 L428.9,375.4 L429.1,377.5 L429.3,379.6 L429.6,381.6 L429.8,383.5 L430.1,385.3 L430.3,387.0 L430.5,388.6 L430.8,390.2 L431.0,391.8 L431.2,393.3 L431.5,394.7 L431.7,396.1 L431.9,397.5 L432.2,398.9 L432.4,400.3 L432.6,401.6 L432.9,403.0 L433.1,404.3 L433.3,405.7 L433.6,407.0 L433.8,408.4 L434.0,409.7 L434.3,411.1 L434.5,412.5 L434.8,414.0 L435.0,415.5 L435.2,416.9 L435.5,418.4 L435.7,419.8 L435.9,421.2 L436.2,422.6 L436.4,423.9 L436.6,425.1 L436.9,426.3 L437.1,427.3 L437.3,428.3 L437.6,429.1 L437.8,429.8 L438.0,430.4 L438.3,431.0 L438.5,431.6 L438.7,432.1 L439.0,432.7 L439.2,433.2 L439.5,433.6 L439.7,434.1 L439.9,434.5 L440.2,434.9 L440.4,435.2 L440.6,435.5 L440.9,435.8 L441.1,436.0 L441.3,436.1 L441.6,436.2 L441.8,436.3 L442.0,436.4 L442.3,436.4 L442.5,436.5 L442.7,436.6 L443.0,436.6 L443.2,436.7 L443.4,436.7 L443.7,436.8 L443.9,436.8 L444.2,436.9 L444.4,436.9 L444.6,436.9 L444.9,436.9 L445.1,437.0 L445.3,437.0 L445.6,437.0 L445.8,437.0 L446.0,437.0 L446.3,437.0 L446.5,437.0 L446.7,437.0 L447.0,437.0 L447.2,437.0 L447.4,437.0 L447.7,437.0 L447.9,437.0 L448.1,437.0 L448.4,437.0 L448.6,437.0 L448.8,437.0 L449.1,437.0 L449.3,437.0 L449.6,437.0 L449.8,437.0 L450.0,437.0 L450.3,437.0 L450.5,437.0 L450.7,437.0 L451.0,437.0 L451.2,437.0 L451.4,437.0 L451.7,437.0 L451.9,437.0 L452.1,437.0" fill="none" stroke="#eaa3c5" stroke-width="1.3"/>
<path d="M383.3,436.7 L383.5,436.5 L383.8,436.3 L384.0,436.1 L384.2,435.8 L384.5,435.5 L384.7,435.2 L384.9,434.9 L385.2,434.5 L385.4,434.2 L385.6,433.7 L385.9,433.3 L386.1,432.8 L386.4,432.3 L386.6,431.8 L386.8,431.2 L387.1,430.6 L387.3,430.0 L387.5,429.4 L387.8,428.7 L388.0,428.0 L388.2,427.3 L388.5,426.6 L388.7,425.8 L388.9,425.0 L389.2,424.2 L389.4,423.3 L389.6,422.4 L389.9,421.5 L390.1,420.5 L390.3,419.5 L390.6,418.4 L390.8,417.3 L391.1,416.1 L391.3,414.8 L391.5,413.5 L391.8,412.1 L392.0,410.7 L392.2,409.2 L392.5,407.7 L392.7,406.2 L392.9,404.6 L393.2,403.0 L393.4,401.4 L393.6,399.7 L393.9,398.1 L394.1,396.4 L394.3,394.7 L394.6,392.9 L394.8,391.2 L395.0,389.5 L395.3,387.8 L395.5,386.0 L395.8,384.2 L396.0,382.3 L396.2,380.4 L396.5,378.5 L396.7,376.5 L396.9,374.6 L397.2,372.6 L397.4,370.5 L397.6,368.5 L397.9,366.4 L398.1,364.3 L398.3,362.3 L398.6,360.2 L398.8,358.2 L399.0,356.2 L399.3,354.2 L399.5,352.1 L399.7,350.1 L400.0,348.2 L400.2,346.2 L400.5,344.2 L400.7,342.3 L400.9,340.4 L401.2,338.5 L401.4,336.6 L401.6,334.7 L401.9,332.9 L402.1,331.0 L402.3,329.3 L402.6,327.5 L402.8,325.8 L403.0,324.1 L403.3,322.5 L403.5,320.9 L403.7,319.3 L404.0,317.7 L404.2,316.2 L404.4,314.7 L404.7,313.1 L404.9,311.6 L405.1,310.1 L405.4,308.6 L405.6,307.1 L405.9,305.7 L406.1,304.3 L406.3,302.8 L406.6,301.5 L406.8,300.1 L407.0,298.8 L407.3,297.5 L407.5,296.2 L407.7,295.0 L408.0,293.9 L408.2,292.9 L408.4,291.9 L408.7,291.0 L408.9,290.2 L409.1,289.6 L409.4,289.1 L409.6,288.8 L409.8,288.6 L410.1,288.4 L410.3,288.3 L410.6,288.3 L410.8,288.4 L411.0,288.5 L411.3,288.7 L411.5,289.1 L411.7,289.5 L412.0,290.1 L412.2,290.8 L412.4,291.6 L412.7,292.4 L412.9,293.2 L413.1,294.1 L413.4,295.0 L413.6,295.9 L413.8,296.8 L414.1,297.8 L414.3,298.7 L414.5,299.6 L414.8,300.5 L415.0,301.4 L415.3,302.3 L415.5,303.2 L415.7,304.0 L416.0,304.9 L416.2,305.7 L416.4,306.5 L416.7,307.3 L416.9,308.1 L417.1,308.8 L417.4,309.6 L417.6,310.3 L417.8,311.1 L418.1,311.9 L418.3,312.7 L418.5,313.5 L418.8,314.3 L419.0,315.2 L419.2,316.1 L419.5,317.1 L419.7,318.1 L420.0,319.3 L420.2,320.5 L420.4,321.7 L420.7,323.0 L420.9,324.4 L421.1,325.9 L421.4,327.3 L421.6,328.9 L421.8,330.4 L422.1,331.9 L422.3,333.5 L422.5,335.1 L422.8,336.6 L423.0,338.1 L423.2,339.7 L423.5,341.2 L423.7,342.7 L423.9,344.3 L424.2,345.8 L424.4,347.4 L424.7,348.9 L424.9,350.5 L425.1,352.1 L425.4,353.8 L425.6,355.5 L425.8,357.3 L426.1,359.1 L426.3,361.0 L426.5,362.9 L426.8,364.8 L427.0,366.8 L427.2,368.7 L427.5,370.6 L427.7,372.5 L427.9,374.4 L428.2,376.4 L428.4,378.4 L428.6,380.4 L428.9,382.4 L429.1,384.5 L429.3,386.4 L429.6,388.3 L429.8,390.1 L430.1,391.8 L430.3,393.5 L430.5,395.1 L430.8,396.6 L431.0,398.1 L431.2,399.5 L431.5,400.8 L431.7,402.1 L431.9,403.4 L432.2,404.7 L432.4,406.0 L432.6,407.3 L432.9,408.5 L433.1,409.7 L433.3,411.0 L433.6,412.2 L433.8,413.4 L434.0,414.6 L434.3,415.8 L434.5,417.0 L434.8,418.3 L435.0,419.5 L435.2,420.7 L435.5,421.9 L435.7,423.1 L435.9,424.2 L436.2,425.3 L436.4,426.4 L436.6,427.4 L436.9,428.3 L437.1,429.2 L437.3,430.0 L437.6,430.6 L437.8,431.2 L438.0,431.7 L438.3,432.2 L438.5,432.7 L438.7,433.1 L439.0,433.6 L439.2,434.0 L439.5,434.3 L439.7,434.7 L439.9,435.0 L440.2,435.3 L440.4,435.6 L440.6,435.8 L440.9,436.0 L441.1,436.2 L441.3,436.3 L441.6,436.4 L441.8,436.4 L442.0,436.5 L442.3,436.5 L442.5,436.6 L442.7,436.7 L443.0,436.7 L443.2,436.7 L443.4,436.8 L443.7,436.8 L443.9,436.9 L444.2,436.9 L444.4,436.9 L444.6,436.9 L444.9,437.0 L445.1,437.0 L445.3,437.0 L445.6,437.0 L445.8,437.0 L446.0,437.0 L446.3,437.0 L446.5,437.0 L446.7,437.0 L447.0,437.0 L447.2,437.0 L447.4,437.0 L447.7,437.0 L447.9,437.0 L448.1,437.0 L448.4,437.0 L448.6,437.0 L448.8,437.0 L449.1,437.0 L449.3,437.0 L449.6,437.0 L449.8,437.0 L450.0,437.0 L450.3,437.0 L450.5,437.0 L450.7,437.0 L451.0,437.0 L451.2,437.0 L451.4,437.0 L451.7,437.0 L451.9,437.0 L452.1,437.0" fill="none" stroke="#eab3cb" stroke-width="1.3"/>
<path d="M383.3,436.7 L383.5,436.5 L383.8,436.3 L384.0,436.1 L384.2,435.8 L384.5,435.5 L384.7,435.1 L384.9,434.7 L385.2,434.4 L385.4,433.9 L385.6,433.5 L385.9,433.0 L386.1,432.4 L386.4,431.8 L386.6,431.2 L386.8,430.5 L387.1,429.8 L387.3,429.1 L387.5,428.3 L387.8,427.6 L388.0,426.8 L388.2,426.0 L388.5,425.1 L388.7,424.2 L388.9,423.3 L389.2,422.3 L389.4,421.3 L389.6,420.3 L389.9,419.2 L390.1,418.1 L390.3,417.0 L390.6,415.8 L390.8,414.6 L391.1,413.2 L391.3,411.9 L391.5,410.5 L391.8,409.1 L392.0,407.6 L392.2,406.1 L392.5,404.5 L392.7,403.0 L392.9,401.4 L393.2,399.8 L393.4,398.2 L393.6,396.5 L393.9,394.8 L394.1,393.1 L394.3,391.4 L394.6,389.6 L394.8,387.8 L395.0,386.0 L395.3,384.2 L395.5,382.4 L395.8,380.5 L396.0,378.6 L396.2,376.7 L396.5,374.8 L396.7,372.8 L396.9,370.8 L397.2,368.7 L397.4,366.6 L397.6,364.5 L397.9,362.4 L398.1,360.3 L398.3,358.1 L398.6,356.0 L398.8,353.8 L399.0,351.7 L399.3,349.6 L399.5,347.5 L399.7,345.4 L400.0,343.3 L400.2,341.3 L400.5,339.3 L400.7,337.3 L400.9,335.3 L401.2,333.3 L401.4,331.4 L401.6,329.5 L401.9,327.6 L402.1,325.7 L402.3,323.8 L402.6,322.0 L402.8,320.2 L403.0,318.4 L403.3,316.7 L403.5,315.0 L403.7,313.3 L404.0,311.6 L404.2,310.0 L404.4,308.3 L404.7,306.7 L404.9,305.0 L405.1,303.4 L405.4,301.7 L405.6,300.1 L405.9,298.5 L406.1,296.9 L406.3,295.4 L406.6,293.9 L406.8,292.4 L407.0,291.0 L407.3,289.6 L407.5,288.3 L407.7,287.1 L408.0,286.0 L408.2,284.9 L408.4,283.8 L408.7,282.9 L408.9,282.1 L409.1,281.4 L409.4,281.0 L409.6,280.9 L409.8,280.8 L410.1,280.9 L410.3,281.0 L410.6,281.3 L410.8,281.6 L411.0,282.0 L411.3,282.4 L411.5,283.0 L411.7,283.7 L412.0,284.6 L412.2,285.6 L412.4,286.7 L412.7,287.8 L412.9,288.9 L413.1,290.0 L413.4,291.2 L413.6,292.4 L413.8,293.6 L414.1,294.9 L414.3,296.2 L414.5,297.4 L414.8,298.7 L415.0,299.9 L415.3,301.2 L415.5,302.4 L415.7,303.6 L416.0,304.9 L416.2,306.0 L416.4,307.2 L416.7,308.3 L416.9,309.4 L417.1,310.5 L417.4,311.6 L417.6,312.6 L417.8,313.7 L418.1,314.8 L418.3,315.8 L418.5,316.9 L418.8,318.0 L419.0,319.1 L419.2,320.3 L419.5,321.5 L419.7,322.8 L420.0,324.2 L420.2,325.6 L420.4,327.1 L420.7,328.6 L420.9,330.2 L421.1,331.9 L421.4,333.6 L421.6,335.3 L421.8,337.1 L422.1,338.9 L422.3,340.7 L422.5,342.5 L422.8,344.3 L423.0,346.1 L423.2,347.8 L423.5,349.6 L423.7,351.3 L423.9,353.1 L424.2,354.8 L424.4,356.5 L424.7,358.2 L424.9,360.0 L425.1,361.7 L425.4,363.4 L425.6,365.2 L425.8,367.0 L426.1,368.8 L426.3,370.7 L426.5,372.5 L426.8,374.4 L427.0,376.3 L427.2,378.1 L427.5,380.0 L427.7,381.8 L427.9,383.6 L428.2,385.4 L428.4,387.3 L428.6,389.2 L428.9,391.1 L429.1,393.0 L429.3,394.8 L429.6,396.6 L429.8,398.3 L430.1,399.9 L430.3,401.5 L430.5,403.0 L430.8,404.5 L431.0,405.8 L431.2,407.1 L431.5,408.4 L431.7,409.6 L431.9,410.7 L432.2,411.9 L432.4,413.1 L432.6,414.2 L432.9,415.3 L433.1,416.4 L433.3,417.5 L433.6,418.6 L433.8,419.6 L434.0,420.6 L434.3,421.6 L434.5,422.6 L434.8,423.6 L435.0,424.5 L435.2,425.4 L435.5,426.3 L435.7,427.1 L435.9,427.9 L436.2,428.7 L436.4,429.5 L436.6,430.2 L436.9,430.9 L437.1,431.5 L437.3,432.1 L437.6,432.6 L437.8,433.0 L438.0,433.3 L438.3,433.7 L438.5,434.0 L438.7,434.4 L439.0,434.7 L439.2,435.0 L439.5,435.2 L439.7,435.5 L439.9,435.7 L440.2,435.9 L440.4,436.1 L440.6,436.2 L440.9,436.3 L441.1,436.4 L441.3,436.5 L441.6,436.6 L441.8,436.6 L442.0,436.7 L442.3,436.7 L442.5,436.7 L442.7,436.8 L443.0,436.8 L443.2,436.8 L443.4,436.9 L443.7,436.9 L443.9,436.9 L444.2,436.9 L444.4,436.9 L444.6,437.0 L444.9,437.0 L445.1,437.0 L445.3,437.0 L445.6,437.0 L445.8,437.0 L446.0,437.0 L446.3,437.0 L446.5,437.0 L446.7,437.0 L447.0,437.0 L447.2,437.0 L447.4,437.0 L447.7,437.0 L447.9,437.0 L448.1,437.0 L448.4,437.0 L448.6,437.0 L448.8,437.0 L449.1,437.0 L449.3,437.0 L449.6,437.0 L449.8,437.0 L450.0,437.0 L450.3,437.0 L450.5,437.0 L450.7,437.0 L451.0,437.0 L451.2,437.0 L451.4,437.0 L451.7,437.0 L451.9,437.0 L452.1,437.0" fill="none" stroke="#dc4d63" stroke-width="1.3"/>
<path d="M383.3,436.7 L383.5,436.5 L383.8,436.3 L384.0,436.0 L384.2,435.7 L384.5,435.4 L384.7,435.0 L384.9,434.6 L385.2,434.2 L385.4,433.7 L385.6,433.2 L385.9,432.6 L386.1,432.0 L386.4,431.3 L386.6,430.5 L386.8,429.8 L387.1,429.0 L387.3,428.1 L387.5,427.3 L387.8,426.4 L388.0,425.5 L388.2,424.6 L388.5,423.6 L388.7,422.6 L388.9,421.5 L389.2,420.4 L389.4,419.3 L389.6,418.1 L389.9,416.9 L390.1,415.7 L390.3,414.4 L390.6,413.1 L390.8,411.7 L391.1,410.3 L391.3,408.9 L391.5,407.4 L391.8,405.9 L392.0,404.4 L392.2,402.8 L392.5,401.2 L392.7,399.7 L392.9,398.1 L393.2,396.5 L393.4,394.8 L393.6,393.1 L393.9,391.4 L394.1,389.7 L394.3,387.9 L394.6,386.1 L394.8,384.3 L395.0,382.4 L395.3,380.6 L395.5,378.7 L395.8,376.8 L396.0,374.8 L396.2,372.8 L396.5,370.8 L396.7,368.8 L396.9,366.8 L397.2,364.7 L397.4,362.6 L397.6,360.4 L397.9,358.2 L398.1,356.0 L398.3,353.8 L398.6,351.5 L398.8,349.3 L399.0,347.0 L399.3,344.8 L399.5,342.6 L399.7,340.4 L400.0,338.3 L400.2,336.2 L400.5,334.1 L400.7,332.0 L400.9,330.0 L401.2,328.0 L401.4,326.0 L401.6,324.0 L401.9,322.0 L402.1,320.1 L402.3,318.1 L402.6,316.2 L402.8,314.3 L403.0,312.5 L403.3,310.6 L403.5,308.8 L403.7,307.0 L404.0,305.2 L404.2,303.5 L404.4,301.7 L404.7,299.9 L404.9,298.1 L405.1,296.3 L405.4,294.5 L405.6,292.7 L405.9,291.0 L406.1,289.2 L406.3,287.5 L406.6,285.9 L406.8,284.3 L407.0,282.8 L407.3,281.4 L407.5,280.0 L407.7,278.8 L408.0,277.6 L408.2,276.5 L408.4,275.4 L408.7,274.4 L408.9,273.5 L409.1,272.9 L409.4,272.6 L409.6,272.5 L409.8,272.7 L410.1,273.0 L410.3,273.4 L410.6,273.9 L410.8,274.5 L411.0,275.1 L411.3,275.7 L411.5,276.6 L411.7,277.6 L412.0,278.8 L412.2,280.1 L412.4,281.5 L412.7,282.9 L412.9,284.3 L413.1,285.7 L413.4,287.2 L413.6,288.7 L413.8,290.3 L414.1,291.9 L414.3,293.5 L414.5,295.1 L414.8,296.7 L415.0,298.4 L415.3,300.0 L415.5,301.6 L415.7,303.3 L416.0,304.8 L416.2,306.4 L416.4,307.9 L416.7,309.4 L416.9,310.9 L417.1,312.3 L417.4,313.7 L417.6,315.0 L417.8,316.4 L418.1,317.8 L418.3,319.1 L418.5,320.5 L418.8,321.9 L419.0,323.3 L419.2,324.7 L419.5,326.2 L419.7,327.7 L420.0,329.3 L420.2,331.0 L420.4,332.7 L420.7,334.5 L420.9,336.3 L421.1,338.2 L421.4,340.1 L421.6,342.1 L421.8,344.1 L422.1,346.1 L422.3,348.2 L422.5,350.2 L422.8,352.3 L423.0,354.3 L423.2,356.4 L423.5,358.4 L423.7,360.4 L423.9,362.3 L424.2,364.2 L424.4,366.1 L424.7,368.0 L424.9,369.8 L425.1,371.6 L425.4,373.5 L425.6,375.3 L425.8,377.1 L426.1,379.0 L426.3,380.8 L426.5,382.6 L426.8,384.4 L427.0,386.2 L427.2,388.0 L427.5,389.7 L427.7,391.5 L427.9,393.2 L428.2,394.9 L428.4,396.7 L428.6,398.4 L428.9,400.2 L429.1,401.9 L429.3,403.6 L429.6,405.3 L429.8,406.9 L430.1,408.4 L430.3,409.9 L430.5,411.3 L430.8,412.7 L431.0,414.0 L431.2,415.2 L431.5,416.3 L431.7,417.4 L431.9,418.4 L432.2,419.4 L432.4,420.5 L432.6,421.5 L432.9,422.5 L433.1,423.4 L433.3,424.3 L433.6,425.2 L433.8,426.1 L434.0,426.9 L434.3,427.7 L434.5,428.4 L434.8,429.1 L435.0,429.7 L435.2,430.3 L435.5,430.8 L435.7,431.3 L435.9,431.8 L436.2,432.3 L436.4,432.7 L436.6,433.2 L436.9,433.6 L437.1,433.9 L437.3,434.3 L437.6,434.6 L437.8,434.8 L438.0,435.1 L438.3,435.3 L438.5,435.5 L438.7,435.7 L439.0,435.8 L439.2,436.0 L439.5,436.1 L439.7,436.2 L439.9,436.4 L440.2,436.5 L440.4,436.5 L440.6,436.6 L440.9,436.7 L441.1,436.7 L441.3,436.8 L441.6,436.8 L441.8,436.8 L442.0,436.8 L442.3,436.9 L442.5,436.9 L442.7,436.9 L443.0,436.9 L443.2,436.9 L443.4,436.9 L443.7,436.9 L443.9,437.0 L444.2,437.0 L444.4,437.0 L444.6,437.0 L444.9,437.0 L445.1,437.0 L445.3,437.0 L445.6,437.0 L445.8,437.0 L446.0,437.0 L446.3,437.0 L446.5,437.0 L446.7,437.0 L447.0,437.0 L447.2,437.0 L447.4,437.0 L447.7,437.0 L447.9,437.0 L448.1,437.0 L448.4,437.0 L448.6,437.0 L448.8,437.0 L449.1,437.0 L449.3,437.0 L449.6,437.0 L449.8,437.0 L450.0,437.0 L450.3,437.0 L450.5,437.0 L450.7,437.0 L451.0,437.0 L451.2,437.0 L451.4,437.0 L451.7,437.0 L451.9,437.0 L452.1,437.0" fill="none" stroke="#a9d98f" stroke-width="1.3"/>
<path d="M383.3,436.7 L383.5,436.5 L383.8,436.3 L384.0,436.0 L384.2,435.7 L384.5,435.3 L384.7,434.9 L384.9,434.5 L385.2,434.0 L385.4,433.5 L385.6,432.9 L385.9,432.3 L386.1,431.5 L386.4,430.8 L386.6,429.9 L386.8,429.1 L387.1,428.2 L387.3,427.2 L387.5,426.3 L387.8,425.3 L388.0,424.3 L388.2,423.3 L388.5,422.2 L388.7,421.0 L388.9,419.9 L389.2,418.6 L389.4,417.4 L389.6,416.1 L389.9,414.7 L390.1,413.3 L390.3,411.9 L390.6,410.5 L390.8,409.0 L391.1,407.5 L391.3,406.0 L391.5,404.4 L391.8,402.9 L392.0,401.3 L392.2,399.7 L392.5,398.1 L392.7,396.5 L392.9,394.9 L393.2,393.3 L393.4,391.6 L393.6,389.9 L393.9,388.2 L394.1,386.4 L394.3,384.6 L394.6,382.7 L394.8,380.9 L395.0,379.0 L395.3,377.0 L395.5,375.1 L395.8,373.1 L396.0,371.1 L396.2,369.1 L396.5,367.1 L396.7,365.1 L396.9,363.0 L397.2,360.9 L397.4,358.7 L397.6,356.5 L397.9,354.2 L398.1,351.9 L398.3,349.6 L398.6,347.3 L398.8,344.9 L399.0,342.6 L399.3,340.3 L399.5,338.0 L399.7,335.7 L400.0,333.5 L400.2,331.3 L400.5,329.1 L400.7,327.0 L400.9,325.0 L401.2,322.9 L401.4,320.8 L401.6,318.8 L401.9,316.7 L402.1,314.7 L402.3,312.7 L402.6,310.7 L402.8,308.7 L403.0,306.8 L403.3,304.9 L403.5,302.9 L403.7,301.0 L404.0,299.2 L404.2,297.3 L404.4,295.4 L404.7,293.5 L404.9,291.5 L405.1,289.6 L405.4,287.6 L405.6,285.7 L405.9,283.8 L406.1,281.9 L406.3,280.1 L406.6,278.3 L406.8,276.6 L407.0,275.0 L407.3,273.5 L407.5,272.1 L407.7,270.8 L408.0,269.7 L408.2,268.5 L408.4,267.4 L408.7,266.3 L408.9,265.4 L409.1,264.8 L409.4,264.5 L409.6,264.6 L409.8,264.9 L410.1,265.4 L410.3,266.1 L410.6,266.8 L410.8,267.6 L411.0,268.5 L411.3,269.4 L411.5,270.5 L411.7,271.8 L412.0,273.3 L412.2,274.9 L412.4,276.6 L412.7,278.3 L412.9,280.0 L413.1,281.6 L413.4,283.4 L413.6,285.2 L413.8,287.1 L414.1,289.0 L414.3,290.9 L414.5,292.9 L414.8,294.9 L415.0,296.9 L415.3,298.9 L415.5,300.9 L415.7,302.9 L416.0,304.8 L416.2,306.8 L416.4,308.6 L416.7,310.5 L416.9,312.2 L417.1,314.0 L417.4,315.7 L417.6,317.3 L417.8,319.0 L418.1,320.6 L418.3,322.3 L418.5,323.9 L418.8,325.6 L419.0,327.3 L419.2,329.0 L419.5,330.7 L419.7,332.4 L420.0,334.3 L420.2,336.1 L420.4,338.0 L420.7,340.0 L420.9,342.1 L421.1,344.2 L421.4,346.4 L421.6,348.6 L421.8,350.8 L422.1,353.1 L422.3,355.4 L422.5,357.7 L422.8,360.0 L423.0,362.2 L423.2,364.5 L423.5,366.8 L423.7,369.0 L423.9,371.1 L424.2,373.2 L424.4,375.3 L424.7,377.3 L424.9,379.2 L425.1,381.2 L425.4,383.1 L425.6,385.0 L425.8,386.8 L426.1,388.7 L426.3,390.5 L426.5,392.3 L426.8,394.0 L427.0,395.7 L427.2,397.4 L427.5,399.1 L427.7,400.7 L427.9,402.3 L428.2,404.0 L428.4,405.6 L428.6,407.2 L428.9,408.8 L429.1,410.5 L429.3,412.0 L429.6,413.6 L429.8,415.1 L430.1,416.6 L430.3,418.0 L430.5,419.3 L430.8,420.6 L431.0,421.8 L431.2,422.8 L431.5,423.8 L431.7,424.8 L431.9,425.7 L432.2,426.6 L432.4,427.5 L432.6,428.4 L432.9,429.3 L433.1,430.1 L433.3,430.9 L433.6,431.6 L433.8,432.3 L434.0,432.9 L434.3,433.5 L434.5,434.0 L434.8,434.4 L435.0,434.7 L435.2,435.0 L435.5,435.2 L435.7,435.3 L435.9,435.5 L436.2,435.7 L436.4,435.8 L436.6,436.0 L436.9,436.1 L437.1,436.3 L437.3,436.4 L437.6,436.5 L437.8,436.6 L438.0,436.7 L438.3,436.8 L438.5,436.8 L438.7,436.9 L439.0,436.9 L439.2,437.0 L439.5,437.0 L439.7,437.0 L439.9,437.0 L440.2,437.0 L440.4,437.0 L440.6,437.0 L440.9,437.0 L441.1,437.0 L441.3,437.0 L441.6,437.0 L441.8,437.0 L442.0,437.0 L442.3,437.0 L442.5,437.0 L442.7,437.0 L443.0,437.0 L443.2,437.0 L443.4,437.0 L443.7,437.0 L443.9,437.0 L444.2,437.0 L444.4,437.0 L444.6,437.0 L444.9,437.0 L445.1,437.0 L445.3,437.0 L445.6,437.0 L445.8,437.0 L446.0,437.0 L446.3,437.0 L446.5,437.0 L446.7,437.0 L447.0,437.0 L447.2,437.0 L447.4,437.0 L447.7,437.0 L447.9,437.0 L448.1,437.0 L448.4,437.0 L448.6,437.0 L448.8,437.0 L449.1,437.0 L449.3,437.0 L449.6,437.0 L449.8,437.0 L450.0,437.0 L450.3,437.0 L450.5,437.0 L450.7,437.0 L451.0,437.0 L451.2,437.0 L451.4,437.0 L451.7,437.0 L451.9,437.0 L452.1,437.0" fill="none" stroke="#4cb552" stroke-width="1.3"/>
<path d="M383.30,441.0 v-4 M398.95,441.0 v-2.2 M414.60,441.0 v-4 M430.25,441.0 v-2.2 M445.90,441.0 v-4 M461.55,441.0 v-2.2 M477.20,441.0 v-4 M492.85,441.0 v-2.2 M508.50,441.0 v-4 M524.15,441.0 v-2.2 M539.80,441.0 v-4 M555.45,441.0 v-2.2 M571.10,441.0 v-4 M586.75,441.0 v-2.2 M602.40,441.0 v-4 M618.05,441.0 v-2.2 M633.70,441.0 v-4 M649.35,441.0 v-2.2 M665.00,441.0 v-4" stroke="#000" stroke-width="1.1"/>
<rect x="383.3" y="240.3" width="281.7" height="200.7" fill="none" stroke="#000" stroke-width="1.3"/>
<text x="383.30" y="454.3" font-size="10.3" font-weight="bold" fill="#000" text-anchor="middle" >0</text>
<text x="414.60" y="454.3" font-size="10.3" font-weight="bold" fill="#000" text-anchor="middle" >5</text>
<text x="445.90" y="454.3" font-size="10.3" font-weight="bold" fill="#000" text-anchor="middle" >10</text>
<text x="477.20" y="454.3" font-size="10.3" font-weight="bold" fill="#000" text-anchor="middle" >15</text>
<text x="508.50" y="454.3" font-size="10.3" font-weight="bold" fill="#000" text-anchor="middle" >20</text>
<text x="539.80" y="454.3" font-size="10.3" font-weight="bold" fill="#000" text-anchor="middle" >25</text>
<text x="571.10" y="454.3" font-size="10.3" font-weight="bold" fill="#000" text-anchor="middle" >30</text>
<text x="602.40" y="454.3" font-size="10.3" font-weight="bold" fill="#000" text-anchor="middle" >35</text>
<text x="633.70" y="454.3" font-size="10.3" font-weight="bold" fill="#000" text-anchor="middle" >40</text>
<text x="665.00" y="454.3" font-size="10.3" font-weight="bold" fill="#000" text-anchor="middle" >45</text>
<text x="374.2" y="334" font-size="12.5" font-weight="bold" text-anchor="middle" transform="rotate(-90 374.2 334)">PDOS</text>
<text x="524.5" y="474.8" font-size="12.5" font-weight="bold" fill="#000" text-anchor="middle" >Frequency (THz)</text>
<rect x="511.3" y="245" width="151.5" height="79.7" fill="#fff" stroke="#9a9a9a" stroke-width="0.7"/>
<line x1="512.5" y1="251.20" x2="533.8" y2="251.20" stroke="#a6dcef" stroke-width="1.3"/>
<line x1="580" y1="251.20" x2="601.3" y2="251.20" stroke="#f2c597" stroke-width="1.3"/>
<text x="535.8" y="254.40" font-size="8.9" font-weight="bold" fill="#000" text-anchor="start" >Cu -3%</text>
<text x="603.8" y="254.40" font-size="8.9" font-weight="bold" fill="#000" text-anchor="start" >Diamond -3%</text>
<line x1="512.5" y1="262.45" x2="533.8" y2="262.45" stroke="#3cb1da" stroke-width="1.3"/>
<line x1="580" y1="262.45" x2="601.3" y2="262.45" stroke="#e98d35" stroke-width="1.3"/>
<text x="535.8" y="265.65" font-size="8.9" font-weight="bold" fill="#000" text-anchor="start" >Cu -2%</text>
<text x="603.8" y="265.65" font-size="8.9" font-weight="bold" fill="#000" text-anchor="start" >Diamond -2%</text>
<line x1="512.5" y1="273.70" x2="533.8" y2="273.70" stroke="#eaa3c5" stroke-width="1.3"/>
<line x1="580" y1="273.70" x2="601.3" y2="273.70" stroke="#c9caee" stroke-width="1.3"/>
<text x="535.8" y="276.90" font-size="8.9" font-weight="bold" fill="#000" text-anchor="start" >Cu -1%</text>
<text x="603.8" y="276.90" font-size="8.9" font-weight="bold" fill="#000" text-anchor="start" >Diamond -1%</text>
<line x1="512.5" y1="284.95" x2="533.8" y2="284.95" stroke="#eab3cb" stroke-width="1.3"/>
<line x1="580" y1="284.95" x2="601.3" y2="284.95" stroke="#7a86c8" stroke-width="1.3"/>
<text x="535.8" y="288.15" font-size="8.9" font-weight="bold" fill="#000" text-anchor="start" >Cu&#160;&#160;&#160;0%</text>
<text x="603.8" y="288.15" font-size="8.9" font-weight="bold" fill="#000" text-anchor="start" >Diamond&#160;&#160;&#160;0%</text>
<line x1="512.5" y1="296.20" x2="533.8" y2="296.20" stroke="#dc4d63" stroke-width="1.3"/>
<line x1="580" y1="296.20" x2="601.3" y2="296.20" stroke="#5565b8" stroke-width="1.3"/>
<text x="535.8" y="299.40" font-size="8.9" font-weight="bold" fill="#000" text-anchor="start" >Cu +1%</text>
<text x="603.8" y="299.40" font-size="8.9" font-weight="bold" fill="#000" text-anchor="start" >Diamond +1%</text>
<line x1="512.5" y1="307.45" x2="533.8" y2="307.45" stroke="#a9d98f" stroke-width="1.3"/>
<line x1="580" y1="307.45" x2="601.3" y2="307.45" stroke="#e9f0a2" stroke-width="1.3"/>
<text x="535.8" y="310.65" font-size="8.9" font-weight="bold" fill="#000" text-anchor="start" >Cu +2%</text>
<text x="603.8" y="310.65" font-size="8.9" font-weight="bold" fill="#000" text-anchor="start" >Diamond +2%</text>
<line x1="512.5" y1="318.70" x2="533.8" y2="318.70" stroke="#4cb552" stroke-width="1.3"/>
<line x1="580" y1="318.70" x2="601.3" y2="318.70" stroke="#ecee4a" stroke-width="1.3"/>
<text x="535.8" y="321.90" font-size="8.9" font-weight="bold" fill="#000" text-anchor="start" >Cu +3%</text>
<text x="603.8" y="321.90" font-size="8.9" font-weight="bold" fill="#000" text-anchor="start" >Diamond +3%</text>
<path d="M456,371.5 L466.3,362 L466.3,367 L501,367 L501,376 L466.3,376 L466.3,381 Z" fill="url(#go)"/>
<path d="M524.7,367.5 L557.7,367.5 L557.7,362.7 L567.6,372.3 L557.7,382 L557.7,376.8 L524.7,376.8 Z" fill="url(#gb)"/>
<text x="470.5" y="352.3" font-size="13" font-weight="bold" fill="#000" text-anchor="start" >&#949; +</text>
<text x="530.8" y="354" font-size="13" font-weight="bold" fill="#000" text-anchor="start" >&#949; -</text>
<text x="-0.5" y="511.3" font-size="31" font-weight="bold" fill="#000" text-anchor="start" >d</text>
<line x1="184.20" y1="550.5" x2="184.20" y2="697.2" stroke="#e3262a" stroke-width="1.3" stroke-dasharray="6.4,4.6"/>
<line x1="45.3" y1="598.35" x2="323.4" y2="598.35" stroke="#e3262a" stroke-width="1.3" stroke-dasharray="6.4,4.6"/>
<polyline points="65.10,609.88 104.80,605.60 144.50,600.82 184.20,598.35 223.90,592.42 263.60,588.63 303.30,584.18" fill="none" stroke="#777777" stroke-width="1.2"/>
<circle cx="65.10" cy="609.88" r="3.5" fill="#777777"/>
<circle cx="104.80" cy="605.60" r="3.5" fill="#777777"/>
<circle cx="144.50" cy="600.82" r="3.5" fill="#777777"/>
<circle cx="184.20" cy="598.35" r="3.5" fill="#777777"/>
<circle cx="223.90" cy="592.42" r="3.5" fill="#777777"/>
<circle cx="263.60" cy="588.63" r="3.5" fill="#777777"/>
<circle cx="303.30" cy="584.18" r="3.5" fill="#777777"/>
<polyline points="65.10,683.53 104.80,658.32 144.50,627.51 184.20,598.35 223.90,569.02 263.60,543.49 303.30,512.19" fill="none" stroke="#ecd281" stroke-width="1.2"/>
<circle cx="65.10" cy="683.53" r="3.5" fill="#ecd281"/>
<circle cx="104.80" cy="658.32" r="3.5" fill="#ecd281"/>
<circle cx="144.50" cy="627.51" r="3.5" fill="#ecd281"/>
<circle cx="184.20" cy="598.35" r="3.5" fill="#ecd281"/>
<circle cx="223.90" cy="569.02" r="3.5" fill="#ecd281"/>
<circle cx="263.60" cy="543.49" r="3.5" fill="#ecd281"/>
<circle cx="303.30" cy="512.19" r="3.5" fill="#ecd281"/>
<polyline points="65.10,647.77 104.80,631.30 144.50,614.17 184.20,598.35 223.90,581.55 263.60,565.07 303.30,548.76" fill="none" stroke="#a98be0" stroke-width="1.2"/>
<circle cx="65.10" cy="647.77" r="3.5" fill="#a98be0"/>
<circle cx="104.80" cy="631.30" r="3.5" fill="#a98be0"/>
<circle cx="144.50" cy="614.17" r="3.5" fill="#a98be0"/>
<circle cx="184.20" cy="598.35" r="3.5" fill="#a98be0"/>
<circle cx="223.90" cy="581.55" r="3.5" fill="#a98be0"/>
<circle cx="263.60" cy="565.07" r="3.5" fill="#a98be0"/>
<circle cx="303.30" cy="548.76" r="3.5" fill="#a98be0"/>
<path d="M45.3,697.20 h4.2 M45.3,688.96 h2.2 M45.3,680.73 h4.2 M45.3,672.49 h2.2 M45.3,664.25 h4.2 M45.3,656.01 h2.2 M45.3,647.77 h4.2 M45.3,639.54 h2.2 M45.3,631.30 h4.2 M45.3,623.06 h2.2 M45.3,614.83 h4.2 M45.3,606.59 h2.2 M45.3,598.35 h4.2 M45.3,590.11 h2.2 M45.3,581.88 h4.2 M45.3,573.64 h2.2 M45.3,565.40 h4.2 M45.3,557.16 h2.2 M45.3,548.93 h4.2 M45.3,540.69 h2.2 M45.3,532.45 h4.2 M45.3,524.21 h2.2 M45.3,515.98 h4.2 M45.3,507.74 h2.2 M45.3,499.50 h4.2 M45.25,697.2 v-2.0 M65.10,697.2 v-3.8 M84.95,697.2 v-2.0 M104.80,697.2 v-3.8 M124.65,697.2 v-2.0 M144.50,697.2 v-3.8 M164.35,697.2 v-2.0 M184.20,697.2 v-3.8 M204.05,697.2 v-2.0 M223.90,697.2 v-3.8 M243.75,697.2 v-2.0 M263.60,697.2 v-3.8 M283.45,697.2 v-2.0 M303.30,697.2 v-3.8 M323.15,697.2 v-2.0" stroke="#000" stroke-width="1.1"/>
<rect x="45.3" y="499.5" width="278.1" height="197.7" fill="none" stroke="#000" stroke-width="1.4"/>
<text x="40.6" y="700.40" font-size="10.3" font-weight="bold" fill="#000" text-anchor="end" >-6</text>
<text x="40.6" y="683.93" font-size="10.3" font-weight="bold" fill="#000" text-anchor="end" >-5</text>
<text x="40.6" y="667.45" font-size="10.3" font-weight="bold" fill="#000" text-anchor="end" >-4</text>
<text x="40.6" y="650.98" font-size="10.3" font-weight="bold" fill="#000" text-anchor="end" >-3</text>
<text x="40.6" y="634.50" font-size="10.3" font-weight="bold" fill="#000" text-anchor="end" >-2</text>
<text x="40.6" y="618.03" font-size="10.3" font-weight="bold" fill="#000" text-anchor="end" >-1</text>
<text x="40.6" y="601.55" font-size="10.3" font-weight="bold" fill="#000" text-anchor="end" >0</text>
<text x="40.6" y="585.08" font-size="10.3" font-weight="bold" fill="#000" text-anchor="end" >1</text>
<text x="40.6" y="568.60" font-size="10.3" font-weight="bold" fill="#000" text-anchor="end" >2</text>
<text x="40.6" y="552.13" font-size="10.3" font-weight="bold" fill="#000" text-anchor="end" >3</text>
<text x="40.6" y="535.65" font-size="10.3" font-weight="bold" fill="#000" text-anchor="end" >4</text>
<text x="40.6" y="519.18" font-size="10.3" font-weight="bold" fill="#000" text-anchor="end" >5</text>
<text x="40.6" y="502.70" font-size="10.3" font-weight="bold" fill="#000" text-anchor="end" >6</text>
<text x="65.10" y="711.2" font-size="10.3" font-weight="bold" fill="#000" text-anchor="middle" >-3</text>
<text x="104.80" y="711.2" font-size="10.3" font-weight="bold" fill="#000" text-anchor="middle" >-2</text>
<text x="144.50" y="711.2" font-size="10.3" font-weight="bold" fill="#000" text-anchor="middle" >-1</text>
<text x="184.20" y="711.2" font-size="10.3" font-weight="bold" fill="#000" text-anchor="middle" >0</text>
<text x="223.90" y="711.2" font-size="10.3" font-weight="bold" fill="#000" text-anchor="middle" >1</text>
<text x="263.60" y="711.2" font-size="10.3" font-weight="bold" fill="#000" text-anchor="middle" >2</text>
<text x="303.30" y="711.2" font-size="10.3" font-weight="bold" fill="#000" text-anchor="middle" >3</text>
<text x="26.8" y="598.3" font-size="12.5" font-weight="bold" text-anchor="middle" transform="rotate(-90 26.8 598.3)">&#949; (%)</text>
<text x="156" y="730" font-size="12" font-weight="bold">&#949;<tspan font-size="8.5" dy="2.6">system</tspan><tspan dy="-2.6"> (%)</tspan></text>
<rect x="51.2" y="502.6" width="171.3" height="47.4" fill="#fff" stroke="#555" stroke-width="0.8"/>
<circle cx="67" cy="511.3" r="3.5" fill="#ecd281"/>
<circle cx="67" cy="526.3" r="3.5" fill="#777"/>
<line x1="53.9" y1="541.5" x2="80" y2="541.5" stroke="#a98be0" stroke-width="1.2"/>
<circle cx="67" cy="541.5" r="3.5" fill="#a98be0"/>
<text x="84.3" y="515.6" font-size="12" font-weight="bold" fill="#000" text-anchor="start" >Cu in system</text>
<text x="84.3" y="530.6" font-size="12" font-weight="bold" fill="#000" text-anchor="start" >Diamond in system</text>
<text x="84.3" y="545.8" font-size="12" font-weight="bold" fill="#000" text-anchor="start" >Heterostructure system</text>
<text x="340.5" y="516.5" font-size="31" font-weight="bold" fill="#000" text-anchor="start" >e</text>
<path d="M425.5,702.9 L425.9,702.9 L426.3,702.9 L426.7,702.9 L427.2,702.9 L427.6,702.9 L427.8,702.9 L428.0,701.2 L428.4,697.3 L428.9,694.6 L429.3,689.8 L429.5,686.0 L429.7,672.6 L430.1,646.7 L430.6,622.8 L430.9,601.8 L431.0,592.2 L431.4,563.9 L431.8,537.1 L432.3,504.6 L432.3,503.1 L432.7,529.9 L433.1,547.2 L433.3,551.2 L433.5,573.8 L434.0,597.1 L434.4,617.0 L434.4,616.9 L434.8,630.2 L435.2,636.8 L435.6,640.6 L435.7,641.7 L436.1,650.7 L436.5,655.8 L436.6,654.1 L436.9,662.2 L437.4,670.3 L437.7,675.5 L437.8,676.3 L438.2,677.3 L438.6,675.0 L439.1,672.1 L439.2,670.7 L439.5,671.8 L439.9,673.1 L440.3,671.2 L440.8,671.5 L441.1,669.3 L441.2,667.9 L441.6,674.6 L442.0,678.9 L442.2,679.4 L442.5,681.4 L442.9,683.7 L443.3,685.2 L443.7,689.1 L444.2,691.3 L444.4,689.9 L444.6,692.9 L445.0,693.6 L445.4,692.3 L445.9,692.3 L446.3,693.0 L446.7,694.3 L446.7,693.4 L447.2,694.8 L447.6,694.9 L448.0,694.5 L448.4,695.0 L448.9,695.9 L448.9,695.2 L449.3,694.5 L449.7,696.3 L450.1,696.8 L450.6,695.8 L451.0,695.0 L451.4,698.6 L451.4,699.6 L451.8,697.7 L452.3,699.1 L452.7,701.0 L453.1,699.9 L453.3,700.4 L453.5,700.5 L454.0,696.5 L454.4,697.5 L454.8,698.0 L455.0,697.1 L455.2,694.9 L455.7,688.8 L456.1,683.8 L456.5,684.8 L456.6,687.1 L456.9,680.4 L457.4,672.2 L457.8,667.0 L458.2,664.9 L458.6,659.8 L459.1,653.3 L459.2,651.7 L459.5,648.7 L459.9,640.2 L460.3,630.7 L460.8,624.1 L460.9,622.0 L461.2,620.3 L461.6,613.9 L462.0,601.4 L462.3,598.2 L462.5,604.1 L462.9,607.4 L463.3,610.1 L463.5,616.9 L463.7,617.2 L464.2,630.4 L464.4,638.6 L464.6,636.9 L465.0,634.5 L465.4,643.0 L465.9,653.0 L466.3,655.4 L466.6,658.8 L466.7,660.9 L467.1,662.5 L467.6,664.2 L468.0,664.5 L468.4,667.1 L468.8,669.8 L469.3,672.8 L469.6,675.7 L469.7,678.2 L470.1,682.0 L470.5,679.6 L471.0,680.0 L471.4,681.8 L471.8,681.9 L472.2,682.6 L472.5,683.1 L472.7,684.4 L473.1,687.4 L473.5,691.3 L473.9,694.0 L474.4,695.6 L474.6,697.1 L474.8,697.4 L475.2,696.9 L475.6,696.7 L476.1,697.6 L476.5,700.6 L476.9,700.9 L477.0,698.7 L477.3,697.6 L477.8,697.3 L478.2,699.3 L478.6,700.7 L479.0,698.1 L479.5,696.6 L479.8,696.9 L479.9,695.2 L480.3,697.1 L480.7,698.1 L481.2,695.8 L481.6,694.8 L482.0,693.8 L482.4,693.3 L482.9,692.8 L483.3,693.8 L483.7,693.4 L484.1,691.6 L484.3,691.0 L484.6,690.3 L485.0,689.1 L485.4,686.9 L485.8,686.7 L486.3,686.7 L486.7,686.3 L487.1,686.6 L487.5,686.3 L488.0,685.8 L488.4,684.5 L488.5,683.7 L488.8,683.1 L489.3,684.2 L489.7,683.3 L490.1,682.1 L490.5,683.6 L491.0,682.4 L491.4,681.6 L491.8,680.5 L492.2,680.0 L492.7,681.2 L493.0,681.1 L493.1,678.1 L493.5,677.6 L493.9,681.5 L494.4,682.2 L494.8,683.3 L495.2,681.8 L495.6,682.4 L496.1,684.7 L496.5,682.8 L496.9,685.8 L497.3,686.8 L497.5,684.1 L497.8,683.4 L498.2,683.3 L498.6,681.7 L499.0,680.8 L499.5,680.6 L499.9,680.0 L500.3,678.6 L500.6,679.0 L500.7,679.4 L501.2,680.6 L501.6,684.7 L502.0,685.3 L502.4,683.7 L502.9,684.8 L503.3,689.2 L503.4,690.0 L503.7,689.9 L504.1,690.7 L504.6,689.9 L505.0,692.3 L505.4,692.0 L505.8,690.4 L506.3,691.3 L506.7,691.6 L507.1,692.5 L507.5,691.7 L507.7,688.9 L508.0,684.9 L508.4,684.6 L508.8,683.9 L509.2,682.9 L509.7,685.3 L510.1,683.5 L510.5,679.2 L510.9,678.6 L511.4,677.5 L511.8,674.9 L511.9,676.0 L512.2,677.6 L512.6,675.0 L513.1,671.5 L513.5,670.0 L513.9,666.5 L514.3,661.7 L514.8,662.0 L514.8,663.5 L515.2,662.8 L515.6,664.1 L516.0,665.3 L516.5,668.2 L516.9,669.9 L517.3,667.9 L517.6,668.7 L517.7,673.1 L518.2,675.8 L518.6,675.8 L519.0,678.6 L519.4,683.4 L519.9,684.4 L520.3,687.7 L520.7,691.1 L520.7,689.8 L521.1,693.1 L521.6,693.0 L522.0,692.6 L522.4,696.5 L522.8,697.5 L523.3,698.0 L523.7,702.0 L524.0,702.9 L524.1,700.8 L524.5,699.2 L525.0,699.2 L525.4,699.6 L525.8,699.1 L526.2,699.2 L526.7,698.3 L527.1,697.8 L527.5,698.6 L527.9,698.0 L528.0,699.4 L528.4,700.1 L528.8,696.5 L529.2,694.6 L529.6,695.8 L530.1,695.1 L530.5,694.5 L530.9,693.9 L531.3,693.3 L531.8,692.6 L532.2,692.8 L532.6,690.9 L533.1,688.9 L533.5,691.5 L533.7,690.9 L533.9,689.1 L534.3,688.1 L534.8,688.5 L535.2,687.6 L535.6,681.2 L536.0,682.7 L536.5,686.1 L536.9,684.4 L537.3,684.0 L537.7,685.3 L538.2,686.4 L538.2,683.5 L538.6,681.1 L539.0,678.5 L539.4,678.3 L539.9,679.1 L540.3,673.3 L540.7,673.4 L541.0,677.8 L541.1,677.2 L541.6,677.3 L542.0,677.3 L542.4,678.3 L542.8,681.5 L543.3,682.6 L543.7,679.6 L544.1,679.4 L544.1,686.1 L544.5,688.3 L545.0,686.4 L545.4,685.9 L545.8,685.5 L546.2,684.4 L546.7,683.5 L547.1,685.2 L547.5,686.6 L547.9,688.2 L548.3,688.4 L548.4,686.8 L548.8,686.2 L549.2,687.8 L549.6,686.5 L550.0,685.6 L550.1,687.3 L550.5,689.1 L550.9,690.2 L551.3,690.6 L551.8,693.7 L552.2,692.4 L552.6,689.0 L553.0,691.0 L553.5,691.1 L553.9,690.9 L554.2,692.1 L554.3,695.6 L554.7,697.1 L555.2,694.6 L555.6,693.5 L556.0,693.0 L556.4,694.1 L556.9,698.2 L557.1,702.4 L557.3,700.6 L557.7,698.3 L558.1,697.9 L558.6,698.1 L559.0,699.0 L559.4,700.5 L559.8,700.3 L560.3,699.2 L560.7,699.4 L561.1,698.5 L561.5,699.0 L562.0,699.2 L562.4,699.1 L562.8,698.7 L563.2,698.2 L563.7,699.6 L563.9,700.8 L564.1,698.0 L564.5,696.7 L564.9,696.7 L565.4,695.3 L565.8,696.2 L566.2,696.6 L566.6,695.1 L567.1,693.1 L567.5,691.8 L567.9,692.7 L568.3,693.3 L568.8,691.1 L569.2,687.8 L569.3,690.1 L569.6,690.5 L570.0,686.7 L570.5,685.1 L570.9,683.4 L571.3,681.9 L571.7,677.6 L572.2,676.0 L572.4,676.6 L572.6,677.2 L573.0,680.3 L573.4,681.6 L573.9,682.4 L574.3,685.6 L574.7,686.9 L575.2,687.7 L575.2,687.1 L575.6,687.5 L576.0,689.8 L576.4,688.8 L576.9,687.9 L577.3,688.9 L577.7,690.1 L578.1,692.5 L578.6,694.4 L579.0,695.4 L579.4,694.7 L579.7,694.9 L579.8,697.5 L580.3,697.4 L580.7,697.0 L581.1,696.5 L581.5,696.1 L582.0,697.4 L582.4,695.6 L582.8,694.1 L583.2,695.8 L583.7,694.6 L584.1,690.0 L584.5,692.3 L584.9,692.4 L584.9,691.5 L585.4,693.6 L585.8,692.5 L586.2,693.1 L586.6,690.8 L587.1,688.0 L587.5,689.9 L587.9,690.3 L588.3,690.7 L588.8,690.2 L589.2,686.8 L589.6,687.9 L590.0,689.0 L590.5,686.2 L590.6,684.2 L590.9,683.2 L591.3,685.6 L591.7,688.8 L592.2,688.3 L592.6,688.4 L593.0,689.9 L593.4,688.8 L593.9,687.1 L594.3,688.7 L594.7,691.5 L595.1,691.7 L595.6,694.3 L595.6,694.9 L596.0,694.4 L596.4,692.0 L596.8,690.4 L597.3,693.3 L597.7,694.7 L598.1,698.0 L598.5,697.3 L599.0,693.1 L599.4,695.1 L599.8,696.5 L600.2,695.3 L600.7,698.0 L601.1,698.2 L601.5,695.4 L601.9,696.6 L602.4,698.4 L602.6,698.1 L602.8,699.6 L603.2,700.2 L603.6,697.4 L604.1,698.7 L604.5,698.6 L604.9,697.6 L605.3,700.8 L605.8,700.3 L606.2,699.0 L606.6,698.5 L607.0,698.6 L607.5,697.7 L607.9,697.1 L608.3,697.7 L608.7,697.4 L609.2,698.1 L609.6,696.0 L610.0,695.3 L610.4,696.9 L610.9,698.4 L611.3,696.6 L611.7,694.3 L612.1,695.8 L612.6,696.2 L613.0,696.9 L613.0,698.3 L613.4,698.0 L613.8,696.5 L614.3,695.3 L614.7,696.5 L615.1,696.0 L615.5,694.4 L616.0,695.0 L616.4,694.7 L616.8,695.2 L617.3,696.5 L617.7,695.6 L618.1,695.5 L618.5,695.2 L619.0,696.5 L619.4,695.8 L619.8,695.3 L620.2,697.1 L620.7,697.7 L621.1,696.9 L621.5,694.0 L621.9,693.5 L622.4,693.9 L622.8,696.8 L623.2,698.6 L623.4,697.4 L623.6,697.2 L624.1,694.6 L624.5,692.5 L624.9,693.0 L625.3,691.8 L625.8,692.1 L626.2,692.9 L626.6,692.0 L627.0,689.5 L627.5,687.2 L627.9,686.3 L627.9,685.3 L628.3,687.0 L628.7,688.2 L629.2,685.6 L629.6,685.8 L630.0,685.9 L630.4,682.2 L630.8,679.5 L630.9,679.7 L631.3,682.1 L631.7,684.8 L632.1,684.7 L632.6,686.0 L633.0,688.0 L633.4,687.1 L633.8,689.0 L634.1,691.9 L634.3,691.9 L634.7,691.3 L635.1,691.6 L635.5,693.0 L636.0,693.7 L636.4,696.5 L636.8,698.9 L637.2,697.8 L637.6,698.7 L637.7,700.3 L638.1,700.6 L638.5,700.2 L638.9,699.1 L639.4,699.3 L639.8,698.9 L640.2,696.0 L640.6,696.5 L641.1,697.0 L641.5,696.6 L641.9,699.1 L642.3,699.8 L642.8,699.7 L643.2,698.6 L643.6,698.8 L644.0,698.3 L644.5,696.5 L644.9,700.1 L645.3,699.9 L645.7,696.1 L646.2,697.9 L646.6,698.5 L647.0,699.6 L647.4,700.4 L647.9,700.3 L648.0,700.1 L648.3,700.2 L648.7,702.9 L649.1,701.1 L649.6,695.9 L650.0,696.9 L650.4,698.4 L650.8,697.6 L651.3,698.8 L651.7,698.2 L652.1,696.1 L652.5,698.0 L653.0,699.1 L653.4,697.4 L653.8,699.5 L654.2,698.1 L654.7,694.4 L655.1,697.1 L655.5,697.3 L655.9,696.2 L656.4,698.2 L656.8,696.6 L657.2,696.1 L657.6,697.3 L658.1,695.9 L658.5,694.8 L658.6,695.5 L658.9,698.1 L659.4,700.4 L659.8,697.3 L660.2,696.2 L660.6,696.9 L661.1,696.7 L661.5,696.7 L661.9,696.6 L662.3,694.2 L662.8,693.5 L663.2,695.1 L663.6,693.8 L664.0,691.9 L664.5,692.9 L664.9,694.0 L665.3,692.2 L665.5,691.4 L665.7,690.7 L666.2,692.0 L666.6,692.4 L667.0,692.4 L667.4,692.3 L667.9,692.1 L668.3,693.5 L668.7,693.5 L668.8,692.4" fill="none" stroke="#e6cd7d" stroke-width="1.15"/>
<path d="M425.5,702.9 L425.9,702.9 L426.3,702.9 L426.7,702.9 L427.2,702.9 L427.6,702.9 L427.8,702.9 L428.0,701.4 L428.4,698.0 L428.9,691.4 L429.3,689.3 L429.7,686.6 L429.7,690.9 L430.1,676.3 L430.6,653.4 L431.0,630.9 L431.1,629.2 L431.4,612.0 L431.8,589.6 L432.3,566.6 L432.6,550.2 L432.7,554.5 L433.1,579.8 L433.5,591.6 L433.5,593.4 L434.0,604.3 L434.4,615.4 L434.7,622.0 L434.8,621.2 L435.2,626.7 L435.7,631.6 L436.1,633.3 L436.1,635.2 L436.5,645.0 L436.9,651.4 L437.0,651.9 L437.4,658.6 L437.7,663.3 L437.8,662.3 L438.2,669.7 L438.6,670.5 L439.1,670.0 L439.5,675.5 L439.9,682.1 L440.1,683.3 L440.3,682.0 L440.8,680.6 L441.2,675.9 L441.6,673.1 L442.0,673.1 L442.2,672.4 L442.5,672.1 L442.9,670.4 L443.3,668.0 L443.7,668.6 L443.9,669.4 L444.2,668.1 L444.6,671.7 L445.0,679.1 L445.4,681.0 L445.5,681.6 L445.9,686.7 L446.3,687.4 L446.7,688.6 L447.2,691.5 L447.6,691.5 L448.0,692.6 L448.4,695.3 L448.9,697.3 L448.9,697.1 L449.3,695.6 L449.7,696.2 L450.1,698.5 L450.6,696.0 L451.0,696.4 L451.4,697.4 L451.8,695.9 L452.3,698.0 L452.7,701.4 L453.1,701.1 L453.3,699.2 L453.5,698.4 L454.0,698.4 L454.4,697.6 L454.8,695.6 L455.2,697.4 L455.7,696.8 L456.1,694.9 L456.5,696.4 L456.6,696.8 L456.9,691.0 L457.4,684.8 L457.8,684.7 L458.2,681.3 L458.6,674.7 L458.8,673.5 L459.1,670.6 L459.5,667.3 L459.9,660.1 L460.3,654.2 L460.8,651.0 L461.1,645.9 L461.2,646.1 L461.6,639.6 L462.0,633.3 L462.3,633.1 L462.5,636.0 L462.9,636.8 L463.3,634.4 L463.7,634.5 L464.0,636.5 L464.2,637.7 L464.6,639.4 L465.0,639.2 L465.4,642.8 L465.9,641.1 L465.9,639.2 L466.3,644.8 L466.7,642.8 L467.1,643.2 L467.6,647.1 L468.0,650.2 L468.0,652.8 L468.4,654.5 L468.8,653.1 L469.3,657.8 L469.6,660.2 L469.7,661.0 L470.1,668.0 L470.5,669.6 L471.0,672.5 L471.1,673.1 L471.4,676.0 L471.8,680.7 L472.2,684.5 L472.7,687.1 L473.1,688.4 L473.5,691.1 L473.9,691.6 L473.9,690.7 L474.4,693.9 L474.8,690.7 L475.2,689.8 L475.6,694.6 L476.1,692.7 L476.5,690.4 L476.9,693.6 L477.3,697.0 L477.8,697.3 L478.2,694.9 L478.6,694.6 L479.0,697.2 L479.5,697.4 L479.8,695.6 L479.9,697.0 L480.3,698.6 L480.7,698.4 L481.2,695.4 L481.6,691.8 L482.0,692.9 L482.4,694.9 L482.9,695.0 L483.3,697.0 L483.7,697.3 L484.1,696.3 L484.6,697.9 L485.0,697.0 L485.4,695.8 L485.7,694.3 L485.8,692.7 L486.3,691.7 L486.7,692.4 L487.1,690.6 L487.5,688.4 L488.0,686.6 L488.4,686.3 L488.8,689.8 L489.3,688.1 L489.7,680.7 L490.1,678.2 L490.5,680.0 L491.0,678.2 L491.4,676.0 L491.6,675.8 L491.8,677.3 L492.2,678.0 L492.7,677.3 L493.1,678.5 L493.5,680.4 L493.9,679.6 L494.4,677.1 L494.4,676.5 L494.8,678.3 L495.2,680.1 L495.6,679.0 L496.1,680.8 L496.5,684.3 L496.9,683.8 L497.3,686.4 L497.3,688.4 L497.8,687.7 L498.2,686.4 L498.6,687.7 L499.0,689.6 L499.5,690.3 L499.9,692.5 L500.3,691.7 L500.7,691.1 L501.2,694.7 L501.6,695.0 L501.8,695.2 L502.0,696.0 L502.4,693.7 L502.9,693.3 L503.3,691.9 L503.7,692.2 L504.1,692.9 L504.6,690.3 L505.0,688.6 L505.4,687.9 L505.8,689.0 L506.0,689.9 L506.3,689.6 L506.7,687.2 L507.1,686.8 L507.5,686.5 L508.0,684.7 L508.4,683.9 L508.8,683.0 L509.2,679.5 L509.7,678.9 L510.1,680.2 L510.5,677.9 L510.5,677.4 L510.9,675.6 L511.4,674.3 L511.8,672.0 L512.2,673.1 L512.6,672.9 L513.1,671.0 L513.3,669.7 L513.5,669.8 L513.9,672.1 L514.3,671.2 L514.8,668.5 L515.2,668.3 L515.6,670.4 L516.0,670.0 L516.2,671.9 L516.5,677.6 L516.9,678.2 L517.3,677.2 L517.7,676.4 L518.2,674.7 L518.6,679.4 L519.0,680.4 L519.3,677.6 L519.4,680.6 L519.9,684.3 L520.3,684.7 L520.7,687.3 L521.1,692.9 L521.6,695.0 L522.0,698.2 L522.1,698.3 L522.4,697.1 L522.8,697.6 L523.3,697.4 L523.7,699.1 L524.1,698.4 L524.5,698.6 L525.0,699.4 L525.4,700.3 L525.8,701.1 L526.2,700.6 L526.6,701.2 L526.7,700.8 L527.1,702.1 L527.5,701.6 L527.9,698.2 L528.4,695.3 L528.8,696.0 L529.2,698.1 L529.6,696.4 L530.1,693.3 L530.5,692.0 L530.8,691.9 L530.9,690.1 L531.3,687.7 L531.8,687.5 L532.2,689.4 L532.6,689.9 L533.1,688.6 L533.5,690.1 L533.9,688.5 L534.3,686.4 L534.8,687.7 L535.2,685.7 L535.6,683.9 L536.0,684.3 L536.5,683.4 L536.7,683.3 L536.9,686.3 L537.3,687.5 L537.7,684.7 L538.2,685.0 L538.6,686.1 L539.0,684.6 L539.4,682.7 L539.9,681.5 L540.3,682.1 L540.7,683.8 L541.1,683.6 L541.6,682.7 L542.0,683.9 L542.4,682.7 L542.6,681.9 L542.8,684.6 L543.3,684.0 L543.7,683.7 L544.1,684.9 L544.5,686.8 L545.0,687.9 L545.4,687.5 L545.8,689.0 L546.2,690.5 L546.7,687.1 L547.1,685.3 L547.5,688.0 L547.9,686.8 L548.3,687.5 L548.4,688.3 L548.8,690.3 L549.2,691.2 L549.6,690.6 L550.0,690.6 L550.1,690.0 L550.5,692.7 L550.9,695.4 L551.3,695.4 L551.8,692.9 L552.2,691.7 L552.6,692.5 L553.0,695.7 L553.5,699.5 L553.9,698.4 L554.3,696.2 L554.7,696.6 L555.2,696.3 L555.2,695.8 L555.6,697.6 L556.0,698.6 L556.4,697.3 L556.9,696.4 L557.3,696.8 L557.7,694.5 L558.1,694.9 L558.6,697.4 L559.0,698.3 L559.4,699.0 L559.8,697.5 L560.3,696.6 L560.4,697.4 L560.7,697.5 L561.1,697.1 L561.5,699.4 L562.0,702.9 L562.4,698.2 L562.8,693.6 L563.2,696.0 L563.7,698.7 L564.1,699.9 L564.5,696.4 L564.9,697.9 L565.4,699.6 L565.8,695.4 L565.8,694.9 L566.2,694.4 L566.6,694.1 L567.1,691.6 L567.5,692.0 L567.9,695.6 L568.3,693.5 L568.8,689.6 L569.2,689.4 L569.3,689.6 L569.6,689.0 L570.0,689.8 L570.5,685.8 L570.9,680.6 L571.0,680.0 L571.3,682.9 L571.7,686.6 L572.2,688.0 L572.6,687.3 L572.6,685.3 L573.0,685.1 L573.4,688.4 L573.9,689.6 L574.3,688.7 L574.7,689.6 L575.2,690.5 L575.2,691.0 L575.6,690.8 L576.0,691.1 L576.4,692.1 L576.9,693.7 L577.3,694.1 L577.7,694.1 L578.1,697.5 L578.6,697.5 L578.8,695.8 L579.0,695.2 L579.4,694.9 L579.8,695.8 L580.3,695.2 L580.7,694.9 L581.1,695.4 L581.5,697.2 L582.0,694.4 L582.3,694.0 L582.4,696.4 L582.8,693.6 L583.2,692.4 L583.7,692.2 L584.1,691.4 L584.5,690.3 L584.9,690.5 L585.4,688.3 L585.8,689.4 L586.2,692.2 L586.6,691.1 L586.8,691.8 L587.1,690.9 L587.5,688.4 L587.9,689.4 L588.3,691.7 L588.8,689.8 L589.2,688.1 L589.6,686.5 L590.0,685.7 L590.4,687.6 L590.5,689.2 L590.9,689.6 L591.3,689.7 L591.7,691.8 L592.2,691.9 L592.6,690.8 L593.0,691.4 L593.4,692.0 L593.9,690.1 L594.3,689.1 L594.7,690.3 L595.1,692.1 L595.6,694.6 L595.6,694.3 L596.0,693.2 L596.4,693.6 L596.8,694.4 L597.3,693.3 L597.7,693.2 L598.1,695.7 L598.5,696.8 L599.0,696.8 L599.4,696.5 L599.8,697.4 L600.2,698.2 L600.7,696.5 L601.1,696.6 L601.5,698.7 L601.9,699.7 L602.4,699.0 L602.6,698.1 L602.8,697.3 L603.2,697.8 L603.6,700.0 L604.1,698.2 L604.5,696.4 L604.9,697.4 L605.3,697.3 L605.8,698.7 L606.2,699.3 L606.6,697.8 L607.0,696.2 L607.5,696.4 L607.9,700.7 L608.3,700.9 L608.7,697.1 L609.2,695.3 L609.5,694.9 L609.6,693.5 L610.0,692.5 L610.4,693.4 L610.9,693.7 L611.3,696.4 L611.7,696.3 L612.1,693.9 L612.6,695.1 L613.0,694.9 L613.4,693.6 L613.8,694.5 L614.3,694.8 L614.7,694.4 L615.1,693.7 L615.5,693.6 L616.0,693.0 L616.4,694.5 L616.6,695.3 L616.8,695.2 L617.3,695.7 L617.7,693.5 L618.1,693.2 L618.5,694.1 L619.0,694.4 L619.4,692.8 L619.8,694.4 L620.2,695.4 L620.7,696.1 L621.1,697.9 L621.5,696.3 L621.5,696.8 L621.9,696.5 L622.4,694.5 L622.8,695.8 L623.2,696.4 L623.6,695.3 L624.1,697.1 L624.5,696.6 L624.9,695.1 L625.3,693.2 L625.8,693.0 L626.2,692.3 L626.6,691.7 L627.0,691.2 L627.0,689.9 L627.5,691.0 L627.9,690.2 L628.3,689.1 L628.7,687.9 L629.2,686.3 L629.6,687.8 L630.0,690.8 L630.4,693.0 L630.5,691.9 L630.9,688.2 L631.3,687.9 L631.7,689.2 L632.1,690.6 L632.6,692.0 L633.0,692.5 L633.4,691.8 L633.8,694.0 L634.1,694.0 L634.3,693.7 L634.7,695.0 L635.1,694.3 L635.5,694.8 L636.0,695.5 L636.4,696.7 L636.8,696.0 L637.2,696.2 L637.7,693.5 L638.1,693.0 L638.5,696.7 L638.9,697.2 L639.3,697.8 L639.4,699.9 L639.8,699.0 L640.2,696.0 L640.6,697.3 L641.1,697.7 L641.5,697.4 L641.9,697.4 L642.3,695.7 L642.8,695.1 L643.2,695.0 L643.6,696.3 L644.0,695.8 L644.5,695.6 L644.9,696.1 L645.3,694.9 L645.7,695.6 L646.2,697.8 L646.6,696.8 L647.0,696.6 L647.4,698.2 L647.9,698.2 L648.0,696.3 L648.3,695.3 L648.7,698.8 L649.1,697.9 L649.6,693.2 L650.0,692.1 L650.4,695.0 L650.8,697.0 L651.3,695.9 L651.7,695.0 L652.1,695.6 L652.5,697.8 L653.0,697.1 L653.4,695.3 L653.8,697.6 L654.2,698.8 L654.7,697.1 L655.1,696.8 L655.1,696.5 L655.5,695.7 L655.9,695.7 L656.4,696.7 L656.8,698.8 L657.2,698.1 L657.6,695.2 L658.1,693.8 L658.5,695.4 L658.9,697.6 L659.4,696.0 L659.8,694.5 L660.2,695.8 L660.6,696.6 L661.1,697.8 L661.5,698.0 L661.9,698.1 L661.9,698.9 L662.3,698.0 L662.8,698.2 L663.2,700.2 L663.6,700.4 L664.0,697.6 L664.5,696.7 L664.9,697.3 L665.3,696.6 L665.7,695.3 L666.2,694.6 L666.6,696.1 L667.0,696.9 L667.4,696.2 L667.9,697.0 L668.3,698.2 L668.7,697.1 L668.8,696.4" fill="none" stroke="#6f6f6f" stroke-width="1.15"/>
<path d="M425.5,702.9 L425.9,702.9 L426.3,702.9 L426.7,702.9 L427.2,702.9 L427.6,702.9 L427.8,702.9 L428.0,701.6 L428.4,698.8 L428.9,696.2 L429.3,691.9 L429.7,690.7 L429.7,692.0 L430.1,672.2 L430.6,656.7 L431.0,643.7 L431.1,639.1 L431.4,632.3 L431.8,613.8 L432.3,587.8 L432.6,578.5 L432.7,586.3 L433.1,590.3 L433.5,591.6 L433.5,589.9 L434.0,595.0 L434.4,604.7 L434.4,606.8 L434.8,617.9 L435.2,625.4 L435.4,624.6 L435.7,630.6 L436.1,637.9 L436.5,649.1 L436.6,652.1 L436.9,660.5 L437.4,671.8 L437.7,678.1 L437.8,675.4 L438.2,679.2 L438.6,681.0 L438.9,681.2 L439.1,682.4 L439.5,686.2 L439.9,691.6 L440.3,692.4 L440.8,692.5 L441.1,695.3 L441.2,696.5 L441.6,697.0 L442.0,696.9 L442.5,697.4 L442.9,699.7 L443.3,698.6 L443.7,698.3 L444.2,699.7 L444.4,698.6 L444.6,697.4 L445.0,697.9 L445.4,696.0 L445.9,692.6 L446.3,692.1 L446.7,690.5 L446.7,692.3 L447.2,696.1 L447.6,693.6 L448.0,687.2 L448.4,685.0 L448.9,686.0 L448.9,687.5 L449.3,684.7 L449.7,685.1 L450.1,684.6 L450.6,681.4 L451.0,676.7 L451.4,675.0 L451.8,673.2 L452.2,670.9 L452.3,675.5 L452.7,673.0 L453.1,672.7 L453.5,675.4 L454.0,672.4 L454.4,674.6 L454.8,679.0 L455.2,677.5 L455.5,676.2 L455.7,678.4 L456.1,678.3 L456.5,675.5 L456.9,671.0 L457.4,669.1 L457.8,667.9 L458.2,663.4 L458.6,660.7 L458.8,660.5 L459.1,657.8 L459.5,658.5 L459.9,654.6 L460.3,647.4 L460.8,645.7 L460.9,646.8 L461.2,648.3 L461.6,646.8 L461.8,643.2 L462.0,644.1 L462.5,647.3 L462.9,648.1 L463.3,647.2 L463.3,647.0 L463.7,651.6 L464.2,652.2 L464.6,655.8 L464.9,659.5 L465.0,661.1 L465.4,663.5 L465.9,663.9 L466.3,666.2 L466.6,668.4 L466.7,670.6 L467.1,671.8 L467.6,672.5 L468.0,672.1 L468.4,671.7 L468.8,676.2 L469.3,678.1 L469.6,678.4 L469.7,678.5 L470.1,677.1 L470.5,678.4 L471.0,675.0 L471.4,671.0 L471.5,673.6 L471.8,676.3 L472.2,674.6 L472.7,672.9 L473.1,671.9 L473.5,668.6 L473.9,665.3 L473.9,666.7 L474.4,666.8 L474.8,664.6 L475.2,667.2 L475.6,671.3 L476.1,669.4 L476.5,666.2 L476.9,664.0 L477.0,662.9 L477.3,665.5 L477.8,665.5 L478.2,668.5 L478.6,671.1 L479.0,670.4 L479.5,668.6 L479.8,667.8 L479.9,675.0 L480.3,676.0 L480.7,675.3 L481.2,678.3 L481.6,679.9 L482.0,682.8 L482.4,683.6 L482.6,684.7 L482.9,686.8 L483.3,685.8 L483.7,684.6 L484.1,686.7 L484.6,686.8 L485.0,687.9 L485.4,686.9 L485.8,686.4 L486.3,688.7 L486.7,689.0 L487.1,690.9 L487.1,692.6 L487.5,690.8 L488.0,688.4 L488.4,686.5 L488.8,685.8 L489.3,688.1 L489.7,687.4 L490.1,684.5 L490.5,683.4 L491.0,683.4 L491.4,685.6 L491.6,684.2 L491.8,683.8 L492.2,685.1 L492.7,686.7 L493.1,687.0 L493.5,686.5 L493.9,686.7 L494.4,684.2 L494.8,684.6 L495.2,688.6 L495.6,691.6 L496.1,691.8 L496.5,690.5 L496.9,689.6 L497.3,690.7 L497.8,691.3 L498.2,691.3 L498.6,691.5 L498.7,690.4 L499.0,691.2 L499.5,693.0 L499.9,695.1 L500.3,696.9 L500.7,695.7 L501.2,695.6 L501.6,694.7 L502.0,692.3 L502.4,693.1 L502.9,694.9 L503.3,695.0 L503.7,694.4 L504.1,694.6 L504.6,694.3 L505.0,693.5 L505.4,693.6 L505.8,693.2 L506.0,693.6 L506.3,693.8 L506.7,691.0 L507.1,690.3 L507.5,690.5 L508.0,689.5 L508.4,690.1 L508.8,689.8 L509.2,689.4 L509.7,687.9 L510.1,686.8 L510.5,686.5 L510.5,684.2 L510.9,682.6 L511.4,681.4 L511.8,679.6 L512.2,678.7 L512.6,678.6 L513.1,678.2 L513.5,672.7 L513.9,670.4 L514.3,671.3 L514.8,670.9 L514.8,671.1 L515.2,673.6 L515.6,676.5 L516.0,674.9 L516.5,673.2 L516.9,674.9 L517.3,676.8 L517.7,677.3 L518.2,677.9 L518.6,679.6 L519.0,681.8 L519.3,680.6 L519.4,681.1 L519.9,682.5 L520.3,681.3 L520.7,681.6 L521.1,680.6 L521.6,680.0 L522.0,680.7 L522.4,681.6 L522.8,682.6 L523.3,680.9 L523.7,679.7 L524.1,681.2 L524.5,681.4 L524.9,680.7 L525.0,681.0 L525.4,679.7 L525.8,680.8 L526.2,682.7 L526.7,682.1 L527.1,683.4 L527.5,685.7 L527.9,685.0 L528.4,683.7 L528.8,684.9 L529.2,685.6 L529.6,686.1 L530.1,687.6 L530.5,687.7 L530.8,689.1 L530.9,689.6 L531.3,689.5 L531.8,690.2 L532.2,687.8 L532.6,688.0 L533.1,689.7 L533.5,689.1 L533.9,689.1 L534.3,690.5 L534.8,690.9 L535.2,688.9 L535.6,688.0 L536.0,689.5 L536.5,691.9 L536.9,692.0 L537.3,692.4 L537.7,692.9 L538.2,692.9 L538.6,691.6 L539.0,692.5 L539.4,693.6 L539.6,690.9 L539.9,694.3 L540.3,695.6 L540.7,692.1 L541.1,690.6 L541.6,694.2 L542.0,696.1 L542.4,695.7 L542.8,696.4 L543.3,695.9 L543.7,692.7 L544.1,692.0 L544.5,694.4 L545.0,695.0 L545.4,694.1 L545.8,693.0 L546.2,694.9 L546.7,694.1 L547.1,694.4 L547.5,696.4 L547.9,694.8 L548.4,692.7 L548.8,693.7 L549.2,695.4 L549.6,693.6 L550.0,693.3 L550.1,693.5 L550.5,693.0 L550.9,693.9 L551.3,694.2 L551.8,693.5 L552.2,694.1 L552.6,693.3 L553.0,695.4 L553.5,698.1 L553.9,694.2 L554.3,692.7 L554.7,694.9 L554.9,694.9 L555.2,693.0 L555.6,694.0 L556.0,694.4 L556.4,693.8 L556.9,694.8 L557.3,694.7 L557.7,693.3 L558.1,694.5 L558.6,696.1 L558.7,694.1 L559.0,694.9 L559.4,697.2 L559.8,695.0 L560.3,693.0 L560.7,693.6 L561.1,693.2 L561.5,694.0 L562.0,690.6 L562.4,690.4 L562.8,694.0 L563.2,694.3 L563.7,694.1 L564.1,690.5 L564.5,689.8 L564.9,690.6 L565.4,691.0 L565.8,689.4 L565.8,688.6 L566.2,691.1 L566.6,689.4 L567.1,687.3 L567.5,686.5 L567.9,684.8 L568.3,684.2 L568.8,683.2 L569.2,683.6 L569.3,685.4 L569.6,682.8 L570.0,680.8 L570.5,681.4 L570.9,681.6 L571.0,684.5 L571.3,685.9 L571.7,682.1 L572.2,682.1 L572.6,684.8 L573.0,686.2 L573.4,686.9 L573.9,686.1 L574.3,686.3 L574.5,686.2 L574.7,686.8 L575.2,687.7 L575.6,687.2 L576.0,686.4 L576.4,686.9 L576.9,685.4 L577.3,685.3 L577.7,687.5 L578.1,688.8 L578.6,688.0 L579.0,688.7 L579.4,692.1 L579.7,692.3 L579.8,689.7 L580.3,690.1 L580.7,689.5 L581.1,688.4 L581.5,691.9 L582.0,692.4 L582.4,688.8 L582.8,689.8 L583.2,693.6 L583.7,692.2 L584.1,689.4 L584.5,689.1 L584.9,691.2 L585.4,692.3 L585.8,691.8 L586.2,690.9 L586.6,689.1 L586.8,690.6 L587.1,691.7 L587.5,692.0 L587.9,692.9 L588.3,693.7 L588.8,695.3 L589.2,693.9 L589.6,694.1 L590.0,693.7 L590.5,693.4 L590.9,694.4 L591.3,693.9 L591.7,694.5 L592.2,694.4 L592.6,692.9 L593.0,689.6 L593.4,692.3 L593.7,695.5 L593.9,694.4 L594.3,695.9 L594.7,695.5 L595.1,695.6 L595.6,696.1 L596.0,693.9 L596.4,696.2 L596.8,697.4 L597.3,694.8 L597.7,696.2 L598.1,696.3 L598.5,695.0 L599.0,696.1 L599.4,695.3 L599.8,696.4 L600.2,697.2 L600.7,696.1 L601.1,698.1 L601.5,698.2 L601.9,697.5 L602.4,696.6 L602.6,697.9 L602.8,699.0 L603.2,697.8 L603.6,695.8 L604.1,696.4 L604.5,696.9 L604.9,697.5 L605.3,698.2 L605.8,696.3 L606.2,696.2 L606.6,696.7 L607.0,699.2 L607.5,700.0 L607.9,696.4 L608.3,694.4 L608.7,696.7 L609.2,695.9 L609.6,695.6 L610.0,697.4 L610.4,697.8 L610.9,695.6 L611.2,692.0 L611.3,694.4 L611.7,696.2 L612.1,694.0 L612.6,691.9 L613.0,695.6 L613.4,697.7 L613.8,694.3 L614.3,696.1 L614.7,696.3 L615.1,694.4 L615.5,694.0 L616.0,694.8 L616.4,695.1 L616.8,695.1 L617.3,694.8 L617.7,693.9 L618.1,695.0 L618.5,696.7 L619.0,694.4 L619.4,691.5 L619.8,692.3 L619.9,694.3 L620.2,695.5 L620.7,692.7 L621.1,691.3 L621.5,694.0 L621.9,694.6 L622.4,693.3 L622.8,693.4 L623.2,694.5 L623.6,692.6 L624.1,690.7 L624.5,692.2 L624.9,694.5 L625.3,694.8 L625.8,692.8 L626.2,691.0 L626.6,691.2 L627.0,690.8 L627.5,690.0 L627.9,692.0 L628.3,695.2 L628.6,695.5 L628.7,694.1 L629.2,692.9 L629.6,690.9 L630.0,689.2 L630.4,689.7 L630.9,692.7 L631.3,690.1 L631.7,688.4 L632.1,691.5 L632.6,692.3 L633.0,693.6 L633.4,692.6 L633.8,690.7 L634.1,689.7 L634.3,688.9 L634.7,689.8 L635.1,689.7 L635.5,691.2 L636.0,693.2 L636.4,693.0 L636.8,694.0 L637.2,694.2 L637.7,693.3 L638.1,692.5 L638.5,692.2 L638.9,695.2 L639.4,695.2 L639.8,691.6 L640.2,693.8 L640.6,696.3 L641.1,694.3 L641.2,695.0 L641.5,695.7 L641.9,694.2 L642.3,695.2 L642.8,695.0 L643.2,693.1 L643.6,694.9 L644.0,695.4 L644.5,692.9 L644.9,693.2 L645.3,694.0 L645.7,693.1 L646.2,694.0 L646.6,693.7 L647.0,693.1 L647.4,695.3 L647.9,695.2 L648.3,693.3 L648.7,693.0 L649.1,694.8 L649.6,695.2 L650.0,693.1 L650.4,693.4 L650.8,693.7 L651.3,692.6 L651.6,694.0 L651.7,694.7 L652.1,695.1 L652.5,694.7 L653.0,694.5 L653.4,696.4 L653.8,696.4 L654.2,695.9 L654.7,695.5 L655.1,695.0 L655.5,696.8 L655.9,698.1 L656.4,696.5 L656.8,695.3 L657.2,695.7 L657.6,693.4 L658.1,692.3 L658.5,695.4 L658.9,695.9 L659.4,694.4 L659.8,694.9 L660.2,698.3 L660.6,698.6 L661.1,696.7 L661.5,694.6 L661.9,696.7 L661.9,697.4 L662.3,695.6 L662.8,696.4 L663.2,696.7 L663.6,697.6 L664.0,696.2 L664.5,696.4 L664.9,696.6 L665.3,696.9 L665.7,698.6 L666.2,698.8 L666.6,699.0 L667.0,699.0 L667.4,697.2 L667.9,698.4 L668.3,701.7 L668.7,700.6 L668.8,697.1" fill="none" stroke="#a9d6e6" stroke-width="1.15"/>
<rect x="424.3" y="506.8" width="17.5" height="97.6" fill="none" stroke="#e3262a" stroke-width="1.3" stroke-dasharray="6.4,4.6"/>
<rect x="454.2" y="564.1" width="17" height="89.8" fill="none" stroke="#e3262a" stroke-width="1.3" stroke-dasharray="6.4,4.6"/>
<path d="M385.30,702.9 v-3.8 M408.93,702.9 v-2.0 M432.55,702.9 v-3.8 M456.18,702.9 v-2.0 M479.80,702.9 v-3.8 M503.43,702.9 v-2.0 M527.05,702.9 v-3.8 M550.67,702.9 v-2.0 M574.30,702.9 v-3.8 M597.92,702.9 v-2.0 M621.55,702.9 v-3.8 M645.17,702.9 v-2.0 M668.80,702.9 v-3.8" stroke="#000" stroke-width="1.1"/>
<rect x="385.3" y="500.6" width="283.5" height="202.3" fill="none" stroke="#000" stroke-width="1.4"/>
<text x="380.6" y="706.40" font-size="10.3" font-weight="bold" fill="#000" text-anchor="end" >0</text>
<text x="380.6" y="681.11" font-size="10.3" font-weight="bold" fill="#000" text-anchor="end" >50</text>
<text x="380.6" y="655.83" font-size="10.3" font-weight="bold" fill="#000" text-anchor="end" >100</text>
<text x="380.6" y="630.54" font-size="10.3" font-weight="bold" fill="#000" text-anchor="end" >150</text>
<text x="380.6" y="605.25" font-size="10.3" font-weight="bold" fill="#000" text-anchor="end" >200</text>
<text x="380.6" y="579.96" font-size="10.3" font-weight="bold" fill="#000" text-anchor="end" >250</text>
<text x="380.6" y="554.67" font-size="10.3" font-weight="bold" fill="#000" text-anchor="end" >300</text>
<text x="380.6" y="529.39" font-size="10.3" font-weight="bold" fill="#000" text-anchor="end" >350</text>
<text x="380.6" y="504.10" font-size="10.3" font-weight="bold" fill="#000" text-anchor="end" >400</text>
<text x="385.30" y="716.4" font-size="10.3" font-weight="bold" fill="#000" text-anchor="middle" >0</text>
<text x="432.55" y="716.4" font-size="10.3" font-weight="bold" fill="#000" text-anchor="middle" >2</text>
<text x="479.80" y="716.4" font-size="10.3" font-weight="bold" fill="#000" text-anchor="middle" >4</text>
<text x="527.05" y="716.4" font-size="10.3" font-weight="bold" fill="#000" text-anchor="middle" >6</text>
<text x="574.30" y="716.4" font-size="10.3" font-weight="bold" fill="#000" text-anchor="middle" >8</text>
<text x="621.55" y="716.4" font-size="10.3" font-weight="bold" fill="#000" text-anchor="middle" >10</text>
<text x="668.80" y="716.4" font-size="10.3" font-weight="bold" fill="#000" text-anchor="middle" >12</text>
<text x="360.5" y="597.5" font-size="12" font-weight="bold" text-anchor="middle" transform="rotate(-90 360.5 597.5)">g (r)</text>
<text x="527" y="737" font-size="12.5" font-weight="bold" fill="#000" text-anchor="middle" >r (&#197;)</text>
<rect x="606.1" y="503.4" width="60.5" height="48.6" fill="#fff" stroke="#777" stroke-width="0.7"/>
<line x1="608" y1="512.50" x2="636.4" y2="512.50" stroke="#e6cc7c" stroke-width="1.2"/>
<text x="639.3" y="517.00" font-size="12.5" font-weight="bold" fill="#000" text-anchor="start" >-3%</text>
<line x1="608" y1="528.20" x2="636.4" y2="528.20" stroke="#6f6f6f" stroke-width="1.2"/>
<text x="642.6" y="532.70" font-size="12.5" font-weight="bold" fill="#000" text-anchor="start" >0%</text>
<line x1="608" y1="543.90" x2="636.4" y2="543.90" stroke="#a8d6e6" stroke-width="1.2"/>
<text x="639.3" y="548.40" font-size="12.5" font-weight="bold" fill="#000" text-anchor="start" >+3%</text>
</svg>
</body></html>
